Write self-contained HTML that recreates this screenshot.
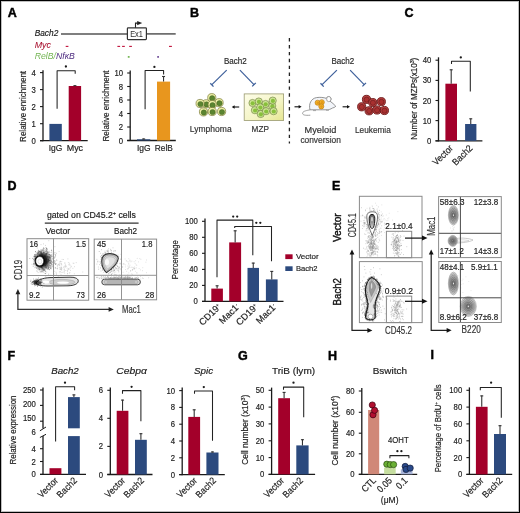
<!DOCTYPE html>
<html><head><meta charset="utf-8"><style>
html,body{margin:0;padding:0;background:#fff;width:520px;height:513px;overflow:hidden}
svg{display:block;will-change:transform}
text{font-family:"Liberation Sans",sans-serif}
</style></head><body><svg width="520" height="513" viewBox="0 0 520 513" font-family='"Liberation Sans", sans-serif' fill="#222"><rect x="0.5" y="0.5" width="519" height="512" fill="none" stroke="#000" stroke-width="1"/>
<rect x="1.5" y="1.5" width="517" height="510" fill="none" stroke="#000" stroke-width="1" opacity="0.25"/>
<text x="7.80" y="16.80" font-size="12.5" fill="#000" font-weight="bold" stroke="#000" stroke-width="0.45">A</text>
<text x="34.70" y="35.90" font-size="8.5" font-style="italic" textLength="23.60" lengthAdjust="spacingAndGlyphs" stroke="#222" stroke-width="0.18">Bach2</text>
<line x1="61.00" y1="33.90" x2="127.30" y2="33.90" stroke="#555" stroke-width="1.5"/>
<line x1="146.50" y1="33.90" x2="175.70" y2="33.90" stroke="#555" stroke-width="1.5"/>
<rect x="127.4" y="27.8" width="19" height="11.8" rx="0.8" fill="#fff" stroke="#333" stroke-width="1.2"/>
<text x="130.20" y="36.60" font-size="9.0" fill="#333" textLength="12.70" lengthAdjust="spacingAndGlyphs" stroke="#333" stroke-width="0.05">Ex1</text>
<path d="M135.5 27.8V23.1H138.2" stroke="#222" stroke-width="1.1" fill="none"/>
<path d="M137.2 20.9L142.2 23.1L137.2 25.3Z" fill="#222"/>
<text x="34.70" y="47.80" font-size="9.2" fill="#a8102e" font-style="italic" textLength="16.30" lengthAdjust="spacingAndGlyphs" stroke="#a8102e" stroke-width="0.05">Myc</text>
<line x1="65.70" y1="46.40" x2="68.40" y2="46.40" stroke="#c0103a" stroke-width="1.1"/>
<line x1="117.40" y1="46.40" x2="120.10" y2="46.40" stroke="#c0103a" stroke-width="1.1"/>
<line x1="122.10" y1="46.40" x2="124.80" y2="46.40" stroke="#c0103a" stroke-width="1.1"/>
<line x1="129.20" y1="46.40" x2="131.90" y2="46.40" stroke="#c0103a" stroke-width="1.1"/>
<line x1="169.00" y1="46.40" x2="171.90" y2="46.40" stroke="#c0103a" stroke-width="1.1"/>
<text x="34.7" y="58.6" font-size="9.2" font-style="italic" textLength="40.1" lengthAdjust="spacingAndGlyphs"><tspan fill="#74b554">RelB/</tspan><tspan fill="#4e2c80">Nf&#954;B</tspan></text>
<rect x="127.80" y="56.00" width="1.80" height="1.80" fill="#7ab85a"/>
<rect x="157.20" y="56.00" width="1.80" height="1.80" fill="#7a5aa0"/>
<line x1="43.00" y1="70.20" x2="43.00" y2="141.30" stroke="#1a1a1a" stroke-width="1.3"/>
<line x1="40.00" y1="140.70" x2="87.70" y2="140.70" stroke="#1a1a1a" stroke-width="1.3"/>
<line x1="40.00" y1="72.60" x2="43.00" y2="72.60" stroke="#1a1a1a" stroke-width="1.1"/>
<text x="35.80" y="75.60" font-size="8.4" text-anchor="end" textLength="4.30" lengthAdjust="spacingAndGlyphs" stroke="#222" stroke-width="0.18">4</text>
<line x1="40.00" y1="89.60" x2="43.00" y2="89.60" stroke="#1a1a1a" stroke-width="1.1"/>
<text x="35.80" y="92.60" font-size="8.4" text-anchor="end" textLength="4.30" lengthAdjust="spacingAndGlyphs" stroke="#222" stroke-width="0.18">3</text>
<line x1="40.00" y1="106.60" x2="43.00" y2="106.60" stroke="#1a1a1a" stroke-width="1.1"/>
<text x="35.80" y="109.60" font-size="8.4" text-anchor="end" textLength="4.30" lengthAdjust="spacingAndGlyphs" stroke="#222" stroke-width="0.18">2</text>
<line x1="40.00" y1="123.70" x2="43.00" y2="123.70" stroke="#1a1a1a" stroke-width="1.1"/>
<text x="35.80" y="126.70" font-size="8.4" text-anchor="end" textLength="4.30" lengthAdjust="spacingAndGlyphs" stroke="#222" stroke-width="0.18">1</text>
<line x1="40.00" y1="140.70" x2="43.00" y2="140.70" stroke="#1a1a1a" stroke-width="1.1"/>
<text x="35.80" y="143.70" font-size="8.4" text-anchor="end" textLength="4.30" lengthAdjust="spacingAndGlyphs" stroke="#222" stroke-width="0.18">0</text>
<rect x="49.40" y="123.90" width="12.40" height="16.80" fill="#2c4a7e"/>
<rect x="68.70" y="86.00" width="12.40" height="54.70" fill="#a3002a"/>
<line x1="74.90" y1="86.00" x2="74.90" y2="85.30" stroke="#333" stroke-width="1.1"/>
<line x1="73.40" y1="85.70" x2="76.40" y2="85.70" stroke="#333" stroke-width="1.1"/>
<path d="M57.10 108.70V70.80H75.20V73.80" stroke="#222" stroke-width="1.05" fill="none" stroke-linejoin="round"/>
<circle cx="65.90" cy="66.50" r="1.15" fill="#1a1a1a"/>
<text x="26.00" y="106.40" font-size="9" text-anchor="middle" textLength="71.00" lengthAdjust="spacingAndGlyphs" transform="rotate(-90 26.00 106.40)" stroke="#222" stroke-width="0.18">Relative enrichment</text>
<text x="48.70" y="151.20" font-size="8.9" textLength="13.60" lengthAdjust="spacingAndGlyphs" stroke="#222" stroke-width="0.18">IgG</text>
<text x="66.70" y="151.20" font-size="8.9" textLength="16.40" lengthAdjust="spacingAndGlyphs" stroke="#222" stroke-width="0.18">Myc</text>
<line x1="130.20" y1="70.40" x2="130.20" y2="141.10" stroke="#1a1a1a" stroke-width="1.3"/>
<line x1="127.20" y1="140.50" x2="175.80" y2="140.50" stroke="#1a1a1a" stroke-width="1.3"/>
<line x1="127.20" y1="73.00" x2="130.20" y2="73.00" stroke="#1a1a1a" stroke-width="1.1"/>
<text x="123.00" y="76.00" font-size="8.4" text-anchor="end" textLength="8.60" lengthAdjust="spacingAndGlyphs" stroke="#222" stroke-width="0.18">10</text>
<line x1="127.20" y1="86.50" x2="130.20" y2="86.50" stroke="#1a1a1a" stroke-width="1.1"/>
<text x="123.00" y="89.50" font-size="8.4" text-anchor="end" textLength="4.30" lengthAdjust="spacingAndGlyphs" stroke="#222" stroke-width="0.18">8</text>
<line x1="127.20" y1="100.00" x2="130.20" y2="100.00" stroke="#1a1a1a" stroke-width="1.1"/>
<text x="123.00" y="103.00" font-size="8.4" text-anchor="end" textLength="4.30" lengthAdjust="spacingAndGlyphs" stroke="#222" stroke-width="0.18">6</text>
<line x1="127.20" y1="113.50" x2="130.20" y2="113.50" stroke="#1a1a1a" stroke-width="1.1"/>
<text x="123.00" y="116.50" font-size="8.4" text-anchor="end" textLength="4.30" lengthAdjust="spacingAndGlyphs" stroke="#222" stroke-width="0.18">4</text>
<line x1="127.20" y1="127.00" x2="130.20" y2="127.00" stroke="#1a1a1a" stroke-width="1.1"/>
<text x="123.00" y="130.00" font-size="8.4" text-anchor="end" textLength="4.30" lengthAdjust="spacingAndGlyphs" stroke="#222" stroke-width="0.18">2</text>
<line x1="127.20" y1="140.50" x2="130.20" y2="140.50" stroke="#1a1a1a" stroke-width="1.1"/>
<text x="123.00" y="143.50" font-size="8.4" text-anchor="end" textLength="4.30" lengthAdjust="spacingAndGlyphs" stroke="#222" stroke-width="0.18">0</text>
<rect x="137.00" y="139.30" width="13.30" height="1.20" fill="#2c4a7e"/>
<line x1="143.65" y1="139.30" x2="143.65" y2="138.60" stroke="#333" stroke-width="1.1"/>
<line x1="142.15" y1="139.00" x2="145.15" y2="139.00" stroke="#333" stroke-width="1.1"/>
<rect x="157.00" y="81.60" width="13.10" height="58.90" fill="#e8961e"/>
<line x1="163.55" y1="81.60" x2="163.55" y2="76.10" stroke="#333" stroke-width="1.1"/>
<line x1="162.05" y1="76.50" x2="165.05" y2="76.50" stroke="#333" stroke-width="1.1"/>
<path d="M145.10 109.20V70.40H163.60V74.40" stroke="#222" stroke-width="1.05" fill="none" stroke-linejoin="round"/>
<circle cx="154.40" cy="66.90" r="1.15" fill="#1a1a1a"/>
<text x="109.10" y="106.00" font-size="9" text-anchor="middle" textLength="71.00" lengthAdjust="spacingAndGlyphs" transform="rotate(-90 109.10 106.00)" stroke="#222" stroke-width="0.18">Relative enrichment</text>
<text x="137.00" y="151.20" font-size="8.9" textLength="13.70" lengthAdjust="spacingAndGlyphs" stroke="#222" stroke-width="0.18">IgG</text>
<text x="154.80" y="151.20" font-size="8.9" textLength="18.00" lengthAdjust="spacingAndGlyphs" stroke="#222" stroke-width="0.18">RelB</text>
<text x="189.90" y="16.90" font-size="12.5" fill="#000" font-weight="bold" stroke="#000" stroke-width="0.45">B</text>
<text x="224.00" y="64.00" font-size="8.5" fill="#2a2a2a" textLength="22.80" lengthAdjust="spacingAndGlyphs" stroke="#2a2a2a" stroke-width="0.18">Bach2</text>
<text x="331.40" y="64.00" font-size="8.5" fill="#2a2a2a" textLength="22.80" lengthAdjust="spacingAndGlyphs" stroke="#2a2a2a" stroke-width="0.18">Bach2</text>
<line x1="226.70" y1="70.10" x2="211.90" y2="84.60" stroke="#3d5f9a" stroke-width="1.2"/>
<line x1="210.30" y1="83.30" x2="213.50" y2="86.60" stroke="#3d5f9a" stroke-width="1.3"/>
<line x1="239.90" y1="70.10" x2="254.20" y2="84.80" stroke="#3d5f9a" stroke-width="1.2"/>
<line x1="252.20" y1="86.40" x2="255.80" y2="82.90" stroke="#3d5f9a" stroke-width="1.3"/>
<line x1="336.90" y1="70.10" x2="322.10" y2="84.60" stroke="#3d5f9a" stroke-width="1.2"/>
<line x1="320.50" y1="83.30" x2="323.70" y2="86.60" stroke="#3d5f9a" stroke-width="1.3"/>
<line x1="350.10" y1="70.10" x2="364.40" y2="84.80" stroke="#3d5f9a" stroke-width="1.2"/>
<line x1="362.40" y1="86.40" x2="366.00" y2="82.90" stroke="#3d5f9a" stroke-width="1.3"/>
<line x1="289.40" y1="38.10" x2="289.40" y2="143.50" stroke="#222" stroke-width="1.3" stroke-dasharray="3.4 3.5"/>
<circle cx="206.20" cy="103.80" r="4.10" fill="#f0f2a8" stroke="#7a7a3a" stroke-width="0.7"/>
<circle cx="206.55" cy="104.40" r="2.70" fill="#5b8530" stroke="#3f5e20" stroke-width="0.4"/>
<circle cx="211.80" cy="97.70" r="4.10" fill="#f0f2a8" stroke="#7a7a3a" stroke-width="0.7"/>
<circle cx="212.15" cy="98.30" r="2.70" fill="#5b8530" stroke="#3f5e20" stroke-width="0.4"/>
<circle cx="200.10" cy="103.50" r="4.10" fill="#f0f2a8" stroke="#7a7a3a" stroke-width="0.7"/>
<circle cx="200.45" cy="104.10" r="2.70" fill="#5b8530" stroke="#3f5e20" stroke-width="0.4"/>
<circle cx="219.10" cy="102.70" r="4.10" fill="#f0f2a8" stroke="#7a7a3a" stroke-width="0.7"/>
<circle cx="219.45" cy="103.30" r="2.70" fill="#5b8530" stroke="#3f5e20" stroke-width="0.4"/>
<circle cx="212.20" cy="104.60" r="4.10" fill="#f0f2a8" stroke="#7a7a3a" stroke-width="0.7"/>
<circle cx="212.55" cy="105.20" r="2.70" fill="#5b8530" stroke="#3f5e20" stroke-width="0.4"/>
<circle cx="203.50" cy="111.90" r="4.10" fill="#f0f2a8" stroke="#7a7a3a" stroke-width="0.7"/>
<circle cx="203.85" cy="112.50" r="2.70" fill="#5b8530" stroke="#3f5e20" stroke-width="0.4"/>
<circle cx="212.20" cy="111.50" r="4.10" fill="#f0f2a8" stroke="#7a7a3a" stroke-width="0.7"/>
<circle cx="212.55" cy="112.10" r="2.70" fill="#5b8530" stroke="#3f5e20" stroke-width="0.4"/>
<circle cx="221.60" cy="111.50" r="4.10" fill="#f0f2a8" stroke="#7a7a3a" stroke-width="0.7"/>
<circle cx="221.95" cy="112.10" r="2.70" fill="#5b8530" stroke="#3f5e20" stroke-width="0.4"/>
<line x1="233.50" y1="107.00" x2="239.20" y2="107.00" stroke="#111" stroke-width="1.1"/>
<path d="M231.8 107L234.6 105.3L234.6 108.7Z" fill="#111"/>
<defs><linearGradient id="mzp" x1="0" y1="0" x2="1" y2="1"><stop offset="0" stop-color="#fdfde8"/><stop offset="0.6" stop-color="#f4f4c4"/><stop offset="1" stop-color="#e6e690"/></linearGradient></defs>
<rect x="244.2" y="93.9" width="39.4" height="26.6" fill="url(#mzp)" stroke="#9a9a70" stroke-width="0.8"/>
<circle cx="272.20" cy="105.90" r="3.60" fill="#cde595" stroke="#6a7a3a" stroke-width="0.6"/>
<circle cx="272.40" cy="106.20" r="2.10" fill="#88c03c"/>
<circle cx="252.50" cy="103.00" r="3.60" fill="#cde595" stroke="#6a7a3a" stroke-width="0.6"/>
<circle cx="252.70" cy="103.30" r="2.10" fill="#88c03c"/>
<circle cx="258.75" cy="101.50" r="3.60" fill="#cde595" stroke="#6a7a3a" stroke-width="0.6"/>
<circle cx="258.95" cy="101.80" r="2.10" fill="#88c03c"/>
<circle cx="265.50" cy="104.00" r="3.60" fill="#cde595" stroke="#6a7a3a" stroke-width="0.6"/>
<circle cx="265.70" cy="104.30" r="2.10" fill="#88c03c"/>
<circle cx="272.70" cy="100.60" r="3.60" fill="#cde595" stroke="#6a7a3a" stroke-width="0.6"/>
<circle cx="272.90" cy="100.90" r="2.10" fill="#88c03c"/>
<circle cx="254.90" cy="110.20" r="3.60" fill="#cde595" stroke="#6a7a3a" stroke-width="0.6"/>
<circle cx="255.10" cy="110.50" r="2.10" fill="#88c03c"/>
<circle cx="260.20" cy="107.30" r="3.60" fill="#cde595" stroke="#6a7a3a" stroke-width="0.6"/>
<circle cx="260.40" cy="107.60" r="2.10" fill="#88c03c"/>
<circle cx="260.70" cy="114.00" r="3.60" fill="#cde595" stroke="#6a7a3a" stroke-width="0.6"/>
<circle cx="260.90" cy="114.30" r="2.10" fill="#88c03c"/>
<circle cx="266.00" cy="111.20" r="3.60" fill="#cde595" stroke="#6a7a3a" stroke-width="0.6"/>
<circle cx="266.20" cy="111.50" r="2.10" fill="#88c03c"/>
<circle cx="273.60" cy="111.20" r="3.60" fill="#cde595" stroke="#6a7a3a" stroke-width="0.6"/>
<circle cx="273.80" cy="111.50" r="2.10" fill="#88c03c"/>
<line x1="294.50" y1="106.80" x2="299.20" y2="106.80" stroke="#111" stroke-width="1.1"/>
<path d="M301.6 106.8L298.6 105.1L298.6 108.5Z" fill="#111"/>
<line x1="342.60" y1="106.80" x2="347.50" y2="106.80" stroke="#111" stroke-width="1.1"/>
<path d="M350 106.8L347 105.1L347 108.5Z" fill="#111"/>
<path d="M310 109.8C308.5 104 311 98.5 316.5 97.6C320 97 324 97.5 326.2 98.3C327 96.3 330.5 96.3 331 98.6C331.2 99.8 330.5 100.6 329.8 101C332 102.5 334.2 104.5 335.8 106.3C335 107.3 333.5 107.8 332.5 108C330.5 109.3 328.5 109.8 327.5 109.8Z" stroke="#7a7a7a" stroke-width="0.8" fill="#f2f5fa"/>
<ellipse cx="328.8" cy="99.1" rx="2.2" ry="2.6" fill="#fff" stroke="#888" stroke-width="0.7"/>
<path d="M310 109.8C307 110.5 303 111 302.6 113C302.3 115 305 115.6 310.3 115.2" stroke="#888" stroke-width="0.8" fill="none"/>
<line x1="313.00" y1="110.60" x2="316.00" y2="110.60" stroke="#888" stroke-width="0.7"/>
<line x1="326.00" y1="110.20" x2="329.00" y2="110.20" stroke="#888" stroke-width="0.7"/>
<circle cx="317.60" cy="102.70" r="2.55" fill="#f3b32a" stroke="#b87410" stroke-width="0.6"/>
<circle cx="317.80" cy="102.90" r="1.30" fill="#e39a1a"/>
<circle cx="321.80" cy="102.20" r="2.55" fill="#f3b32a" stroke="#b87410" stroke-width="0.6"/>
<circle cx="322.00" cy="102.40" r="1.30" fill="#e39a1a"/>
<circle cx="321.30" cy="106.40" r="2.55" fill="#f3b32a" stroke="#b87410" stroke-width="0.6"/>
<circle cx="321.50" cy="106.60" r="1.30" fill="#e39a1a"/>
<circle cx="366.50" cy="99.40" r="4.10" fill="#bb4242" stroke="#6a1a1a" stroke-width="0.9"/>
<circle cx="366.60" cy="99.60" r="2.60" fill="#a83030" stroke="#701c1c" stroke-width="0.7"/>
<circle cx="372.80" cy="102.60" r="4.10" fill="#bb4242" stroke="#6a1a1a" stroke-width="0.9"/>
<circle cx="372.90" cy="102.80" r="2.60" fill="#a83030" stroke="#701c1c" stroke-width="0.7"/>
<circle cx="381.30" cy="101.70" r="4.10" fill="#bb4242" stroke="#6a1a1a" stroke-width="0.9"/>
<circle cx="381.40" cy="101.90" r="2.60" fill="#a83030" stroke="#701c1c" stroke-width="0.7"/>
<circle cx="361.70" cy="106.80" r="4.10" fill="#bb4242" stroke="#6a1a1a" stroke-width="0.9"/>
<circle cx="361.80" cy="107.00" r="2.60" fill="#a83030" stroke="#701c1c" stroke-width="0.7"/>
<circle cx="369.10" cy="110.80" r="4.10" fill="#bb4242" stroke="#6a1a1a" stroke-width="0.9"/>
<circle cx="369.20" cy="111.00" r="2.60" fill="#a83030" stroke="#701c1c" stroke-width="0.7"/>
<circle cx="377.00" cy="110.00" r="4.10" fill="#bb4242" stroke="#6a1a1a" stroke-width="0.9"/>
<circle cx="377.10" cy="110.20" r="2.60" fill="#a83030" stroke="#701c1c" stroke-width="0.7"/>
<circle cx="384.40" cy="110.50" r="4.10" fill="#bb4242" stroke="#6a1a1a" stroke-width="0.9"/>
<circle cx="384.50" cy="110.70" r="2.60" fill="#a83030" stroke="#701c1c" stroke-width="0.7"/>
<text x="189.80" y="131.50" font-size="9.1" fill="#333" textLength="41.90" lengthAdjust="spacingAndGlyphs" stroke="#333" stroke-width="0.18">Lymphoma</text>
<text x="251.60" y="131.50" font-size="9.1" fill="#333" textLength="17.30" lengthAdjust="spacingAndGlyphs" stroke="#333" stroke-width="0.18">MZP</text>
<text x="304.60" y="133.00" font-size="9.1" fill="#333" textLength="31.70" lengthAdjust="spacingAndGlyphs" stroke="#333" stroke-width="0.18">Myeloid</text>
<text x="300.40" y="142.60" font-size="9.1" fill="#333" textLength="40.40" lengthAdjust="spacingAndGlyphs" stroke="#333" stroke-width="0.18">conversion</text>
<text x="355.00" y="133.00" font-size="9.1" fill="#333" textLength="35.80" lengthAdjust="spacingAndGlyphs" stroke="#333" stroke-width="0.18">Leukemia</text>
<text x="404.40" y="16.90" font-size="12.5" fill="#000" font-weight="bold" stroke="#000" stroke-width="0.45">C</text>
<line x1="438.50" y1="57.30" x2="438.50" y2="141.40" stroke="#1a1a1a" stroke-width="1.3"/>
<line x1="435.50" y1="140.80" x2="482.40" y2="140.80" stroke="#1a1a1a" stroke-width="1.3"/>
<line x1="435.50" y1="60.20" x2="438.50" y2="60.20" stroke="#1a1a1a" stroke-width="1.1"/>
<text x="431.30" y="63.20" font-size="8.4" text-anchor="end" textLength="8.60" lengthAdjust="spacingAndGlyphs" stroke="#222" stroke-width="0.18">40</text>
<line x1="435.50" y1="80.40" x2="438.50" y2="80.40" stroke="#1a1a1a" stroke-width="1.1"/>
<text x="431.30" y="83.40" font-size="8.4" text-anchor="end" textLength="8.60" lengthAdjust="spacingAndGlyphs" stroke="#222" stroke-width="0.18">30</text>
<line x1="435.50" y1="100.50" x2="438.50" y2="100.50" stroke="#1a1a1a" stroke-width="1.1"/>
<text x="431.30" y="103.50" font-size="8.4" text-anchor="end" textLength="8.60" lengthAdjust="spacingAndGlyphs" stroke="#222" stroke-width="0.18">20</text>
<line x1="435.50" y1="120.60" x2="438.50" y2="120.60" stroke="#1a1a1a" stroke-width="1.1"/>
<text x="431.30" y="123.60" font-size="8.4" text-anchor="end" textLength="8.60" lengthAdjust="spacingAndGlyphs" stroke="#222" stroke-width="0.18">10</text>
<line x1="435.50" y1="140.80" x2="438.50" y2="140.80" stroke="#1a1a1a" stroke-width="1.1"/>
<text x="431.30" y="143.80" font-size="8.4" text-anchor="end" textLength="4.30" lengthAdjust="spacingAndGlyphs" stroke="#222" stroke-width="0.18">0</text>
<rect x="445.40" y="83.70" width="11.60" height="57.10" fill="#a3002a"/>
<line x1="451.20" y1="83.70" x2="451.20" y2="69.40" stroke="#333" stroke-width="1.1"/>
<line x1="449.70" y1="69.80" x2="452.70" y2="69.80" stroke="#333" stroke-width="1.1"/>
<rect x="465.10" y="124.00" width="11.30" height="16.80" fill="#2c4a7e"/>
<line x1="470.75" y1="124.00" x2="470.75" y2="118.40" stroke="#333" stroke-width="1.1"/>
<line x1="469.25" y1="118.80" x2="472.25" y2="118.80" stroke="#333" stroke-width="1.1"/>
<path d="M451.50 64.00V61.20H470.30V91.50" stroke="#222" stroke-width="1.05" fill="none" stroke-linejoin="round"/>
<circle cx="460.80" cy="57.40" r="1.15" fill="#1a1a1a"/>
<text x="417.00" y="98.70" font-size="8.5" text-anchor="middle" textLength="82.00" lengthAdjust="spacingAndGlyphs" transform="rotate(-90 417.00 98.70)" stroke="#222" stroke-width="0.18">Number of MZPs(x10<tspan font-size="5.5" dy="-3">3</tspan><tspan dy="3">)</tspan></text>
<text x="453.60" y="148.80" font-size="9.5" text-anchor="end" textLength="24.40" lengthAdjust="spacingAndGlyphs" transform="rotate(-45 453.60 148.80)" stroke="#222" stroke-width="0.18">Vector</text>
<text x="473.20" y="148.80" font-size="9.5" text-anchor="end" textLength="24.40" lengthAdjust="spacingAndGlyphs" transform="rotate(-45 473.20 148.80)" stroke="#222" stroke-width="0.18">Bach2</text>
<text x="7.50" y="189.80" font-size="12.5" fill="#000" font-weight="bold" stroke="#000" stroke-width="0.45">D</text>
<text x="46.90" y="217.80" font-size="8.5" textLength="89.00" lengthAdjust="spacingAndGlyphs" stroke="#222" stroke-width="0.18">gated on CD45.2<tspan font-size="5.5" dy="-3.2">+</tspan><tspan dy="3.2"> cells</tspan></text>
<line x1="44.80" y1="223.20" x2="138.60" y2="223.20" stroke="#333" stroke-width="1.2"/>
<text x="45.50" y="233.70" font-size="8.8" textLength="24.70" lengthAdjust="spacingAndGlyphs" stroke="#222" stroke-width="0.18">Vector</text>
<text x="114.00" y="233.70" font-size="8.8" textLength="23.10" lengthAdjust="spacingAndGlyphs" stroke="#222" stroke-width="0.18">Bach2</text>
<rect x="27.00" y="238.70" width="61.70" height="61.50" fill="#fff"/>
<defs><radialGradient id="cl1"><stop offset="0" stop-color="#000" stop-opacity="0.95"/><stop offset="0.45" stop-color="#111" stop-opacity="0.8"/><stop offset="0.8" stop-color="#444" stop-opacity="0.3"/><stop offset="1" stop-color="#888" stop-opacity="0"/></radialGradient></defs>
<ellipse cx="42.3" cy="260.6" rx="10" ry="11" fill="url(#cl1)"/>
<path d="M41.5 262.1h.01M40.5 256.9h.01M39.9 256.4h.01M41.7 266.7h.01M39.7 258.1h.01M43.3 262.4h.01M41.9 256.7h.01M41.4 263.9h.01M36.7 258.8h.01M34.7 255.1h.01M34.9 259.8h.01M36.9 262.0h.01M42.1 260.0h.01M32.4 258.4h.01M41.3 261.3h.01M36.0 258.7h.01M38.0 257.2h.01M45.3 257.2h.01M41.4 264.7h.01M39.4 260.3h.01M41.9 261.1h.01M37.1 261.1h.01M46.4 254.0h.01M44.6 261.3h.01M39.2 269.6h.01M44.2 255.5h.01M41.8 263.3h.01M40.8 263.8h.01M41.3 263.7h.01M46.7 257.8h.01M42.2 258.8h.01M42.0 255.6h.01M39.4 259.9h.01M44.7 265.8h.01M36.7 257.3h.01M43.8 252.0h.01M39.8 260.4h.01M46.0 263.8h.01M40.3 259.2h.01M40.6 267.5h.01M40.0 259.5h.01M42.8 260.3h.01M40.8 255.9h.01M41.5 258.8h.01M45.7 263.7h.01M41.4 263.7h.01M40.3 265.4h.01M41.5 263.4h.01M36.9 262.3h.01M35.4 251.8h.01M40.4 256.8h.01M42.1 270.7h.01M38.5 258.1h.01M42.2 263.0h.01M40.9 259.9h.01M44.0 263.1h.01M37.8 260.5h.01M41.6 256.2h.01M42.4 257.0h.01M45.0 261.6h.01M41.8 258.2h.01M41.1 252.0h.01M37.4 262.4h.01M33.8 264.5h.01M35.2 264.1h.01M38.5 264.2h.01M42.0 254.0h.01M46.0 267.1h.01M41.3 259.6h.01M40.9 256.5h.01M45.5 258.4h.01M41.3 257.3h.01M39.2 255.2h.01M46.0 260.1h.01M45.0 260.9h.01M39.0 259.4h.01M39.5 260.8h.01M40.1 259.5h.01M36.5 257.2h.01M47.5 257.8h.01M37.7 262.3h.01M46.6 254.4h.01M40.7 258.0h.01M35.2 264.0h.01M41.4 261.1h.01M38.8 262.8h.01M39.6 260.2h.01M37.5 255.4h.01M46.3 258.6h.01M42.6 260.7h.01M39.9 258.6h.01M43.8 259.5h.01M41.0 260.9h.01M45.7 263.8h.01M42.9 258.3h.01M36.5 265.0h.01M45.0 260.2h.01M43.5 264.2h.01M44.5 264.9h.01M39.9 267.5h.01M37.0 264.6h.01M43.3 264.6h.01M48.3 267.3h.01M37.4 253.4h.01M44.4 256.3h.01M41.5 264.5h.01M35.6 251.5h.01M42.4 261.0h.01M40.6 261.0h.01M38.4 254.1h.01M40.9 256.5h.01M35.6 263.0h.01M41.3 262.6h.01M37.9 257.9h.01M37.9 256.9h.01M42.2 257.4h.01M42.8 262.3h.01M48.8 254.7h.01M44.7 260.4h.01M41.4 254.4h.01M39.8 264.1h.01M41.2 261.2h.01M40.5 265.9h.01M41.4 251.1h.01M39.0 252.1h.01M29.8 258.5h.01M46.3 261.0h.01M37.3 256.7h.01M45.6 261.5h.01M41.7 260.6h.01M41.6 264.3h.01M43.5 261.7h.01M37.7 263.0h.01M39.0 265.6h.01M36.9 260.2h.01M41.5 255.0h.01M47.7 267.2h.01M39.8 264.2h.01M42.9 249.3h.01M42.4 260.5h.01M41.8 256.1h.01M40.5 260.0h.01M45.8 262.3h.01M41.5 267.5h.01M39.5 259.1h.01M35.0 267.7h.01M45.0 264.8h.01M43.9 261.3h.01M42.3 259.7h.01M40.8 261.0h.01M46.9 263.2h.01M41.3 258.3h.01M39.2 267.9h.01M43.3 261.1h.01M40.3 255.9h.01M41.3 264.6h.01M40.1 259.8h.01M40.7 261.3h.01M35.8 259.8h.01M38.4 264.7h.01M38.7 263.3h.01M47.0 259.4h.01M39.3 261.6h.01M41.5 256.4h.01M43.2 269.7h.01M40.6 259.9h.01M37.7 262.2h.01M37.0 255.9h.01M46.1 256.8h.01M45.4 267.5h.01M42.4 263.2h.01M48.5 259.9h.01M39.4 254.8h.01M41.7 267.3h.01M45.0 256.7h.01M38.4 258.6h.01M42.6 259.9h.01M42.3 262.1h.01M40.4 260.6h.01M42.2 260.4h.01M43.3 269.0h.01M43.6 261.0h.01M35.4 262.5h.01M34.5 254.6h.01M44.6 263.9h.01M41.0 253.3h.01M40.2 257.8h.01M43.8 270.7h.01M42.3 257.4h.01M37.3 260.6h.01M40.9 255.7h.01M41.9 255.7h.01M45.5 265.5h.01M45.4 258.7h.01M43.4 260.2h.01M40.1 259.3h.01M36.8 254.4h.01M44.4 260.0h.01M42.3 265.2h.01M35.3 257.3h.01M42.1 262.5h.01M40.1 265.3h.01M42.3 255.5h.01M38.1 264.3h.01M43.2 252.4h.01M46.4 263.4h.01M46.3 259.1h.01M40.4 255.8h.01M50.6 260.0h.01M47.2 258.0h.01M42.1 253.4h.01M40.1 265.1h.01M37.0 265.5h.01M42.7 256.2h.01M39.7 258.8h.01M41.3 258.4h.01M38.5 259.5h.01M37.8 255.1h.01M41.3 264.7h.01M36.0 260.8h.01M39.2 256.5h.01M44.6 258.5h.01M46.9 257.4h.01M42.9 259.8h.01M38.8 263.4h.01M40.9 263.5h.01M41.3 256.0h.01M41.1 261.0h.01M45.0 256.8h.01M41.4 253.2h.01M43.8 256.0h.01M35.0 260.5h.01M45.5 254.1h.01M37.6 257.5h.01M37.4 262.5h.01M38.6 257.6h.01M43.6 257.5h.01M43.1 256.5h.01M37.1 252.7h.01M48.2 259.4h.01M42.4 260.7h.01M42.1 261.0h.01M48.4 256.2h.01M35.9 256.3h.01M36.7 264.1h.01M44.5 256.6h.01M36.5 259.2h.01M46.5 248.4h.01M43.4 256.1h.01M45.2 256.1h.01M40.5 254.2h.01M38.0 266.9h.01M44.5 259.0h.01M38.4 252.5h.01M40.1 260.7h.01M41.2 260.4h.01M37.5 260.5h.01M41.4 266.5h.01M48.2 260.2h.01M38.7 260.5h.01M39.3 257.5h.01M41.3 256.2h.01M43.7 260.3h.01M42.4 260.0h.01M38.9 256.6h.01M40.6 258.4h.01M42.3 260.8h.01M36.6 261.1h.01M36.7 258.1h.01M40.4 251.7h.01M41.8 261.5h.01M40.9 258.9h.01M40.2 256.5h.01M40.5 258.4h.01M41.8 255.5h.01M42.3 261.4h.01M41.0 258.9h.01M43.5 253.5h.01M43.2 261.9h.01M42.5 262.5h.01M39.1 259.7h.01M43.8 262.7h.01M42.2 254.1h.01M43.4 265.9h.01M45.1 261.8h.01M35.9 264.9h.01M41.0 249.7h.01M42.9 254.2h.01M36.8 258.0h.01M46.1 259.2h.01M42.5 268.5h.01M47.2 260.3h.01M40.6 255.3h.01M39.0 262.7h.01M42.9 261.3h.01M45.1 257.4h.01M41.3 264.0h.01M43.6 265.5h.01M42.9 259.4h.01M42.8 256.4h.01M35.6 263.4h.01M41.3 262.2h.01M35.4 259.2h.01M39.3 257.0h.01M33.4 259.3h.01M44.7 262.5h.01M39.3 260.7h.01M44.2 248.7h.01M41.1 263.2h.01M44.0 268.3h.01M45.6 262.2h.01M42.6 264.3h.01M39.6 260.6h.01M44.8 269.4h.01M40.9 260.6h.01M42.2 266.7h.01M41.4 267.3h.01M38.0 260.0h.01M40.8 264.3h.01M45.3 254.2h.01M38.2 262.3h.01M39.1 254.1h.01M45.2 263.0h.01M43.3 258.7h.01M45.2 259.7h.01M45.4 256.8h.01M38.4 261.7h.01M39.0 263.8h.01M42.4 256.7h.01M41.8 259.3h.01M44.8 258.0h.01M39.9 266.1h.01M49.6 269.6h.01M41.7 261.8h.01M47.0 260.3h.01M38.0 261.3h.01M43.1 257.2h.01M35.6 254.5h.01M43.9 257.5h.01M41.0 261.7h.01M43.7 259.3h.01M43.3 256.9h.01M40.2 256.3h.01M45.6 260.7h.01M38.8 259.2h.01M40.7 263.9h.01M35.8 256.2h.01M40.1 271.9h.01M44.9 260.3h.01M44.1 269.9h.01M40.7 259.2h.01M45.9 263.0h.01M43.9 258.6h.01M48.4 268.3h.01M43.5 263.8h.01M34.2 263.6h.01M40.8 262.7h.01M44.0 259.3h.01M35.4 262.4h.01M38.8 259.3h.01M39.3 259.3h.01M33.2 266.2h.01M42.4 265.7h.01M48.6 260.9h.01M35.0 256.9h.01M37.2 258.6h.01M41.8 252.0h.01M42.7 254.2h.01M42.6 260.3h.01M40.4 260.5h.01M39.6 258.1h.01M35.4 260.7h.01M48.1 269.5h.01M46.3 263.9h.01M39.1 267.1h.01M41.3 260.5h.01M40.5 261.2h.01M39.9 260.4h.01M37.6 259.2h.01M49.7 260.5h.01M40.6 263.1h.01M44.0 255.9h.01M40.8 264.8h.01M42.5 261.3h.01M47.1 257.8h.01M41.8 258.5h.01M46.9 252.2h.01M39.1 258.5h.01M43.9 263.5h.01M46.5 253.9h.01M44.2 259.5h.01M39.1 263.2h.01M38.2 251.7h.01M40.2 254.2h.01M39.2 262.4h.01M42.6 267.8h.01M40.8 254.1h.01M38.8 256.8h.01M37.1 262.7h.01M39.2 252.1h.01M44.0 260.3h.01M42.8 261.3h.01M43.8 261.0h.01M46.0 262.7h.01M42.9 262.6h.01M36.3 260.1h.01M40.6 261.7h.01M36.6 268.0h.01M41.9 255.5h.01M35.3 259.6h.01M41.2 257.6h.01M41.8 258.0h.01M43.5 257.6h.01M41.4 265.1h.01M50.8 256.4h.01M39.8 257.1h.01M44.3 255.7h.01M39.8 260.7h.01M38.0 256.6h.01M39.8 251.6h.01M36.3 259.0h.01M42.0 260.0h.01M35.1 258.8h.01M44.4 263.2h.01M41.2 256.9h.01M43.8 258.3h.01M37.3 257.3h.01M46.7 261.8h.01M45.7 258.7h.01M44.9 258.2h.01M40.9 271.7h.01M44.3 258.6h.01M41.2 262.2h.01M45.9 258.6h.01M35.2 259.6h.01M41.6 261.3h.01M46.2 262.2h.01M44.4 256.0h.01M44.6 270.0h.01M44.3 261.9h.01M42.1 268.7h.01M38.2 260.3h.01M43.2 264.1h.01M39.9 262.2h.01M40.5 261.3h.01M41.0 255.8h.01M41.4 264.7h.01M38.0 259.7h.01M43.9 256.1h.01M42.2 256.1h.01M45.6 271.0h.01M48.8 259.8h.01M44.2 261.3h.01M41.9 267.6h.01M36.8 265.4h.01M41.3 267.0h.01M42.2 257.8h.01M42.5 264.0h.01M41.6 262.9h.01M39.6 251.4h.01M44.7 263.9h.01M42.0 261.1h.01M45.2 258.8h.01M39.0 260.0h.01M45.8 254.7h.01M45.8 258.0h.01M37.5 266.3h.01M41.2 255.1h.01M40.2 264.9h.01M45.8 258.9h.01M43.0 263.9h.01M39.2 262.4h.01M41.4 258.4h.01M39.7 261.1h.01M41.6 258.3h.01M40.0 265.7h.01M42.3 264.7h.01M45.8 263.4h.01M49.7 257.2h.01M44.4 259.4h.01M48.2 268.3h.01M34.5 256.5h.01M43.9 264.3h.01M44.2 260.5h.01M43.1 263.7h.01M41.2 265.3h.01M33.4 263.6h.01M37.8 265.0h.01M40.7 256.9h.01M42.8 256.8h.01M38.2 253.9h.01M41.4 263.0h.01M45.2 260.2h.01M45.3 260.9h.01M41.2 263.3h.01M45.3 259.3h.01M40.6 260.1h.01M41.8 256.8h.01M45.2 259.0h.01M43.2 257.2h.01M42.8 262.5h.01M40.0 269.7h.01M42.8 268.6h.01M45.0 257.9h.01M40.1 262.7h.01M41.7 261.0h.01M40.5 252.8h.01M40.7 251.0h.01M42.8 257.6h.01M38.9 259.8h.01M42.5 254.5h.01M35.2 256.1h.01M34.1 256.5h.01M47.2 256.2h.01M43.8 254.8h.01M42.6 259.4h.01M41.3 263.3h.01M47.8 261.7h.01M41.9 256.5h.01M43.6 259.7h.01M44.5 260.6h.01M47.8 252.1h.01M40.4 264.7h.01M40.2 257.3h.01M40.5 254.7h.01M41.9 271.5h.01M45.6 255.9h.01M38.4 259.0h.01M45.1 257.2h.01M39.0 264.7h.01M44.6 259.2h.01M37.5 254.0h.01M39.0 251.0h.01M44.2 258.0h.01M43.2 269.0h.01M45.7 255.7h.01M44.6 265.9h.01M38.8 256.6h.01M41.1 253.8h.01M46.8 250.2h.01M37.5 259.6h.01M40.7 261.5h.01M42.5 259.9h.01M45.6 251.4h.01M41.5 257.7h.01M42.0 261.8h.01M38.2 258.0h.01M44.4 262.3h.01M39.1 269.8h.01M49.8 254.4h.01M42.6 271.8h.01M44.3 261.8h.01M40.8 258.4h.01M40.7 258.4h.01M44.2 259.0h.01M39.9 255.5h.01M41.3 256.9h.01M40.8 265.4h.01M42.8 263.0h.01M42.8 261.1h.01M41.0 259.4h.01M44.2 256.0h.01M46.3 260.9h.01M38.8 258.6h.01M39.1 261.5h.01M38.9 265.8h.01M38.7 250.8h.01M38.9 252.0h.01M41.4 265.5h.01M43.8 254.9h.01M38.8 268.6h.01M42.6 260.8h.01M45.3 271.6h.01M46.2 261.4h.01M42.8 263.5h.01M39.3 256.1h.01M41.7 256.6h.01M41.3 261.2h.01M49.9 257.1h.01M41.1 260.1h.01M43.1 265.4h.01M39.7 257.2h.01M35.6 256.7h.01M43.4 261.0h.01M37.8 259.2h.01M41.6 263.0h.01M39.4 259.7h.01M35.0 255.7h.01M47.3 251.2h.01M40.3 261.8h.01M40.2 257.2h.01M41.3 260.8h.01M41.2 252.5h.01M41.0 257.0h.01M39.5 261.8h.01M43.8 264.7h.01M39.7 264.9h.01M45.7 265.8h.01M46.5 260.2h.01M40.9 264.4h.01" stroke="#111" stroke-width="0.6" stroke-linecap="round" opacity="0.6"/>
<path d="M41.1 261.5h.01M44.1 258.8h.01M39.7 256.4h.01M45.9 264.6h.01M49.6 260.1h.01M45.3 256.7h.01M47.4 259.4h.01M48.2 268.6h.01M45.9 253.6h.01M42.9 253.8h.01M41.7 266.5h.01M46.8 253.5h.01M48.4 266.3h.01M44.7 257.4h.01M44.8 261.8h.01M48.3 265.9h.01M50.4 266.0h.01M50.9 263.5h.01M40.5 259.9h.01M47.1 258.7h.01M49.3 258.8h.01M42.7 267.1h.01M48.4 261.5h.01M49.3 265.4h.01M47.2 249.2h.01M43.6 258.4h.01M42.5 261.4h.01M50.3 258.3h.01M41.9 269.8h.01M44.4 254.8h.01M46.9 262.5h.01M43.5 264.1h.01M44.2 256.3h.01M46.6 264.0h.01M43.7 262.0h.01M45.7 273.5h.01M43.4 266.9h.01M45.8 259.9h.01M48.6 264.6h.01M50.6 262.0h.01M43.8 258.0h.01M47.8 263.2h.01M51.0 262.4h.01M49.8 267.5h.01M46.6 253.7h.01M41.8 253.9h.01M51.7 256.6h.01M50.4 263.2h.01M52.2 265.1h.01M45.6 259.6h.01M46.3 261.3h.01M44.1 260.3h.01M51.8 252.7h.01M46.9 256.3h.01M46.7 264.4h.01M45.8 264.1h.01M40.3 265.6h.01M43.8 263.4h.01M46.7 248.6h.01M43.3 261.5h.01M51.6 261.8h.01M46.9 254.0h.01M51.2 268.8h.01M46.1 259.5h.01M40.2 264.6h.01M55.7 263.8h.01M50.5 263.0h.01M42.5 266.6h.01M41.6 259.5h.01M47.0 264.6h.01M47.5 262.3h.01M43.3 254.6h.01M46.2 257.2h.01M41.3 254.7h.01M44.2 252.0h.01M41.1 253.0h.01M46.7 262.4h.01M53.2 253.6h.01M43.6 264.7h.01M45.2 259.0h.01M52.2 258.9h.01M41.8 254.4h.01M47.2 261.9h.01M41.1 256.0h.01M47.9 263.2h.01M43.7 263.4h.01M48.1 252.3h.01M44.9 262.4h.01M43.9 250.7h.01M45.0 264.0h.01M51.7 250.4h.01M55.4 255.3h.01M49.4 266.2h.01M49.5 261.2h.01M41.8 263.4h.01M43.4 248.9h.01M56.2 263.8h.01M52.5 256.3h.01M51.3 267.8h.01M51.6 260.4h.01M41.7 259.7h.01M38.1 252.7h.01M46.3 255.9h.01M45.4 260.0h.01M53.0 266.5h.01M45.8 266.1h.01M43.2 259.0h.01M49.3 254.8h.01M45.0 254.4h.01M46.4 268.0h.01M43.3 261.5h.01M42.8 255.2h.01M41.6 267.2h.01M54.5 262.7h.01M43.4 263.7h.01M44.8 264.2h.01M47.0 261.8h.01M48.2 257.8h.01M44.5 252.6h.01M44.4 254.0h.01M45.5 256.1h.01M46.4 262.6h.01M40.9 256.8h.01M42.6 263.9h.01M52.1 264.4h.01M44.7 267.2h.01M40.5 267.4h.01M43.6 247.7h.01M55.5 267.8h.01M42.3 261.3h.01M45.2 261.0h.01M40.7 257.4h.01M47.7 261.5h.01M50.3 260.9h.01M54.5 257.2h.01M46.9 251.7h.01M41.5 266.6h.01M42.6 262.9h.01M45.8 255.7h.01M44.7 258.1h.01M44.2 264.0h.01M48.3 257.8h.01M42.7 261.8h.01M45.6 265.2h.01M55.6 264.4h.01M45.9 259.7h.01M42.9 256.3h.01M42.4 258.7h.01M44.5 263.9h.01M44.6 259.6h.01M41.6 268.1h.01M47.8 268.7h.01M48.9 267.4h.01M45.1 263.8h.01M55.7 254.9h.01M50.2 268.3h.01M47.5 264.0h.01M50.6 257.4h.01M47.5 256.4h.01M43.5 257.6h.01M45.5 261.2h.01M47.7 253.8h.01M53.3 265.9h.01M48.7 258.8h.01M45.7 263.1h.01M47.5 252.6h.01M48.7 274.2h.01M39.2 265.2h.01M47.4 260.0h.01M51.1 254.9h.01M46.6 267.4h.01M45.3 258.5h.01M46.4 258.4h.01M51.7 256.2h.01M49.2 254.6h.01M48.5 260.0h.01M36.4 260.5h.01M42.1 258.4h.01M51.7 255.2h.01M42.1 267.3h.01M46.4 267.8h.01M47.2 256.3h.01M45.8 266.3h.01M49.5 260.5h.01M46.2 260.0h.01M43.9 269.6h.01M46.0 255.2h.01M44.2 263.9h.01M48.4 259.9h.01M43.5 260.6h.01M39.8 254.3h.01M49.0 258.2h.01M47.4 266.3h.01M48.4 260.6h.01M53.9 263.7h.01M44.7 264.0h.01M47.5 256.5h.01M46.3 259.7h.01M38.7 259.7h.01M45.0 258.4h.01M39.9 258.8h.01M45.9 261.0h.01M41.8 263.5h.01M41.5 259.4h.01M50.8 257.2h.01M44.1 265.6h.01M44.6 259.1h.01M46.8 265.5h.01M37.8 256.6h.01M42.3 255.4h.01M42.8 256.5h.01M47.1 256.3h.01M46.5 262.4h.01M43.3 261.1h.01M52.0 262.0h.01M43.6 260.2h.01M42.6 261.8h.01M49.2 256.6h.01M45.2 265.7h.01M44.2 261.4h.01M42.2 256.7h.01M44.1 270.5h.01M44.5 258.1h.01M44.0 259.7h.01M48.4 261.4h.01M53.4 261.5h.01M51.2 261.8h.01M48.2 253.9h.01M45.5 260.2h.01M45.1 250.6h.01M49.2 258.7h.01M44.4 259.3h.01M45.2 262.4h.01M41.4 256.2h.01M47.0 261.2h.01M44.6 257.9h.01M43.0 260.2h.01M50.3 255.6h.01M51.5 264.4h.01M44.4 264.1h.01M40.7 252.5h.01M41.4 258.6h.01M44.8 258.1h.01M46.4 250.7h.01M47.8 254.0h.01M43.6 258.6h.01M41.8 254.2h.01M42.4 260.4h.01M48.1 263.1h.01M42.4 256.9h.01M42.7 262.6h.01M38.7 266.2h.01M44.3 256.9h.01M47.2 265.3h.01M47.2 265.3h.01M46.5 266.2h.01M50.5 260.0h.01M51.2 261.3h.01M46.3 256.3h.01M45.0 264.1h.01M41.3 263.5h.01M47.3 261.8h.01M38.1 260.0h.01M48.3 257.0h.01M46.3 249.6h.01M48.4 257.5h.01M49.1 252.0h.01M48.5 259.4h.01M48.9 256.2h.01M43.8 270.8h.01M43.0 257.3h.01M45.0 255.8h.01M50.3 268.4h.01M43.5 252.6h.01M50.2 265.6h.01M49.0 265.8h.01M42.9 259.7h.01M41.0 254.0h.01M49.5 257.4h.01M54.2 260.8h.01M43.7 264.2h.01M52.5 262.7h.01M41.6 262.2h.01M51.0 258.2h.01M43.2 265.2h.01M46.5 255.4h.01M44.6 257.0h.01M47.1 261.0h.01M50.1 263.8h.01M40.4 262.4h.01M49.2 262.6h.01M49.7 258.0h.01M42.6 264.8h.01M42.2 250.6h.01M49.7 257.2h.01M44.9 254.1h.01M41.2 255.2h.01M44.7 262.2h.01M37.7 264.0h.01M41.7 255.6h.01" stroke="#111" stroke-width="0.55" stroke-linecap="round" opacity="0.55"/>
<path d="M48.7 258.5h.01M36.5 271.0h.01M40.3 260.6h.01M46.1 268.2h.01M42.5 265.6h.01M40.9 266.3h.01M40.8 256.6h.01M55.4 261.1h.01M45.6 273.6h.01M47.0 253.7h.01M49.0 251.3h.01M51.2 266.8h.01M41.8 254.9h.01M46.0 259.1h.01M39.6 262.7h.01M33.8 256.2h.01M42.8 257.2h.01M46.7 251.0h.01M48.2 257.8h.01M41.4 250.1h.01M38.5 261.3h.01M39.7 259.4h.01M50.8 265.7h.01M53.6 257.1h.01M39.0 265.6h.01M46.7 266.3h.01M45.1 266.8h.01M49.7 263.7h.01M47.8 261.6h.01M46.3 260.5h.01M50.4 255.7h.01M54.5 258.3h.01M50.4 258.4h.01M43.6 272.2h.01M43.3 250.7h.01M41.1 256.9h.01M56.9 260.3h.01M50.1 252.5h.01M46.9 263.4h.01M54.9 254.5h.01M48.3 261.0h.01M39.4 258.9h.01M43.6 243.9h.01M48.3 262.5h.01M42.6 250.3h.01M53.1 260.7h.01M50.6 268.2h.01M42.1 264.3h.01M43.7 258.6h.01M44.5 259.0h.01M51.1 259.8h.01M44.2 257.2h.01M46.9 253.2h.01M42.2 258.7h.01M41.9 258.2h.01M41.6 272.0h.01M52.3 261.9h.01M44.7 273.2h.01M46.8 258.4h.01M46.7 261.0h.01M52.8 258.9h.01M56.5 253.3h.01M48.8 252.5h.01M55.0 256.9h.01M44.7 265.0h.01M51.9 251.8h.01M43.1 249.9h.01M45.8 258.3h.01M43.1 254.6h.01M42.9 254.1h.01M47.9 268.9h.01M34.4 258.2h.01M42.7 262.2h.01M39.8 258.0h.01M39.3 263.5h.01M45.5 258.0h.01M47.0 257.4h.01M36.5 262.9h.01M46.6 258.0h.01M50.4 266.9h.01M39.0 253.9h.01M53.5 268.2h.01M40.9 251.3h.01M41.5 255.8h.01M36.3 259.2h.01M38.0 251.1h.01M50.0 254.6h.01M44.6 263.1h.01M49.5 256.8h.01M45.2 253.6h.01M54.6 263.2h.01M38.9 259.0h.01M48.9 262.1h.01M55.1 267.9h.01M42.0 258.4h.01M38.0 260.6h.01M45.8 276.6h.01M45.5 245.4h.01M41.3 259.7h.01M38.1 253.4h.01M43.0 261.2h.01M44.1 253.2h.01M49.3 255.5h.01M42.3 250.0h.01M40.7 263.2h.01M36.1 258.5h.01M48.9 256.5h.01M46.3 251.7h.01M52.2 266.2h.01M46.3 247.6h.01M39.2 265.3h.01M54.4 260.9h.01M51.9 255.0h.01M44.0 259.0h.01M47.3 249.1h.01M50.2 267.6h.01M38.7 250.2h.01M46.9 254.7h.01M32.0 264.3h.01M45.9 255.9h.01M56.6 259.9h.01M40.9 259.7h.01M39.3 254.0h.01M47.1 255.4h.01M42.5 269.8h.01M49.7 264.2h.01M47.9 262.1h.01M53.0 258.9h.01M55.2 252.8h.01M43.6 250.0h.01M43.1 262.4h.01M53.0 254.7h.01M45.0 256.7h.01M40.9 251.3h.01M45.3 247.7h.01M45.6 259.1h.01M41.4 252.4h.01M37.4 271.2h.01M37.6 269.1h.01M48.3 256.6h.01M38.6 265.8h.01M54.5 252.9h.01M43.4 265.8h.01M46.8 272.0h.01M41.9 262.5h.01M38.1 272.6h.01M41.0 244.6h.01M44.3 258.1h.01M55.5 256.8h.01M44.9 262.9h.01M53.7 258.6h.01M50.7 262.4h.01M43.4 259.5h.01M45.2 253.0h.01M51.7 250.0h.01M51.4 265.2h.01M44.5 254.0h.01M43.8 262.1h.01M49.1 260.9h.01M50.5 255.4h.01M46.3 248.8h.01M49.2 260.0h.01M42.7 266.6h.01M48.8 240.7h.01M45.2 249.5h.01M50.9 275.2h.01M42.1 259.5h.01M43.6 261.3h.01M48.5 267.4h.01M39.6 269.2h.01M39.9 260.8h.01M51.4 263.6h.01M39.8 254.4h.01M42.5 258.7h.01M51.3 250.6h.01M47.6 263.0h.01M48.1 262.0h.01M53.4 262.2h.01M49.7 262.7h.01M54.9 246.7h.01M52.1 257.3h.01M43.5 252.7h.01M34.7 256.5h.01M41.2 262.2h.01M36.9 268.3h.01M46.5 257.4h.01M41.1 253.9h.01M38.8 255.5h.01M45.0 257.8h.01M37.2 257.3h.01M40.1 260.0h.01M55.3 263.1h.01M43.3 248.4h.01M37.2 248.0h.01M49.0 254.0h.01M45.3 255.0h.01M45.5 268.1h.01M41.2 256.8h.01M40.6 264.7h.01M39.4 251.6h.01" stroke="#333" stroke-width="0.5" stroke-linecap="round" opacity="0.5"/>
<path d="M53.3 261.7h.01M66.3 279.6h.01M56.0 272.3h.01M64.8 263.0h.01M61.1 267.0h.01M58.2 276.7h.01M49.7 269.7h.01M65.3 265.4h.01M64.0 271.9h.01M64.1 269.9h.01M67.9 258.9h.01M73.3 278.3h.01M69.9 272.6h.01M53.1 267.5h.01M57.3 265.4h.01M69.8 264.4h.01M62.1 259.4h.01M61.9 268.4h.01M58.1 264.8h.01M76.2 262.6h.01M55.6 264.4h.01M71.4 277.5h.01M65.3 264.8h.01M60.0 272.8h.01M56.6 274.5h.01M72.9 268.3h.01M67.5 271.4h.01M73.9 263.3h.01M71.3 266.3h.01M57.6 268.5h.01M61.5 263.6h.01M51.8 263.8h.01M73.2 276.8h.01M67.6 273.3h.01M59.4 267.7h.01M65.0 263.1h.01M56.1 268.4h.01M60.8 263.2h.01M65.7 266.8h.01M70.1 268.0h.01M60.9 268.6h.01M61.8 265.0h.01M60.2 271.4h.01M67.5 273.8h.01M51.1 266.2h.01M60.1 268.8h.01M59.8 265.7h.01M68.5 268.8h.01M54.8 274.0h.01M70.0 265.4h.01M68.8 264.7h.01M70.9 267.0h.01M57.4 266.3h.01M57.6 268.9h.01M64.2 268.2h.01M59.1 251.5h.01M63.6 259.5h.01M64.7 273.1h.01M64.9 266.2h.01M61.7 267.4h.01M59.2 265.4h.01M56.5 273.3h.01M62.9 272.3h.01M61.2 268.3h.01M61.8 270.1h.01M68.8 269.1h.01M58.3 264.5h.01M74.6 266.7h.01M61.0 274.6h.01M70.6 270.4h.01M60.2 278.6h.01M65.8 270.5h.01M61.8 261.6h.01M53.7 269.8h.01M65.7 266.9h.01M54.8 261.5h.01M60.7 261.4h.01M69.3 273.2h.01M82.8 272.0h.01M58.9 264.1h.01M38.8 265.3h.01M61.8 272.4h.01M67.3 270.6h.01M64.5 271.0h.01M73.1 263.2h.01M59.8 261.8h.01M74.3 273.8h.01M68.3 262.6h.01M64.2 266.9h.01M63.6 267.2h.01M66.6 266.2h.01M69.0 269.1h.01M60.9 267.5h.01M59.9 271.7h.01M61.1 269.3h.01M60.3 261.3h.01M69.3 263.2h.01M67.8 269.9h.01M51.4 263.7h.01M59.4 264.3h.01M54.7 271.3h.01M61.3 269.7h.01M60.0 269.4h.01M57.7 267.9h.01M67.1 268.2h.01M59.8 263.1h.01M64.2 269.6h.01M61.2 264.5h.01M66.8 279.2h.01M60.9 269.5h.01" stroke="#444" stroke-width="0.5" stroke-linecap="round" opacity="0.45"/>
<ellipse cx="39.7" cy="261.1" rx="5.0" ry="5.7" fill="#000"/>
<ellipse cx="39.7" cy="261.1" rx="4.0" ry="4.6" fill="#fff" stroke="#222" stroke-width="0.6"/>
<ellipse cx="39.9" cy="261.4" rx="1.9" ry="2.3" fill="none" stroke="#ccc" stroke-width="0.5"/>
<path d="M40.7 278.6h.01M39.9 281.3h.01M44.1 282.0h.01M36.9 282.1h.01M40.0 281.6h.01M39.3 280.4h.01M38.8 283.6h.01M46.0 283.5h.01M40.4 284.2h.01M42.9 284.9h.01M43.1 282.2h.01M40.4 282.7h.01M40.5 282.7h.01M36.9 279.2h.01M37.3 279.4h.01M39.7 282.4h.01M34.0 283.4h.01M42.4 282.5h.01M45.0 285.2h.01M35.5 284.0h.01M41.0 283.0h.01M42.6 281.3h.01M37.5 281.2h.01M37.0 282.3h.01M34.7 280.8h.01M41.4 282.3h.01M40.8 279.6h.01M36.9 281.6h.01M39.6 281.5h.01M42.6 282.3h.01M39.6 282.4h.01M41.8 281.7h.01M43.2 283.1h.01M40.0 282.5h.01M41.2 283.9h.01M42.6 283.0h.01M42.4 282.6h.01M43.6 282.4h.01M32.7 284.4h.01M39.9 280.6h.01M38.8 281.1h.01M46.4 283.1h.01M34.3 283.2h.01M38.2 285.3h.01M36.0 279.0h.01M39.7 281.9h.01M38.1 279.2h.01M40.9 284.9h.01M33.2 284.2h.01M37.6 285.9h.01M40.9 282.1h.01M43.1 283.2h.01M37.5 283.5h.01M37.8 279.7h.01M46.2 281.9h.01M37.5 282.9h.01M34.4 280.4h.01M37.9 281.6h.01M39.7 284.1h.01M37.9 283.1h.01M41.5 280.8h.01M40.3 281.0h.01M43.0 283.1h.01M39.6 280.4h.01M39.9 281.2h.01M41.8 282.2h.01M36.8 283.8h.01M41.9 281.5h.01M43.3 282.0h.01M38.5 282.6h.01M37.0 281.7h.01M39.0 284.7h.01M44.4 282.0h.01M44.8 282.3h.01M40.8 283.7h.01M40.5 286.0h.01M40.3 280.6h.01M43.8 281.8h.01M38.5 277.9h.01M42.8 283.6h.01M42.1 283.9h.01M45.1 282.3h.01M42.6 281.3h.01M38.3 284.0h.01M40.8 280.4h.01M40.7 282.1h.01M36.8 283.1h.01M38.2 280.0h.01M35.8 285.1h.01M34.5 282.7h.01M41.5 283.4h.01M35.5 281.9h.01M40.0 283.6h.01M37.4 280.7h.01M42.8 284.1h.01M40.7 281.5h.01M40.8 282.6h.01M42.3 280.5h.01M39.9 282.2h.01M35.8 282.7h.01M39.6 281.8h.01M40.8 280.3h.01M39.3 283.0h.01M40.4 284.0h.01M35.5 280.1h.01M40.3 283.1h.01M46.5 283.3h.01M36.6 283.6h.01M36.7 280.2h.01M48.1 282.9h.01M41.9 283.2h.01M45.5 282.8h.01M43.5 280.9h.01M34.9 284.5h.01M44.4 283.2h.01M40.2 282.6h.01M37.2 284.7h.01M41.7 283.2h.01M40.7 284.0h.01M41.2 283.5h.01M35.6 283.2h.01M46.7 281.6h.01M39.1 283.7h.01M42.7 283.3h.01M34.2 283.2h.01M35.6 281.2h.01M41.3 282.0h.01M42.2 287.1h.01M42.1 283.5h.01M36.5 281.4h.01M36.0 281.6h.01M35.9 281.4h.01M38.8 280.9h.01M34.8 280.4h.01M41.0 282.5h.01M42.9 284.0h.01M38.4 283.4h.01M34.7 285.8h.01M43.4 282.1h.01M35.7 283.0h.01M33.3 281.2h.01M42.0 282.5h.01M37.9 283.8h.01M36.1 282.8h.01M37.9 281.1h.01M41.0 280.9h.01M45.8 281.5h.01M46.1 280.8h.01M41.5 280.6h.01M35.1 282.6h.01M41.7 280.5h.01M43.4 281.2h.01M39.9 283.0h.01M41.5 279.7h.01M44.8 283.2h.01M38.1 280.9h.01M33.9 280.4h.01M41.3 281.9h.01M35.8 281.6h.01M44.7 281.9h.01M37.6 284.4h.01M41.0 282.5h.01M37.5 280.1h.01M35.6 281.7h.01M38.8 282.9h.01M41.3 282.7h.01M40.2 280.9h.01M32.4 281.6h.01M36.4 281.4h.01M38.6 280.5h.01M35.8 282.2h.01M39.9 281.4h.01M41.1 282.1h.01M36.1 282.5h.01M45.7 281.4h.01M43.3 284.5h.01M44.4 281.2h.01M46.2 282.6h.01M38.7 282.1h.01M41.5 282.5h.01M38.9 284.3h.01M37.1 280.8h.01M42.1 283.5h.01M43.1 280.8h.01M43.1 283.1h.01M45.3 280.5h.01M40.2 282.0h.01M34.3 281.3h.01M43.2 281.7h.01M37.1 283.7h.01M42.8 283.9h.01M36.9 282.3h.01M42.9 281.4h.01M37.0 283.6h.01M44.7 280.7h.01M30.9 280.2h.01M36.2 282.2h.01M41.5 282.2h.01M37.2 282.6h.01M36.3 282.3h.01M37.4 286.4h.01M42.2 281.1h.01M36.2 281.7h.01M34.1 281.3h.01M37.1 283.7h.01M38.1 281.2h.01M35.1 280.6h.01M39.3 282.1h.01M43.2 281.5h.01M43.0 282.8h.01M39.5 279.4h.01M35.2 283.5h.01M44.1 282.7h.01M42.0 281.8h.01M38.3 281.4h.01M42.7 282.9h.01M38.7 281.9h.01M41.3 282.9h.01M36.8 285.0h.01M40.3 282.4h.01M44.4 283.9h.01M39.2 283.2h.01M36.0 281.4h.01M32.0 284.2h.01M33.2 283.4h.01M36.8 280.9h.01M38.9 282.8h.01M41.5 285.1h.01M40.7 283.7h.01M37.5 283.5h.01M40.0 281.7h.01M39.2 282.3h.01M40.1 283.0h.01M37.8 281.3h.01M42.0 279.9h.01M37.5 284.7h.01M30.6 281.4h.01M41.8 279.9h.01M48.1 278.5h.01M44.2 284.7h.01M42.5 282.1h.01M40.7 281.1h.01M42.2 280.7h.01M38.6 283.9h.01M35.8 281.9h.01M40.0 280.4h.01M43.3 282.9h.01M34.5 282.3h.01M36.9 281.4h.01M39.8 281.3h.01M42.7 281.3h.01M42.7 282.3h.01M42.3 281.6h.01M37.8 280.7h.01M41.4 283.8h.01M46.5 284.3h.01M40.3 282.1h.01M40.8 282.4h.01M44.3 283.8h.01M36.7 281.4h.01M44.0 282.9h.01M38.7 284.2h.01M38.2 282.0h.01M38.0 279.5h.01M42.4 280.6h.01M37.6 281.3h.01M41.9 282.3h.01M39.6 279.9h.01M39.2 280.2h.01M40.5 283.0h.01M39.4 285.5h.01M41.2 283.3h.01M40.0 282.1h.01M42.7 284.1h.01M35.2 284.0h.01M41.2 283.8h.01M41.0 280.5h.01M35.6 285.1h.01M40.3 280.3h.01M40.6 281.9h.01M33.4 279.0h.01M34.2 282.8h.01M39.3 282.0h.01M40.4 283.3h.01M32.6 281.9h.01M36.8 280.6h.01M37.7 282.2h.01M38.6 280.2h.01M37.9 285.4h.01M36.0 279.9h.01M40.4 283.3h.01M41.0 280.7h.01M42.8 281.2h.01M35.8 281.5h.01M39.1 283.5h.01M41.6 282.4h.01M42.6 282.5h.01M42.5 280.3h.01M34.3 283.6h.01M34.9 281.9h.01M39.2 281.7h.01M38.0 284.5h.01M31.2 283.7h.01M47.1 282.4h.01M39.4 283.5h.01M45.5 280.6h.01M39.8 282.1h.01M41.3 282.6h.01M41.7 281.8h.01M39.7 281.4h.01M37.3 282.2h.01M39.0 280.6h.01M44.7 282.2h.01M34.9 284.1h.01M37.0 283.2h.01M39.4 282.8h.01M40.1 281.5h.01M39.6 285.4h.01M32.1 282.5h.01M40.9 280.8h.01" stroke="#111" stroke-width="0.6" stroke-linecap="round" opacity="0.6"/>
<path d="M36 283.2C38 280,42 278,50 277.6L70 277.2C76 277.2,78.6 279,78.2 281.4C77.8 284,74 285.6,68 285.8L48 286C42 286,38 285.2,36 283.2Z" stroke="#222" stroke-width="0.9" fill="#e4e4e4"/>
<ellipse cx="62" cy="282.2" rx="13" ry="2.8" fill="#cfcfcf" stroke="#999" stroke-width="0.5"/>
<ellipse cx="63" cy="282.6" rx="6" ry="1.2" fill="#fff"/>
<ellipse cx="45.5" cy="282" rx="4" ry="1.5" fill="#fff"/>
<path d="M34.8 284.6h.01M36.8 284.5h.01M38.6 282.5h.01M38.5 283.0h.01M39.9 282.8h.01M37.8 282.6h.01M40.2 283.2h.01M35.5 281.8h.01M38.2 281.8h.01M36.7 281.4h.01M37.0 282.8h.01M39.5 282.4h.01M41.6 282.3h.01M43.9 283.4h.01M38.5 281.9h.01M31.9 282.2h.01M37.9 284.3h.01M34.7 284.3h.01M37.0 283.1h.01M32.4 282.5h.01M36.8 283.1h.01M37.7 281.3h.01M39.4 283.1h.01M38.7 283.4h.01M39.7 282.4h.01M34.8 281.0h.01M40.2 283.1h.01M37.7 282.0h.01M37.6 282.4h.01M36.8 281.7h.01M41.8 282.6h.01M36.3 281.1h.01M36.0 283.1h.01M39.0 282.2h.01M37.6 282.1h.01M35.3 283.7h.01M38.2 284.9h.01M36.0 282.3h.01M39.3 282.2h.01M34.7 281.5h.01M37.7 282.7h.01M37.3 283.4h.01M39.5 282.7h.01M37.6 282.1h.01M38.6 283.3h.01M37.6 282.8h.01M36.9 281.0h.01M35.5 283.2h.01M38.4 284.0h.01M37.6 283.3h.01M40.1 283.4h.01M36.3 282.2h.01M37.8 281.4h.01M38.4 283.4h.01M36.5 284.4h.01M36.9 282.2h.01M37.0 281.7h.01M38.3 282.4h.01M40.8 283.0h.01M38.6 282.2h.01M34.7 282.3h.01M35.8 283.4h.01M37.4 284.1h.01M39.0 283.2h.01M38.0 282.6h.01M38.8 283.3h.01M36.1 282.9h.01M42.7 282.3h.01M37.0 281.7h.01M34.6 283.6h.01M37.6 282.7h.01M41.2 284.9h.01M35.7 283.5h.01M38.7 282.8h.01M38.5 282.4h.01M40.7 283.0h.01M38.2 283.6h.01M39.3 282.9h.01M38.2 284.2h.01M38.5 282.3h.01M35.8 282.1h.01M35.4 282.5h.01M38.0 280.4h.01M37.5 283.1h.01M37.8 281.4h.01M40.0 281.7h.01M35.0 281.3h.01M37.5 283.4h.01M39.8 282.6h.01M35.1 281.7h.01M35.7 282.2h.01M34.0 282.5h.01M38.8 282.3h.01M38.4 281.5h.01M34.6 281.8h.01M39.8 283.4h.01M36.6 283.6h.01M36.9 283.9h.01M38.5 281.9h.01M39.1 281.6h.01M35.6 280.9h.01M38.0 282.3h.01M37.3 282.0h.01M40.4 282.0h.01M36.1 283.6h.01M40.3 282.7h.01M34.0 281.8h.01M38.7 282.4h.01M40.6 281.0h.01M38.9 281.8h.01M40.1 282.3h.01M39.6 281.8h.01M34.7 281.3h.01M36.3 281.4h.01M39.9 283.7h.01M38.0 281.4h.01M37.3 281.7h.01M40.4 282.7h.01M38.5 282.0h.01M33.5 281.6h.01M35.3 282.8h.01M37.7 281.6h.01M36.7 284.0h.01M35.6 281.5h.01M37.0 281.7h.01M36.6 282.9h.01M41.0 280.6h.01M37.5 282.4h.01M37.3 282.2h.01M36.8 283.4h.01M36.6 282.3h.01M37.5 282.5h.01M37.2 283.4h.01M37.5 282.6h.01M37.4 281.4h.01M35.8 281.3h.01M37.9 281.7h.01M35.4 282.6h.01M38.6 280.6h.01M40.9 282.4h.01M37.3 283.5h.01M37.6 281.8h.01M41.9 281.3h.01M37.3 283.2h.01M35.4 282.3h.01M38.3 284.8h.01M35.7 282.4h.01M38.8 282.5h.01M35.1 282.8h.01M37.7 282.8h.01M39.8 283.4h.01M38.3 282.7h.01M35.3 282.3h.01M37.9 282.0h.01M37.7 281.6h.01M40.6 284.6h.01M36.7 282.8h.01M37.0 283.7h.01M38.4 282.5h.01M37.1 282.5h.01M35.5 283.1h.01M36.1 282.9h.01M37.8 283.5h.01M37.5 283.4h.01M35.7 283.0h.01M37.1 282.6h.01M37.6 283.3h.01M33.5 282.7h.01M34.5 283.6h.01M33.6 281.4h.01M34.2 284.0h.01M34.9 282.5h.01M36.4 280.6h.01M36.8 283.1h.01M37.1 283.3h.01M36.8 282.4h.01M36.7 282.7h.01M41.3 282.8h.01M37.9 281.8h.01M36.0 283.9h.01M35.3 281.5h.01M37.3 282.0h.01M41.4 280.0h.01M38.2 283.1h.01M35.3 281.8h.01M38.4 284.0h.01M35.7 280.8h.01M39.4 283.9h.01M36.8 280.2h.01M40.4 282.2h.01M39.7 282.4h.01M36.7 281.9h.01M40.4 283.8h.01M33.2 281.5h.01M41.1 282.0h.01M34.8 282.4h.01M37.3 282.3h.01M36.5 282.1h.01M36.6 282.7h.01M35.9 282.1h.01" stroke="#000" stroke-width="0.6" stroke-linecap="round" opacity="0.7"/>
<line x1="53.50" y1="238.70" x2="53.50" y2="300.20" stroke="#888" stroke-width="0.9"/>
<line x1="27.00" y1="275.50" x2="88.70" y2="275.50" stroke="#888" stroke-width="0.9"/>
<rect x="27.00" y="238.70" width="61.70" height="61.50" fill="none" stroke="#8a8a8a" stroke-width="1"/>
<text x="29.50" y="246.90" font-size="8.8" textLength="8.60" lengthAdjust="spacingAndGlyphs" stroke="#222" stroke-width="0.18">16</text>
<text x="76.00" y="246.90" font-size="8.8" textLength="10.00" lengthAdjust="spacingAndGlyphs" stroke="#222" stroke-width="0.18">1.5</text>
<text x="28.90" y="297.80" font-size="8.8" textLength="11.20" lengthAdjust="spacingAndGlyphs" stroke="#222" stroke-width="0.18">9.2</text>
<text x="76.60" y="297.80" font-size="8.8" textLength="8.20" lengthAdjust="spacingAndGlyphs" stroke="#222" stroke-width="0.18">73</text>
<rect x="94.20" y="239.10" width="62.40" height="60.70" fill="#fff"/>
<path d="M109.3 270.3h.01M111.8 262.4h.01M112.6 265.3h.01M115.2 265.8h.01M118.6 270.5h.01M109.8 260.7h.01M114.2 265.9h.01M109.5 254.7h.01M101.2 265.0h.01M113.7 267.5h.01M103.8 268.8h.01M107.4 265.2h.01M112.0 258.5h.01M107.2 251.4h.01M105.6 252.9h.01M112.1 263.3h.01M114.4 265.0h.01M107.0 264.9h.01M108.1 266.4h.01M111.5 257.5h.01M110.0 263.3h.01M108.5 268.0h.01M118.2 260.9h.01M108.3 250.4h.01M109.4 260.6h.01M99.6 264.6h.01M112.8 258.9h.01M108.2 257.6h.01M113.7 254.5h.01M108.5 273.9h.01M110.2 265.6h.01M109.3 256.4h.01M109.8 265.3h.01M105.1 264.9h.01M116.0 269.0h.01M102.4 257.5h.01M102.3 269.0h.01M112.9 266.9h.01M105.8 256.5h.01M110.4 263.6h.01M105.9 263.8h.01M113.1 264.3h.01M105.0 251.2h.01M108.8 263.9h.01M108.8 260.6h.01M106.7 267.0h.01M109.7 263.7h.01M105.3 259.5h.01M110.8 257.4h.01M104.0 261.2h.01M115.8 264.1h.01M117.0 262.3h.01M108.5 255.2h.01M107.2 271.0h.01M111.6 267.1h.01M113.4 262.9h.01M109.0 263.7h.01M113.2 265.6h.01M112.4 263.9h.01M106.3 261.5h.01M105.5 268.6h.01M99.9 261.8h.01M121.5 261.1h.01M104.6 262.9h.01M116.2 262.1h.01M112.9 263.6h.01M108.2 280.6h.01M110.3 260.0h.01M107.6 265.1h.01M112.0 267.3h.01M110.7 255.0h.01M112.6 261.3h.01M108.6 254.7h.01M107.2 258.9h.01M109.8 254.9h.01M110.2 263.7h.01M104.6 259.5h.01M105.9 268.1h.01M97.9 261.1h.01M102.0 260.6h.01M114.1 259.5h.01M110.7 258.3h.01M119.3 268.1h.01M115.4 255.6h.01M104.7 269.0h.01M109.1 261.6h.01M111.6 256.0h.01M113.7 263.1h.01M112.3 259.2h.01M112.5 259.1h.01M114.6 269.3h.01M114.4 265.9h.01M113.0 247.8h.01M114.0 261.5h.01M110.5 261.4h.01M103.3 260.0h.01M113.2 270.9h.01M107.0 257.9h.01M117.0 258.1h.01M120.0 263.3h.01M105.8 268.5h.01M118.1 255.0h.01M117.5 261.4h.01M117.1 260.9h.01M102.4 265.8h.01M114.4 274.7h.01M118.3 266.9h.01M108.9 260.1h.01M108.6 258.3h.01M108.7 248.8h.01M110.9 262.8h.01M122.3 267.2h.01M107.7 266.2h.01M104.1 259.6h.01M101.0 271.0h.01M112.8 256.4h.01M109.7 268.3h.01M112.4 265.1h.01M105.9 259.4h.01M110.5 268.2h.01M106.0 256.7h.01M115.5 257.8h.01M115.2 264.4h.01M114.2 272.8h.01M113.3 267.3h.01M105.6 259.1h.01M113.1 271.6h.01M116.7 276.0h.01M111.5 264.1h.01M114.8 263.1h.01M109.7 257.1h.01M114.8 257.0h.01M112.5 255.1h.01M115.3 257.2h.01M114.0 254.1h.01M107.9 269.6h.01M106.1 263.4h.01M107.7 250.1h.01M111.5 265.4h.01M104.7 266.2h.01M106.2 257.4h.01M110.0 259.2h.01M121.0 254.3h.01M113.5 268.5h.01M100.5 253.3h.01M112.7 260.3h.01M111.8 269.4h.01M108.2 257.0h.01M96.9 264.1h.01M105.5 264.8h.01M111.1 255.2h.01M118.3 269.1h.01M114.1 256.4h.01M108.0 259.9h.01M108.0 256.7h.01M112.1 264.3h.01M111.8 260.2h.01M116.2 264.1h.01M96.9 259.4h.01M109.7 268.4h.01M108.6 261.6h.01M106.8 266.7h.01M107.9 259.6h.01M106.4 266.1h.01M107.4 253.6h.01M113.0 259.1h.01M111.7 265.1h.01M115.8 268.8h.01M107.2 262.1h.01M103.8 272.4h.01M112.1 270.8h.01M108.5 251.5h.01M117.4 263.5h.01M110.6 263.3h.01M113.1 266.0h.01M102.4 269.1h.01M107.5 260.4h.01M118.3 268.2h.01M108.4 252.6h.01M110.8 266.0h.01M109.6 256.0h.01M106.2 256.0h.01M111.0 267.6h.01M114.9 258.9h.01M111.1 266.1h.01M107.5 262.2h.01M120.2 264.1h.01M114.2 260.6h.01M110.2 253.4h.01M109.9 269.7h.01M120.1 269.7h.01M113.3 263.3h.01M107.1 262.1h.01M112.9 258.6h.01M114.5 257.5h.01M101.5 257.3h.01M102.0 255.3h.01M115.4 261.9h.01M111.0 269.5h.01M116.0 260.2h.01M116.4 265.2h.01M110.0 265.5h.01M103.2 258.6h.01M109.5 266.4h.01M108.2 262.3h.01M114.7 270.9h.01M113.7 270.1h.01M108.1 261.3h.01M111.5 261.3h.01M107.6 272.3h.01M109.0 257.6h.01M112.3 273.3h.01M110.4 269.9h.01M107.9 260.2h.01M106.7 262.2h.01M118.8 256.5h.01M117.9 257.4h.01M108.9 267.7h.01M113.0 264.6h.01M102.1 265.0h.01M105.1 277.4h.01M109.0 264.1h.01M104.5 260.3h.01M103.8 268.5h.01M108.7 266.2h.01M106.7 260.2h.01M116.2 257.6h.01M101.4 265.3h.01M104.5 260.5h.01M114.4 258.4h.01M114.2 259.2h.01M117.2 270.4h.01M107.7 261.8h.01M106.0 264.1h.01M115.5 254.9h.01M114.4 255.6h.01M105.9 253.0h.01M120.1 263.3h.01M111.2 259.2h.01M115.1 251.2h.01M110.1 275.4h.01M108.2 263.1h.01M113.2 258.5h.01M110.1 268.4h.01M110.9 265.1h.01M108.3 264.8h.01M110.3 271.1h.01M113.5 261.6h.01M98.3 267.0h.01M113.6 257.9h.01M100.4 256.6h.01M114.4 257.0h.01M107.8 264.2h.01M115.9 262.9h.01M109.5 259.9h.01M117.8 269.0h.01M109.5 255.2h.01M106.2 266.2h.01M106.5 268.0h.01M111.7 264.6h.01" stroke="#333" stroke-width="0.5" stroke-linecap="round" opacity="0.5"/>
<path d="M134.6 268.5h.01M124.0 264.4h.01M146.4 260.0h.01M126.7 271.3h.01M128.9 261.9h.01M120.7 268.7h.01M137.1 273.0h.01M130.4 271.2h.01M122.8 266.8h.01M125.3 266.9h.01M135.3 271.3h.01M123.1 272.3h.01M126.7 260.9h.01M128.8 258.7h.01M130.0 267.4h.01M128.6 268.7h.01M127.8 266.0h.01M119.9 266.2h.01M124.0 263.8h.01M129.3 267.0h.01M118.5 258.2h.01M127.9 268.4h.01M132.5 270.5h.01M139.1 268.5h.01M129.9 260.8h.01M123.4 263.7h.01M131.9 267.1h.01M130.0 265.2h.01M134.4 267.0h.01M132.1 267.5h.01M126.2 260.8h.01M133.4 268.1h.01M128.5 263.9h.01M145.9 262.2h.01M128.5 267.3h.01M121.9 266.6h.01M142.6 270.7h.01M134.4 269.0h.01M130.8 270.8h.01M128.9 263.9h.01M130.7 270.5h.01M132.3 269.4h.01M115.8 272.0h.01M146.4 272.7h.01M127.8 261.8h.01M131.9 261.1h.01M135.1 263.4h.01M136.7 272.8h.01M115.8 267.5h.01M125.1 259.0h.01M125.7 264.9h.01M137.2 258.4h.01M137.4 276.1h.01M134.2 268.7h.01M129.9 260.1h.01M133.7 267.9h.01M135.1 278.8h.01M135.1 268.1h.01M140.9 259.3h.01M122.0 264.1h.01M125.4 269.5h.01M127.8 274.7h.01M140.6 269.9h.01M127.3 269.1h.01M135.7 260.7h.01M132.4 269.5h.01M131.5 273.9h.01M138.5 261.9h.01M130.9 261.8h.01M134.1 261.7h.01M136.5 267.9h.01M136.8 265.3h.01M119.8 274.8h.01M128.8 272.9h.01M133.0 269.4h.01M142.8 267.7h.01M139.8 258.6h.01M136.1 264.8h.01M129.1 266.0h.01M132.4 274.3h.01" stroke="#555" stroke-width="0.5" stroke-linecap="round" opacity="0.4"/>
<path d="M100.4 263.3h.01M106.3 270.2h.01M107.8 265.8h.01M107.9 267.1h.01M115.3 260.5h.01M110.3 254.2h.01M111.6 268.3h.01M107.1 269.9h.01M99.2 251.5h.01M102.8 260.0h.01M110.1 262.5h.01M109.7 267.5h.01M107.5 255.2h.01M103.5 276.1h.01M97.8 261.9h.01M117.6 266.0h.01M105.7 263.0h.01M114.5 270.5h.01M105.3 267.7h.01M111.3 269.8h.01M117.2 260.9h.01M102.5 265.5h.01M119.2 267.3h.01M111.2 277.9h.01M104.6 268.6h.01M107.0 263.3h.01M110.5 272.4h.01M105.1 259.7h.01M101.7 266.0h.01M107.6 265.6h.01M104.4 260.8h.01M115.4 261.9h.01M113.3 266.3h.01M108.2 253.3h.01M115.1 264.1h.01M115.1 250.5h.01M101.4 249.7h.01M105.4 269.5h.01M112.9 262.8h.01M110.7 267.7h.01M108.4 265.5h.01M110.7 249.4h.01M108.0 271.4h.01M107.9 262.1h.01M106.8 260.0h.01M115.8 261.3h.01M104.7 243.7h.01M107.0 250.8h.01M100.5 267.9h.01M113.7 251.1h.01M114.4 265.8h.01M105.9 267.6h.01M101.5 255.5h.01M102.5 256.1h.01M114.6 254.7h.01M104.0 257.1h.01M111.0 260.9h.01M114.5 258.6h.01M103.3 259.9h.01M110.2 257.2h.01M111.4 274.2h.01M106.9 263.2h.01M117.0 258.9h.01M105.5 256.1h.01M112.0 266.1h.01M109.2 263.2h.01M116.5 268.3h.01M102.6 262.8h.01M110.4 267.3h.01M108.7 258.8h.01M107.5 251.8h.01M109.7 259.1h.01M112.3 256.5h.01M107.6 256.7h.01M104.3 267.1h.01M107.4 265.5h.01M104.0 263.4h.01M101.0 259.8h.01M107.2 266.4h.01M110.7 261.7h.01M114.1 263.9h.01M112.6 267.5h.01M109.4 260.9h.01M111.5 260.1h.01M111.8 269.6h.01M114.2 260.4h.01M103.1 262.4h.01M109.1 269.6h.01M107.8 261.4h.01M113.6 259.8h.01M108.9 273.3h.01M117.5 266.6h.01M111.1 256.7h.01M112.7 263.1h.01M110.9 259.5h.01M109.7 261.6h.01M111.4 271.5h.01M111.6 252.4h.01M104.7 252.9h.01M105.6 266.2h.01M111.8 259.0h.01M111.1 258.0h.01M102.4 254.0h.01M105.3 271.5h.01M102.8 270.4h.01M116.6 261.6h.01M109.5 258.9h.01M109.6 266.8h.01M109.8 268.9h.01M115.9 264.8h.01M111.4 262.3h.01M111.5 255.8h.01M111.8 264.0h.01M105.3 276.0h.01M104.7 257.3h.01M111.2 250.7h.01M105.6 253.2h.01M104.7 261.9h.01M111.4 269.5h.01M113.9 270.0h.01M112.8 259.8h.01M115.5 259.6h.01M106.5 272.1h.01M113.8 264.0h.01M113.6 268.1h.01M102.6 262.1h.01M103.6 263.4h.01M106.2 271.1h.01M112.4 257.6h.01M109.6 255.2h.01M109.9 266.0h.01M111.1 250.7h.01M108.0 265.8h.01M111.3 269.8h.01M103.0 265.9h.01M106.3 263.9h.01M111.8 266.9h.01M106.7 263.8h.01M103.6 253.9h.01M112.6 262.3h.01M101.3 257.4h.01M109.8 272.3h.01M115.1 267.6h.01M100.4 262.0h.01M112.2 265.1h.01M111.9 261.2h.01M118.8 271.8h.01M109.2 256.6h.01M120.4 259.2h.01M115.9 274.5h.01M104.8 264.4h.01M107.9 265.8h.01M111.4 274.7h.01M112.8 262.6h.01M115.5 261.0h.01M107.8 276.5h.01M105.4 259.6h.01M109.9 256.1h.01M98.7 269.2h.01M105.6 259.3h.01" stroke="#222" stroke-width="0.55" stroke-linecap="round" opacity="0.55"/>
<path d="M101.8 262C101.3 256,105 253.4,110 253.6C115 253.8,118.8 256,118.2 259C117.6 263,113 268,106.5 272.6C103.8 270,101.8 266,101.8 262Z" stroke="#333" stroke-width="1.1" fill="#cfcfcf"/>
<path d="M103.2 262C103 257,106 255,110 255.2C114.2 255.4,117.2 257.2,116.8 259.8C116.2 263.2,112.4 267.2,107 270.8C104.8 268.5,103.2 265.5,103.2 262Z" stroke="#777" stroke-width="0.45" fill="#d8d8d8"/>
<path d="M104.6 262C104.5 258.2,107 256.6,110 256.8C113.5 257,115.6 258.5,115.2 260.5C114.7 263.4,111.5 266.5,107.5 269C105.8 267.2,104.6 264.8,104.6 262Z" stroke="#999" stroke-width="0.4" fill="#e2e2e2"/>
<ellipse cx="107" cy="262.3" rx="2.1" ry="3" fill="#fafafa"/>
<path d="M116.9 277.3h.01M110.2 278.1h.01M143.2 278.5h.01M127.5 276.9h.01M120.2 277.1h.01M127.8 277.8h.01M120.8 277.9h.01M114.9 276.9h.01M125.9 277.0h.01M109.2 277.8h.01M113.7 278.1h.01M130.0 278.1h.01M122.3 278.0h.01M128.6 276.7h.01M123.9 277.3h.01M108.7 278.0h.01M116.8 278.4h.01M130.9 276.3h.01M119.8 279.3h.01M128.7 279.0h.01M121.4 277.0h.01M109.8 278.5h.01M129.5 277.4h.01M117.9 278.1h.01M103.8 277.7h.01M135.8 279.5h.01M119.4 279.2h.01M115.5 277.4h.01M99.2 278.6h.01M116.9 279.6h.01M123.6 278.1h.01M103.3 279.0h.01M117.0 277.8h.01M99.5 278.6h.01M129.8 277.5h.01M121.3 278.2h.01M129.6 278.0h.01M136.8 277.8h.01M114.7 277.6h.01M96.4 277.4h.01M130.0 278.1h.01M112.7 278.2h.01M101.3 277.8h.01M125.5 278.5h.01M113.1 278.6h.01M138.2 277.7h.01M127.5 276.9h.01M101.8 278.4h.01M120.9 278.1h.01M115.0 277.8h.01M128.2 279.2h.01M118.4 276.8h.01M132.6 278.4h.01M127.0 278.1h.01M142.6 278.0h.01M125.4 276.7h.01M115.0 277.5h.01M120.2 278.2h.01M113.4 279.2h.01M110.4 277.6h.01M122.8 277.1h.01M125.9 278.4h.01M117.7 279.3h.01M121.3 278.2h.01M111.4 276.8h.01M114.5 277.7h.01M116.2 278.5h.01M97.8 277.2h.01M103.2 278.9h.01M115.1 277.6h.01M110.0 278.6h.01M116.6 278.1h.01M101.2 278.8h.01M124.3 278.4h.01M132.3 277.8h.01M118.9 278.5h.01M124.6 277.8h.01M120.9 277.6h.01M127.3 278.6h.01M120.6 279.3h.01M105.9 277.8h.01M136.8 277.7h.01M105.3 278.9h.01M125.7 277.1h.01M127.9 277.2h.01M107.8 277.9h.01M116.0 277.2h.01M117.1 277.3h.01M121.1 278.0h.01M127.6 277.6h.01M107.9 277.0h.01M118.2 279.0h.01M128.6 277.5h.01M129.5 277.2h.01M130.2 277.7h.01M127.9 278.4h.01M117.9 278.2h.01M110.4 277.9h.01M130.9 280.8h.01M127.3 278.0h.01M110.9 278.7h.01M104.8 277.4h.01M124.0 277.1h.01M135.2 278.7h.01M115.1 277.6h.01M108.0 277.0h.01M124.8 278.4h.01M123.9 278.2h.01M115.2 278.2h.01M106.5 278.0h.01M134.6 278.9h.01M116.1 277.7h.01M133.7 279.2h.01M106.3 277.7h.01M122.8 278.8h.01M112.6 278.4h.01M117.7 279.6h.01M124.7 277.9h.01M117.4 278.7h.01M127.0 277.2h.01M122.6 277.0h.01M113.4 277.1h.01M107.9 277.5h.01M111.2 278.3h.01M128.2 277.8h.01M109.9 278.5h.01M101.3 276.6h.01M127.5 278.4h.01M129.9 277.8h.01M108.5 277.6h.01M126.0 277.4h.01M113.9 277.0h.01M109.5 278.6h.01M124.9 277.2h.01M110.3 277.6h.01M125.8 277.1h.01M119.0 276.5h.01M108.6 278.3h.01M129.1 277.2h.01M113.2 278.5h.01M116.9 277.6h.01M125.5 278.1h.01M131.2 278.5h.01M115.1 277.9h.01M120.0 277.0h.01M111.3 278.7h.01M105.4 278.7h.01M123.3 277.9h.01M125.7 278.3h.01M132.1 277.7h.01M118.4 277.8h.01M138.5 278.6h.01M111.8 277.7h.01M113.9 278.0h.01M122.6 279.6h.01M103.2 278.7h.01M124.8 277.5h.01M119.2 277.6h.01M121.1 278.7h.01M106.2 278.9h.01M117.1 279.0h.01M124.6 278.8h.01M126.0 278.7h.01M121.2 277.4h.01M127.1 278.5h.01M140.7 276.6h.01M118.8 278.7h.01M108.7 277.8h.01M140.8 279.0h.01M112.3 279.0h.01M132.0 278.5h.01M124.3 278.1h.01M112.4 277.6h.01M127.7 278.1h.01M138.3 277.7h.01M97.9 277.7h.01M123.4 278.2h.01M121.4 277.4h.01M134.9 277.5h.01M127.5 277.8h.01M109.3 279.0h.01M96.9 277.4h.01M124.9 277.7h.01M127.9 277.9h.01M116.5 279.5h.01M118.7 277.9h.01M110.5 277.5h.01M127.0 278.4h.01M120.8 277.5h.01M127.3 276.8h.01M117.6 277.8h.01M112.8 278.1h.01M114.5 277.4h.01M138.0 278.5h.01M132.2 278.0h.01M130.0 278.5h.01M132.4 279.6h.01M118.7 278.2h.01M120.4 275.5h.01M107.6 278.0h.01M126.9 277.6h.01M131.7 278.9h.01M117.0 279.0h.01M137.6 278.3h.01M111.6 279.0h.01M119.4 277.7h.01M122.1 277.6h.01M131.2 278.5h.01M132.6 278.4h.01M113.5 277.9h.01M129.3 277.7h.01M148.7 277.8h.01M115.4 278.8h.01M128.1 278.0h.01M118.8 278.3h.01M128.9 278.5h.01M118.1 278.3h.01M129.0 278.5h.01M113.6 277.8h.01M122.7 278.6h.01M126.9 277.9h.01M121.2 279.2h.01M115.2 278.2h.01M135.9 278.2h.01M101.6 278.3h.01M117.3 277.9h.01M131.0 278.3h.01M118.5 278.6h.01M125.1 278.1h.01M123.9 278.2h.01M117.8 277.7h.01M121.2 277.3h.01M109.0 278.9h.01M118.7 278.0h.01M119.7 278.0h.01M121.2 278.0h.01M113.4 278.7h.01M114.4 278.7h.01M102.8 277.3h.01M130.4 277.9h.01M114.6 278.3h.01M111.1 278.1h.01M100.0 277.7h.01M114.8 278.4h.01M129.3 277.4h.01M136.3 277.6h.01M101.5 276.3h.01M135.6 277.9h.01M114.9 277.5h.01M110.6 278.9h.01M120.2 279.3h.01M119.1 276.4h.01M129.0 277.7h.01M118.7 279.1h.01M118.5 278.8h.01M121.0 277.5h.01M125.8 277.6h.01M132.7 278.7h.01M121.6 278.4h.01" stroke="#444" stroke-width="0.45" stroke-linecap="round" opacity="0.5"/>
<rect x="101.8" y="279.2" width="38.6" height="5.6" rx="2.8" fill="#dcdcdc" stroke="#3a3a3a" stroke-width="0.9"/>
<rect x="104" y="280.3" width="34" height="3.4" rx="1.7" fill="#cacaca" stroke="#8a8a8a" stroke-width="0.45"/>
<rect x="107" y="281.3" width="28" height="1.4" rx="0.7" fill="#bbb" stroke="#999" stroke-width="0.3"/>
<line x1="121.50" y1="239.10" x2="121.50" y2="299.80" stroke="#888" stroke-width="0.9"/>
<line x1="94.20" y1="275.30" x2="156.60" y2="275.30" stroke="#888" stroke-width="0.9"/>
<rect x="94.20" y="239.10" width="62.40" height="60.70" fill="none" stroke="#8a8a8a" stroke-width="1"/>
<text x="97.00" y="246.90" font-size="8.8" textLength="9.10" lengthAdjust="spacingAndGlyphs" stroke="#222" stroke-width="0.18">45</text>
<text x="141.80" y="246.90" font-size="8.8" textLength="10.60" lengthAdjust="spacingAndGlyphs" stroke="#222" stroke-width="0.18">1.8</text>
<text x="97.00" y="297.80" font-size="8.8" textLength="9.10" lengthAdjust="spacingAndGlyphs" stroke="#222" stroke-width="0.18">26</text>
<text x="145.30" y="297.80" font-size="8.8" textLength="9.00" lengthAdjust="spacingAndGlyphs" stroke="#222" stroke-width="0.18">28</text>
<path d="M17.9 293.5V309.4H109.5" stroke="#333" stroke-width="1.3" fill="none"/>
<path d="M17.9 289L15.5 294.2L20.3 294.2Z" fill="#222"/>
<path d="M113.8 309.4L108.6 307L108.6 311.8Z" fill="#222"/>
<text x="21.60" y="270.00" font-size="10.5" text-anchor="middle" fill="#333" textLength="20.00" lengthAdjust="spacingAndGlyphs" transform="rotate(-90 21.60 270.00)" stroke="#333" stroke-width="0.18">CD19</text>
<text x="122.00" y="312.70" font-size="10" fill="#333" textLength="18.80" lengthAdjust="spacingAndGlyphs" stroke="#333" stroke-width="0.18">Mac1</text>
<line x1="205.00" y1="218.60" x2="205.00" y2="302.00" stroke="#1a1a1a" stroke-width="1.3"/>
<line x1="202.00" y1="301.40" x2="283.50" y2="301.40" stroke="#1a1a1a" stroke-width="1.3"/>
<line x1="202.00" y1="221.30" x2="205.00" y2="221.30" stroke="#1a1a1a" stroke-width="1.1"/>
<text x="197.80" y="224.30" font-size="8.4" text-anchor="end" textLength="12.90" lengthAdjust="spacingAndGlyphs" stroke="#222" stroke-width="0.18">100</text>
<line x1="202.00" y1="237.30" x2="205.00" y2="237.30" stroke="#1a1a1a" stroke-width="1.1"/>
<text x="197.80" y="240.30" font-size="8.4" text-anchor="end" textLength="8.60" lengthAdjust="spacingAndGlyphs" stroke="#222" stroke-width="0.18">80</text>
<line x1="202.00" y1="253.30" x2="205.00" y2="253.30" stroke="#1a1a1a" stroke-width="1.1"/>
<text x="197.80" y="256.30" font-size="8.4" text-anchor="end" textLength="8.60" lengthAdjust="spacingAndGlyphs" stroke="#222" stroke-width="0.18">60</text>
<line x1="202.00" y1="269.40" x2="205.00" y2="269.40" stroke="#1a1a1a" stroke-width="1.1"/>
<text x="197.80" y="272.40" font-size="8.4" text-anchor="end" textLength="8.60" lengthAdjust="spacingAndGlyphs" stroke="#222" stroke-width="0.18">40</text>
<line x1="202.00" y1="285.40" x2="205.00" y2="285.40" stroke="#1a1a1a" stroke-width="1.1"/>
<text x="197.80" y="288.40" font-size="8.4" text-anchor="end" textLength="8.60" lengthAdjust="spacingAndGlyphs" stroke="#222" stroke-width="0.18">20</text>
<line x1="202.00" y1="301.40" x2="205.00" y2="301.40" stroke="#1a1a1a" stroke-width="1.1"/>
<text x="197.80" y="304.40" font-size="8.4" text-anchor="end" textLength="4.30" lengthAdjust="spacingAndGlyphs" stroke="#222" stroke-width="0.18">0</text>
<rect x="211.30" y="288.60" width="11.60" height="12.80" fill="#a3002a"/>
<line x1="217.10" y1="288.60" x2="217.10" y2="285.40" stroke="#333" stroke-width="1.1"/>
<line x1="215.60" y1="285.80" x2="218.60" y2="285.80" stroke="#333" stroke-width="1.1"/>
<rect x="229.20" y="242.40" width="11.90" height="59.00" fill="#a3002a"/>
<line x1="235.15" y1="242.40" x2="235.15" y2="230.40" stroke="#333" stroke-width="1.1"/>
<line x1="233.65" y1="230.80" x2="236.65" y2="230.80" stroke="#333" stroke-width="1.1"/>
<rect x="247.50" y="267.90" width="11.50" height="33.50" fill="#2c4a7e"/>
<line x1="253.25" y1="267.90" x2="253.25" y2="262.70" stroke="#333" stroke-width="1.1"/>
<line x1="251.75" y1="263.10" x2="254.75" y2="263.10" stroke="#333" stroke-width="1.1"/>
<rect x="265.90" y="279.40" width="11.70" height="22.00" fill="#2c4a7e"/>
<line x1="271.75" y1="279.40" x2="271.75" y2="271.00" stroke="#333" stroke-width="1.1"/>
<line x1="270.25" y1="271.40" x2="273.25" y2="271.40" stroke="#333" stroke-width="1.1"/>
<path d="M217 277.3V220.1H252.8V255.2" stroke="#222" stroke-width="1.05" fill="none" stroke-linejoin="round"/>
<path d="M234.7 228V226.4H271.5V261.2" stroke="#222" stroke-width="1.05" fill="none" stroke-linejoin="round"/>
<circle cx="233.20" cy="216.60" r="1.15" fill="#1a1a1a"/>
<circle cx="237.20" cy="216.60" r="1.15" fill="#1a1a1a"/>
<circle cx="256.30" cy="222.80" r="1.15" fill="#1a1a1a"/>
<circle cx="260.30" cy="222.80" r="1.15" fill="#1a1a1a"/>
<text x="178.30" y="259.70" font-size="9" text-anchor="middle" textLength="39.00" lengthAdjust="spacingAndGlyphs" transform="rotate(-90 178.30 259.70)" stroke="#222" stroke-width="0.18">Percentage</text>
<rect x="285.30" y="254.30" width="7.30" height="4.80" fill="#a3002a"/>
<text x="295.90" y="259.10" font-size="8" textLength="22.80" lengthAdjust="spacingAndGlyphs" stroke="#222" stroke-width="0.18">Vector</text>
<rect x="285.30" y="266.30" width="7.30" height="4.70" fill="#2c4a7e"/>
<text x="295.90" y="271.00" font-size="8" textLength="21.60" lengthAdjust="spacingAndGlyphs" stroke="#222" stroke-width="0.18">Bach2</text>
<text x="221.50" y="307.40" font-size="9.3" text-anchor="end" transform="rotate(-45 221.50 307.40)" stroke="#222" stroke-width="0.18">CD19<tspan font-size="4.5" dy="-3">+</tspan></text>
<text x="240.00" y="307.40" font-size="9.3" text-anchor="end" transform="rotate(-45 240.00 307.40)" stroke="#222" stroke-width="0.18">Mac1<tspan font-size="4.5" dy="-3">-</tspan></text>
<text x="258.50" y="307.40" font-size="9.3" text-anchor="end" transform="rotate(-45 258.50 307.40)" stroke="#222" stroke-width="0.18">CD19<tspan font-size="4.5" dy="-3">+</tspan></text>
<text x="277.00" y="307.40" font-size="9.3" text-anchor="end" transform="rotate(-45 277.00 307.40)" stroke="#222" stroke-width="0.18">Mac1<tspan font-size="4.5" dy="-3">-</tspan></text>
<text x="332.00" y="189.80" font-size="12.5" fill="#000" font-weight="bold" stroke="#000" stroke-width="0.45">E</text>
<text x="341.50" y="227.70" font-size="10" text-anchor="middle" fill="#111" textLength="28.80" lengthAdjust="spacingAndGlyphs" transform="rotate(-90 341.50 227.70)" stroke="#111" stroke-width="0.38">Vector</text>
<text x="341.50" y="291.70" font-size="10" text-anchor="middle" fill="#111" textLength="27.40" lengthAdjust="spacingAndGlyphs" transform="rotate(-90 341.50 291.70)" stroke="#111" stroke-width="0.38">Bach2</text>
<text x="355.80" y="225.20" font-size="10.4" text-anchor="middle" fill="#333" textLength="24.00" lengthAdjust="spacingAndGlyphs" transform="rotate(-90 355.80 225.20)" stroke="#333" stroke-width="0.18">CD45.1</text>
<text x="435.00" y="226.10" font-size="10.4" text-anchor="middle" fill="#333" textLength="19.20" lengthAdjust="spacingAndGlyphs" transform="rotate(-90 435.00 226.10)" stroke="#333" stroke-width="0.18">Mac1</text>
<rect x="359.40" y="196.30" width="62.60" height="61.40" fill="#fff"/>
<rect x="359.40" y="261.60" width="62.80" height="61.00" fill="#fff"/>
<path d="M374.4 220.2h.01M375.8 220.5h.01M374.6 215.8h.01M372.4 224.7h.01M368.7 219.3h.01M369.8 226.7h.01M369.0 224.9h.01M378.4 224.3h.01M365.3 222.9h.01M376.4 220.2h.01M376.7 226.1h.01M373.8 220.3h.01M369.9 220.4h.01M372.3 225.5h.01M373.8 220.1h.01M372.3 224.6h.01M365.2 217.1h.01M368.7 220.8h.01M370.9 220.4h.01M368.4 226.5h.01M373.2 211.4h.01M372.1 214.8h.01M379.2 219.1h.01M370.4 222.6h.01M371.2 221.7h.01M378.6 223.6h.01M375.6 229.4h.01M368.0 233.1h.01M375.0 228.3h.01M368.4 227.4h.01M373.8 218.6h.01M381.7 225.8h.01M371.1 223.4h.01M375.9 229.5h.01M374.5 230.0h.01M378.3 214.1h.01M370.0 216.0h.01M372.5 231.5h.01M374.8 215.3h.01M370.9 228.8h.01M369.9 221.5h.01M373.4 210.3h.01M375.4 224.4h.01M374.5 215.8h.01M368.9 218.3h.01M373.1 222.6h.01M372.6 233.8h.01M377.6 217.5h.01M369.3 233.3h.01M370.8 231.1h.01M378.8 218.6h.01M371.0 222.7h.01M368.5 215.8h.01M370.4 227.7h.01M370.2 220.8h.01M370.1 213.3h.01M378.3 206.9h.01M369.3 225.8h.01M366.2 226.1h.01M377.3 216.5h.01M373.0 214.9h.01M374.2 222.7h.01M373.0 231.0h.01M374.1 230.9h.01M374.7 214.3h.01M373.2 225.3h.01M366.0 230.8h.01M372.4 224.5h.01M368.3 222.6h.01M373.3 220.0h.01M372.4 208.3h.01M377.8 214.9h.01M362.9 215.9h.01M368.6 225.7h.01M368.2 224.0h.01M368.0 236.5h.01M374.4 234.8h.01M367.8 226.4h.01M368.1 225.9h.01M374.9 211.7h.01M367.3 214.5h.01M365.8 217.4h.01M368.0 212.7h.01M372.5 225.6h.01M366.5 218.5h.01M372.1 220.6h.01M369.1 227.4h.01M375.6 226.5h.01M371.2 235.0h.01M379.4 219.5h.01M371.5 229.8h.01M368.7 224.7h.01M372.2 217.5h.01M371.1 211.9h.01M369.8 209.1h.01M381.6 231.8h.01M377.2 224.0h.01M376.2 230.3h.01M376.3 228.0h.01M368.2 224.8h.01M369.8 214.4h.01M367.2 224.8h.01M376.4 213.1h.01M379.4 231.6h.01M370.4 219.0h.01M371.7 228.4h.01M370.4 214.8h.01M373.5 208.6h.01M372.6 229.5h.01M373.3 227.1h.01M374.1 226.7h.01M372.6 216.6h.01M371.1 221.5h.01M377.3 232.6h.01M373.8 217.1h.01M368.9 220.8h.01M377.8 224.2h.01M371.8 217.0h.01M375.7 223.9h.01M371.8 222.7h.01M379.1 221.0h.01M379.1 230.1h.01M372.2 227.7h.01M371.5 216.6h.01M370.9 216.1h.01M374.1 222.1h.01M374.4 227.4h.01M364.4 223.1h.01M368.3 222.7h.01M377.7 210.9h.01M372.8 221.5h.01M364.1 226.2h.01M372.1 218.7h.01M369.0 242.9h.01M370.3 210.3h.01M368.1 219.6h.01M370.4 221.5h.01M367.6 225.5h.01M370.0 213.2h.01M368.6 219.5h.01M375.6 225.1h.01M370.6 222.1h.01M372.9 235.3h.01M369.4 225.0h.01M375.1 215.8h.01M372.8 223.1h.01M370.0 225.7h.01M376.3 229.3h.01M371.2 223.2h.01M381.9 214.8h.01M372.9 227.8h.01M372.6 226.3h.01M372.7 226.9h.01M377.4 220.6h.01M372.8 221.6h.01M370.3 221.9h.01M367.2 226.8h.01M379.2 233.1h.01M377.4 215.7h.01M378.4 217.3h.01M371.8 234.0h.01M367.5 227.5h.01M373.2 221.0h.01M368.3 224.7h.01M370.1 228.8h.01M377.1 213.0h.01M369.9 219.9h.01M367.0 214.7h.01M372.4 220.6h.01M365.1 218.5h.01M374.2 214.2h.01M368.1 232.3h.01M377.5 211.5h.01M366.3 224.5h.01M367.0 220.4h.01M370.1 225.6h.01M361.4 207.7h.01M366.8 228.6h.01M371.4 210.9h.01M374.1 226.6h.01M371.0 219.9h.01M373.8 229.9h.01M372.6 225.5h.01M371.8 219.5h.01M368.2 223.7h.01M370.7 220.4h.01M375.9 225.2h.01M375.7 211.8h.01M374.3 218.2h.01M368.6 216.5h.01M377.1 227.4h.01M369.0 214.6h.01M372.1 219.0h.01M379.0 212.5h.01M364.3 220.3h.01M372.0 222.9h.01M375.2 235.5h.01M370.6 218.5h.01M364.6 223.6h.01M375.6 220.3h.01M377.0 222.2h.01M378.4 224.2h.01M367.6 217.9h.01M365.6 210.7h.01M373.1 227.7h.01M380.2 221.6h.01M371.0 214.8h.01M376.1 224.5h.01M369.5 226.5h.01M374.4 209.8h.01M375.1 222.9h.01M370.4 219.3h.01M379.3 232.0h.01M379.7 214.5h.01M369.3 227.9h.01M366.9 217.3h.01M364.4 234.0h.01M376.5 225.0h.01M372.9 219.3h.01M370.3 226.0h.01M369.0 230.0h.01M369.9 216.3h.01M377.5 221.1h.01M374.3 219.3h.01M362.5 225.6h.01M366.3 229.0h.01M365.5 209.9h.01M373.3 224.8h.01M372.4 214.1h.01M375.7 212.5h.01M370.1 216.9h.01M370.4 227.5h.01M369.3 225.7h.01M374.9 210.9h.01M367.1 219.5h.01M369.5 224.0h.01M363.9 226.7h.01M375.1 220.9h.01M366.2 222.0h.01M369.7 225.7h.01M371.6 226.7h.01M370.2 231.4h.01M362.3 215.4h.01M374.1 212.2h.01M375.1 214.1h.01M372.4 216.1h.01M370.1 223.1h.01M371.6 219.5h.01M381.0 222.1h.01M367.9 228.0h.01M375.4 229.9h.01M379.5 215.9h.01M376.4 229.4h.01M372.0 223.6h.01M379.5 210.4h.01M369.8 223.9h.01M374.4 232.6h.01M364.6 222.3h.01M375.6 213.5h.01M371.8 234.3h.01M377.5 225.5h.01M361.0 221.2h.01M373.6 220.0h.01M371.7 242.0h.01M371.1 215.7h.01M373.0 219.9h.01M370.7 221.4h.01M375.3 223.5h.01M367.0 221.1h.01M374.0 219.0h.01M376.8 227.1h.01M367.8 224.1h.01M380.3 232.1h.01M371.8 227.8h.01M369.2 212.6h.01M374.3 223.6h.01M374.2 221.8h.01M373.4 218.7h.01M374.0 227.4h.01M371.8 227.3h.01M364.6 216.9h.01M378.1 233.5h.01M373.1 221.3h.01M366.7 224.4h.01M375.3 212.4h.01M374.3 225.2h.01M373.9 214.7h.01M374.3 212.3h.01M378.3 222.9h.01M367.1 230.7h.01M376.8 217.8h.01M381.3 215.5h.01M373.3 229.7h.01M362.5 228.5h.01M371.7 221.9h.01M367.5 224.2h.01M367.3 215.7h.01M370.1 214.0h.01M378.6 213.4h.01M368.8 219.9h.01M372.0 227.2h.01M375.4 220.0h.01M370.4 222.2h.01M375.5 226.5h.01M369.8 208.6h.01M381.0 228.2h.01M373.1 224.2h.01M369.8 215.5h.01M370.6 220.6h.01M369.4 212.5h.01M370.7 225.7h.01M369.9 222.1h.01M363.3 220.7h.01M371.5 214.0h.01M364.7 224.7h.01M368.6 225.2h.01M370.2 226.1h.01M370.6 212.2h.01M371.6 219.9h.01M374.8 219.1h.01M370.3 227.6h.01M376.9 226.9h.01M376.4 225.0h.01M375.2 227.7h.01M373.7 222.4h.01M372.6 237.6h.01M372.1 220.5h.01M370.5 221.8h.01M373.0 214.6h.01M363.7 223.9h.01M365.3 223.7h.01M372.6 229.5h.01M379.0 224.4h.01M369.7 214.4h.01M368.7 222.3h.01M363.3 222.5h.01M371.9 226.2h.01M370.6 222.7h.01M368.9 219.0h.01M364.6 222.8h.01M378.5 223.1h.01M373.5 215.6h.01M378.0 217.0h.01M375.4 222.7h.01M368.0 228.7h.01M372.1 223.2h.01M373.9 221.9h.01M370.4 225.0h.01M370.3 222.4h.01M369.2 212.3h.01M369.2 218.8h.01M372.1 229.7h.01M364.9 222.8h.01M362.7 215.2h.01M369.9 207.4h.01M364.2 223.0h.01M372.3 221.3h.01M368.6 236.0h.01M371.3 216.4h.01M379.0 226.0h.01M370.4 229.8h.01M372.7 226.2h.01M373.0 215.3h.01M376.1 223.0h.01M367.8 217.0h.01M376.0 219.6h.01M372.2 226.3h.01M372.5 212.1h.01M374.7 228.1h.01M375.6 232.5h.01M373.5 227.1h.01M378.7 220.1h.01M379.3 233.3h.01M375.3 234.0h.01M375.6 216.3h.01M376.8 224.1h.01M373.7 223.0h.01M377.7 225.6h.01" stroke="#333" stroke-width="0.5" stroke-linecap="round" opacity="0.5"/>
<path d="M370.1 248.9h.01M374.0 241.6h.01M370.8 243.7h.01M370.3 248.1h.01M375.3 252.1h.01M375.2 254.0h.01M370.9 250.2h.01M372.9 245.2h.01M370.7 243.0h.01M371.2 238.6h.01M373.5 245.9h.01M372.3 248.0h.01M374.0 242.4h.01M371.7 236.3h.01M365.8 234.4h.01M376.3 235.0h.01M373.3 254.9h.01M370.7 255.8h.01M377.2 251.7h.01M378.6 249.7h.01M370.0 249.1h.01M370.8 238.2h.01M370.5 245.9h.01M370.2 246.9h.01M371.4 243.6h.01M368.6 237.6h.01M369.9 247.8h.01M377.8 252.4h.01M377.1 249.0h.01M371.8 238.1h.01M372.1 233.2h.01M371.2 255.9h.01M373.0 252.9h.01M371.0 237.9h.01M370.7 243.7h.01M370.0 244.0h.01M371.7 244.0h.01M368.6 246.7h.01M373.1 248.5h.01M368.7 245.5h.01M367.2 251.6h.01M369.2 244.5h.01M370.8 242.7h.01M369.1 235.6h.01M376.9 247.7h.01M371.8 249.5h.01M372.1 253.3h.01M373.5 248.1h.01M371.4 247.9h.01M375.3 233.7h.01M371.7 243.7h.01M371.2 234.3h.01M374.1 241.1h.01M371.5 243.2h.01M367.4 243.5h.01M366.9 240.5h.01M371.2 246.2h.01M372.2 245.4h.01M378.1 248.8h.01M368.7 242.5h.01M370.3 245.1h.01M370.4 241.1h.01M376.7 246.5h.01M371.1 244.7h.01M371.5 254.6h.01M373.4 252.9h.01M363.4 248.2h.01M372.2 235.9h.01M373.7 242.6h.01M367.1 242.5h.01M375.1 253.4h.01M374.1 239.9h.01M379.1 239.2h.01M371.9 237.5h.01M375.8 248.9h.01M374.6 246.8h.01M371.9 247.3h.01M366.8 252.2h.01M374.7 243.9h.01M372.1 248.0h.01M376.5 248.8h.01M372.2 243.2h.01M367.9 242.7h.01M372.3 244.7h.01M372.3 250.7h.01M373.3 247.9h.01M374.0 247.4h.01M372.0 249.1h.01M367.3 253.8h.01M368.5 251.3h.01M372.2 252.9h.01M372.2 240.6h.01M375.1 247.4h.01M372.5 246.8h.01M374.9 251.2h.01M372.8 237.0h.01M371.0 246.9h.01M377.2 248.6h.01M371.9 253.5h.01M371.8 246.2h.01M372.6 237.3h.01M374.8 248.9h.01M371.4 239.5h.01M372.8 254.7h.01M370.4 240.0h.01M373.3 236.8h.01M365.9 243.7h.01M370.2 244.7h.01M370.6 248.3h.01M371.5 242.7h.01M370.9 250.1h.01M374.8 251.8h.01M374.1 226.6h.01M369.4 244.5h.01M372.7 236.6h.01M376.1 248.2h.01M370.4 247.3h.01M371.2 241.8h.01M373.6 243.6h.01M368.2 242.6h.01M371.8 239.9h.01M375.7 239.8h.01M377.1 251.7h.01M369.5 247.2h.01M375.5 245.2h.01M368.8 247.1h.01M377.8 237.4h.01M373.7 246.4h.01M371.9 244.1h.01M371.3 252.6h.01M373.9 240.4h.01M376.6 238.6h.01M374.0 247.5h.01M375.5 248.6h.01M375.2 246.3h.01M374.9 248.5h.01M378.2 242.3h.01M375.5 249.2h.01M372.7 243.0h.01M373.5 237.6h.01M368.4 250.7h.01M367.9 255.1h.01M371.4 247.9h.01M372.4 249.0h.01M371.4 244.2h.01M371.9 252.7h.01M375.4 254.1h.01M373.2 245.2h.01M367.5 250.3h.01M374.6 244.0h.01M374.5 254.2h.01M372.5 252.8h.01M373.1 236.0h.01M370.9 244.0h.01M373.7 241.3h.01M371.0 240.7h.01M372.1 246.9h.01M374.9 251.2h.01M372.7 247.9h.01M372.5 247.1h.01M376.5 231.5h.01M371.7 248.3h.01M375.4 239.9h.01M373.2 251.6h.01M371.0 235.0h.01M371.2 239.3h.01M374.0 241.4h.01M377.2 247.3h.01M370.0 243.4h.01M369.2 248.8h.01M376.4 245.2h.01M374.8 240.8h.01M368.3 253.9h.01M375.5 235.2h.01M368.2 240.6h.01M374.9 243.9h.01M371.7 250.7h.01M372.5 247.8h.01M371.3 253.2h.01M370.0 256.5h.01M371.3 241.7h.01M374.0 249.2h.01M366.7 247.8h.01M368.4 241.5h.01M374.4 241.3h.01M373.2 244.2h.01M377.6 245.9h.01M368.9 239.8h.01M369.7 247.2h.01M372.2 252.2h.01M372.7 247.2h.01M373.1 245.6h.01M373.0 251.1h.01M374.4 243.1h.01M367.2 241.5h.01M373.0 231.5h.01M370.8 249.1h.01M370.6 239.7h.01M377.1 254.7h.01M371.4 254.3h.01M375.8 239.6h.01M379.7 240.7h.01M371.4 239.8h.01M372.4 238.5h.01M372.1 252.8h.01M372.8 244.7h.01M376.5 241.0h.01M374.9 244.5h.01M372.8 246.5h.01M372.5 246.0h.01M370.0 242.9h.01M373.4 245.6h.01M368.9 242.1h.01M370.2 245.9h.01M372.6 246.8h.01M370.3 246.4h.01M368.3 229.0h.01M372.0 236.3h.01M369.5 239.0h.01M373.9 239.0h.01M372.9 243.3h.01M368.6 236.7h.01M373.4 248.5h.01M372.8 247.8h.01M371.7 246.8h.01M371.1 240.8h.01M377.6 234.9h.01M372.8 248.8h.01M372.5 240.3h.01M371.5 243.3h.01M369.0 245.8h.01M370.9 242.7h.01M373.9 239.7h.01M373.2 242.4h.01M373.2 246.4h.01M372.7 240.1h.01M369.8 240.9h.01M372.5 250.5h.01M375.0 243.0h.01M372.2 236.3h.01M365.8 240.8h.01M370.1 236.7h.01M367.0 249.1h.01M369.7 235.9h.01M378.5 247.0h.01M371.1 250.0h.01M369.8 255.4h.01M367.7 238.1h.01M371.6 241.3h.01M375.9 236.3h.01M369.9 247.3h.01M373.5 251.8h.01M370.6 246.9h.01M374.3 243.9h.01M371.1 243.0h.01M370.1 239.0h.01M370.4 236.5h.01M373.0 236.3h.01M377.7 255.9h.01M375.0 244.5h.01M370.2 253.1h.01M372.4 249.1h.01M369.9 252.1h.01M369.6 246.4h.01M367.0 241.8h.01M373.3 243.0h.01M370.6 250.4h.01M371.7 253.1h.01M365.1 249.1h.01M373.3 236.5h.01M368.2 250.9h.01M368.9 241.9h.01M373.5 243.7h.01M373.2 240.5h.01M372.7 252.2h.01M372.8 232.6h.01M373.7 246.0h.01M369.3 254.0h.01M367.0 256.9h.01M370.1 255.1h.01M371.7 237.7h.01M372.1 247.7h.01M373.4 252.0h.01M369.3 248.6h.01M373.9 244.1h.01M369.2 240.0h.01M373.9 250.4h.01M369.5 237.7h.01M375.3 236.4h.01M372.3 240.9h.01M367.0 246.4h.01M371.3 254.3h.01" stroke="#333" stroke-width="0.5" stroke-linecap="round" opacity="0.55"/>
<path d="M392.4 220.1h.01M383.8 229.9h.01M373.0 214.7h.01M387.8 218.6h.01M376.4 219.2h.01M375.7 216.7h.01M381.8 231.6h.01M374.0 210.6h.01M377.0 209.7h.01M372.2 231.3h.01M392.8 224.5h.01M369.2 227.8h.01M361.0 216.0h.01M387.2 227.5h.01M367.0 208.3h.01M382.6 221.2h.01M372.5 224.8h.01M372.6 206.3h.01M382.2 216.4h.01M369.6 210.9h.01M378.3 215.1h.01M381.0 219.4h.01M384.1 218.5h.01M372.1 205.9h.01M369.0 227.3h.01M397.9 211.6h.01M369.4 224.2h.01M379.9 216.2h.01M377.2 208.8h.01M374.5 228.7h.01M388.0 220.2h.01M374.8 225.2h.01M384.3 225.4h.01M371.4 224.4h.01M383.4 215.9h.01M367.3 225.6h.01M379.2 229.3h.01M377.2 216.4h.01M373.6 213.4h.01M370.0 217.1h.01M373.3 230.4h.01M368.1 221.2h.01M372.5 233.4h.01M378.5 218.6h.01M382.3 222.1h.01M373.3 233.8h.01M381.6 235.4h.01M384.7 227.8h.01M377.6 213.0h.01M381.6 222.2h.01M381.4 221.6h.01M371.9 213.6h.01M381.6 231.9h.01M374.7 225.3h.01M386.3 215.0h.01M374.3 212.8h.01M384.9 223.7h.01M373.5 208.5h.01M375.5 229.6h.01M374.7 218.3h.01M381.2 211.9h.01M377.1 226.4h.01M371.3 215.1h.01M378.4 220.9h.01M375.1 223.3h.01M378.3 214.3h.01M372.1 225.3h.01M384.5 232.5h.01M370.9 230.4h.01M382.0 221.5h.01M380.1 228.3h.01M389.2 213.3h.01M380.9 220.6h.01M375.3 230.8h.01M382.4 213.7h.01M374.8 223.5h.01M367.0 228.6h.01M376.3 223.0h.01M379.1 236.1h.01M377.0 218.9h.01M388.8 217.8h.01M373.1 210.8h.01M384.3 223.9h.01M380.1 223.1h.01M375.9 215.5h.01M371.4 225.2h.01M377.7 234.7h.01M371.5 217.9h.01M369.7 232.7h.01M368.3 227.9h.01M386.8 220.7h.01M381.8 204.9h.01M374.1 208.7h.01M378.0 221.9h.01M371.5 229.3h.01M379.3 217.6h.01M373.3 210.2h.01M375.5 238.6h.01M371.9 225.1h.01M373.0 228.1h.01M379.9 220.0h.01M364.5 217.7h.01M385.1 219.9h.01M381.2 218.0h.01M363.9 225.2h.01M379.0 217.2h.01M374.3 224.1h.01M372.7 224.5h.01M375.4 203.2h.01M375.8 217.1h.01M371.0 225.0h.01M373.5 226.1h.01M384.4 222.9h.01M366.1 216.0h.01M383.2 219.8h.01M371.3 221.1h.01M380.3 223.9h.01M381.3 215.3h.01M374.9 219.8h.01M376.7 205.3h.01" stroke="#555" stroke-width="0.45" stroke-linecap="round" opacity="0.4"/>
<path d="M396.3 235.7h.01M400.5 254.4h.01M401.3 249.6h.01M395.7 250.5h.01M396.4 248.3h.01M394.6 240.6h.01M398.1 255.8h.01M404.0 236.1h.01M396.9 238.3h.01M396.6 241.0h.01M396.8 250.6h.01M399.4 246.1h.01M397.0 245.2h.01M397.3 248.1h.01M397.0 247.6h.01M393.6 249.5h.01M401.5 245.6h.01M393.3 253.1h.01M396.1 225.2h.01M396.4 248.3h.01M398.0 252.4h.01M398.6 245.2h.01M391.9 237.2h.01M397.4 248.8h.01M394.3 240.5h.01M398.2 232.1h.01M392.0 242.9h.01M397.6 241.3h.01M391.1 244.6h.01M393.5 248.6h.01M396.7 246.1h.01M398.6 241.0h.01M399.1 252.4h.01M398.0 253.0h.01M395.4 250.3h.01M397.7 238.1h.01M396.8 241.0h.01M395.5 245.0h.01M399.7 242.4h.01M397.3 235.0h.01M397.2 251.8h.01M399.1 247.5h.01M395.6 238.2h.01M396.7 235.8h.01M393.8 250.5h.01M394.6 256.0h.01M393.3 247.2h.01M394.0 245.5h.01M394.3 244.7h.01M396.6 241.5h.01M398.3 254.1h.01M395.4 250.1h.01M397.2 244.2h.01M402.6 230.5h.01M395.2 232.8h.01M396.2 242.9h.01M406.8 246.7h.01M401.6 252.8h.01M395.8 247.5h.01M401.3 245.5h.01M397.5 247.7h.01M393.1 239.2h.01M397.8 247.9h.01M394.6 242.3h.01M396.7 243.4h.01M398.8 245.1h.01M397.4 235.3h.01M394.3 246.5h.01M392.9 246.1h.01M395.3 239.2h.01M398.6 240.0h.01M394.7 240.0h.01M391.5 244.3h.01M396.3 250.5h.01M396.0 228.4h.01M400.4 237.3h.01M396.8 235.5h.01M394.1 241.2h.01M399.2 249.8h.01M395.4 247.6h.01M396.0 245.1h.01M397.3 248.3h.01M395.3 243.5h.01M397.5 244.9h.01M394.9 255.4h.01M395.7 249.2h.01M397.5 252.2h.01M396.4 236.4h.01M398.2 236.4h.01M395.7 252.9h.01M393.3 243.1h.01M396.2 252.8h.01M395.2 239.1h.01M399.5 248.3h.01M392.5 248.4h.01M398.6 240.3h.01M397.5 246.0h.01M395.7 240.5h.01M395.2 242.5h.01M393.5 244.0h.01M393.1 244.8h.01M396.7 237.6h.01M399.1 256.8h.01M400.3 235.5h.01M400.2 245.7h.01M396.8 240.4h.01M396.9 253.2h.01M398.3 241.6h.01M395.2 241.6h.01M398.4 256.3h.01M394.2 244.3h.01M395.9 239.4h.01M397.9 247.8h.01M393.3 237.6h.01M400.0 246.3h.01M398.3 241.0h.01M395.9 247.2h.01M395.6 237.1h.01M396.9 250.1h.01M394.3 251.1h.01M398.7 238.7h.01M396.9 244.0h.01M398.5 248.6h.01M393.6 235.6h.01M399.6 245.0h.01M398.0 246.4h.01M400.9 236.5h.01M399.7 239.0h.01M398.8 252.9h.01M393.4 246.9h.01M396.2 242.4h.01M397.0 237.5h.01M394.4 248.5h.01M399.1 240.6h.01M399.7 246.6h.01M394.3 240.5h.01M397.5 238.1h.01M401.0 245.2h.01M397.9 237.7h.01M394.6 239.2h.01M397.6 242.6h.01M396.2 246.3h.01M397.5 253.8h.01M396.4 237.8h.01M396.9 253.7h.01M395.5 244.6h.01M396.0 246.9h.01M397.6 239.1h.01M396.3 250.3h.01M399.7 250.2h.01M399.1 242.2h.01M396.0 250.2h.01M393.9 243.9h.01M392.2 241.9h.01M395.1 236.6h.01M398.4 239.6h.01M396.0 242.6h.01M395.0 253.4h.01M395.7 245.5h.01M393.6 241.3h.01M396.1 242.3h.01M395.4 245.2h.01M400.9 243.4h.01M396.6 241.8h.01M403.4 254.6h.01M398.3 248.8h.01M395.1 243.3h.01M397.5 245.1h.01M394.7 239.3h.01M398.2 246.3h.01M391.5 244.9h.01M400.2 240.2h.01M397.5 235.0h.01M399.0 237.2h.01M393.7 242.3h.01M403.0 240.4h.01M393.7 247.2h.01M397.5 254.9h.01M393.7 234.1h.01M396.1 246.7h.01M397.8 251.2h.01M393.1 239.0h.01M396.6 249.7h.01M398.1 241.6h.01M394.3 249.9h.01M396.5 254.7h.01M393.8 240.8h.01M395.2 241.4h.01M394.7 240.8h.01M396.8 241.4h.01M398.6 243.8h.01M396.9 253.7h.01M397.7 245.3h.01M396.9 244.7h.01M398.4 239.2h.01M399.8 254.3h.01M399.9 241.2h.01M392.9 241.5h.01M397.3 249.6h.01M396.5 242.4h.01M400.8 240.0h.01M399.6 250.1h.01M393.5 246.1h.01M395.5 238.3h.01M392.2 234.3h.01M398.0 241.8h.01M397.6 237.5h.01M396.1 242.6h.01M393.0 233.7h.01M398.0 245.2h.01M394.5 243.7h.01M398.6 256.0h.01M394.7 248.2h.01" stroke="#333" stroke-width="0.45" stroke-linecap="round" opacity="0.6"/>
<defs><linearGradient id="td" x1="0" y1="0" x2="0" y2="1"><stop offset="0" stop-color="#555"/><stop offset="0.6" stop-color="#999"/><stop offset="1" stop-color="#ddd"/></linearGradient></defs>
<path d="M366.8 217C366.8 213.2,369 211.8,372.2 211.8C375.4 211.8,377.6 213.2,377.6 217C377.6 222,375 229,372.3 235.6C369.6 229,366.8 222,366.8 217Z" stroke="#555" stroke-width="0.8" fill="#fff"/>
<path d="M369.2 218.3C369.2 215.6,370.4 214.4,372 214.4C373.6 214.4,374.8 215.6,374.8 218.3C374.8 222,374.4 225.5,373.4 227.6C372.7 228.6,371.4 228.6,370.7 227.6C369.6 225.5,369.2 222,369.2 218.3Z" stroke="#1a1a1a" stroke-width="1.0" fill="url(#td)"/>
<ellipse cx="372" cy="219" rx="0.9" ry="2.5" fill="#eee" opacity="0.8"/>
<path d="M383.5 297.4h.01M379.9 268.8h.01M379.8 296.6h.01M361.5 305.1h.01M377.6 309.7h.01M378.4 296.4h.01M367.7 291.7h.01M371.6 301.1h.01M369.2 297.2h.01M376.7 300.2h.01M384.4 319.9h.01M365.5 290.6h.01M364.6 284.1h.01M374.8 286.0h.01M366.1 293.8h.01M376.2 292.8h.01M369.9 306.6h.01M374.4 301.6h.01M377.0 285.7h.01M373.0 289.8h.01M377.5 305.5h.01M366.1 311.1h.01M365.4 309.3h.01M373.0 287.3h.01M365.7 293.4h.01M371.7 289.0h.01M374.9 281.5h.01M371.8 296.7h.01M361.5 300.0h.01M364.9 269.6h.01M368.5 294.2h.01M376.8 291.4h.01M380.0 312.2h.01M377.9 311.0h.01M373.8 290.6h.01M375.4 307.2h.01M373.1 294.0h.01M363.2 304.0h.01M373.8 282.6h.01M372.4 304.5h.01M371.2 305.2h.01M376.0 280.7h.01M370.2 301.9h.01M376.9 312.0h.01M361.2 295.9h.01M375.8 310.0h.01M381.2 286.5h.01M369.8 285.2h.01M376.4 282.3h.01M378.4 306.8h.01M374.5 273.1h.01M368.1 304.8h.01M364.0 294.1h.01M371.3 306.3h.01M373.4 299.6h.01M369.4 296.7h.01M371.1 304.6h.01M370.8 307.9h.01M362.4 309.7h.01M370.9 308.9h.01M372.3 305.9h.01M380.1 290.6h.01M372.3 294.8h.01M373.0 279.1h.01M370.9 293.9h.01M367.5 294.5h.01M363.3 311.8h.01M374.3 317.1h.01M367.0 284.0h.01M373.4 278.5h.01M373.1 289.0h.01M370.0 299.4h.01M372.1 316.9h.01M375.3 282.6h.01M377.2 282.1h.01M372.3 283.1h.01M367.2 310.9h.01M368.7 289.6h.01M368.7 293.2h.01M379.8 283.8h.01M365.0 302.9h.01M363.0 292.6h.01M378.0 296.6h.01M369.1 288.9h.01M366.7 290.1h.01M372.5 310.1h.01M377.1 290.4h.01M367.7 304.1h.01M361.7 291.7h.01M370.0 284.4h.01M366.2 300.3h.01M362.6 286.5h.01M368.1 297.3h.01M364.1 308.2h.01M370.0 293.6h.01M369.7 289.1h.01M366.3 308.8h.01M372.8 295.2h.01M377.2 288.6h.01M375.1 296.6h.01M366.7 304.5h.01M363.4 303.3h.01M366.7 300.7h.01M379.2 302.4h.01M368.3 295.9h.01M369.6 283.5h.01M365.5 296.7h.01M374.5 277.1h.01M371.2 301.6h.01M372.2 285.3h.01M377.3 283.0h.01M375.1 313.4h.01M360.3 298.9h.01M373.3 298.5h.01M367.3 292.7h.01M363.8 297.5h.01M374.5 288.8h.01M366.4 290.9h.01M371.4 296.7h.01M370.9 296.7h.01M364.3 266.5h.01M374.9 311.3h.01M363.7 288.8h.01M373.1 306.3h.01M375.0 309.7h.01M371.2 300.4h.01M373.7 291.3h.01M378.1 302.7h.01M376.8 291.7h.01M377.1 284.6h.01M373.6 267.7h.01M365.9 303.9h.01M369.0 297.8h.01M362.6 312.6h.01M374.7 295.6h.01M373.7 299.4h.01M379.2 298.2h.01M363.4 293.2h.01M378.5 302.0h.01M369.1 302.5h.01M372.1 302.5h.01M362.7 286.2h.01M375.1 293.5h.01M373.4 317.0h.01M369.7 298.5h.01M368.4 289.2h.01M371.0 280.3h.01M370.9 308.0h.01M372.1 297.5h.01M375.1 303.6h.01M364.9 308.9h.01M366.1 298.1h.01M385.4 296.8h.01M380.6 292.2h.01M374.8 296.5h.01M373.7 286.7h.01M366.4 299.5h.01M362.9 286.8h.01M375.0 289.3h.01M366.6 284.0h.01M372.3 292.0h.01M372.3 293.9h.01M381.6 291.2h.01M360.7 297.2h.01M371.5 297.6h.01M362.7 308.1h.01M371.3 295.5h.01M362.8 301.0h.01M371.1 310.4h.01M369.2 282.7h.01M372.2 286.1h.01M373.7 284.3h.01M370.7 293.5h.01M371.3 290.4h.01M367.0 295.3h.01M368.3 297.6h.01M370.0 271.9h.01M371.1 310.8h.01M373.1 302.3h.01M373.9 290.9h.01M364.2 304.6h.01M377.2 302.0h.01M373.8 300.1h.01M371.3 298.8h.01M371.5 299.4h.01M366.3 289.2h.01M374.5 292.3h.01M375.3 303.1h.01M367.9 284.0h.01M370.3 296.2h.01M367.3 297.6h.01M375.2 302.3h.01M365.9 273.1h.01M371.5 289.0h.01M373.9 313.3h.01M380.3 299.0h.01M377.5 313.4h.01M371.7 298.9h.01M376.1 295.6h.01M368.8 288.1h.01M371.5 289.5h.01M375.8 292.6h.01M379.4 308.8h.01M364.9 307.5h.01M369.4 310.5h.01M374.3 295.6h.01M375.2 290.3h.01M373.3 300.2h.01M370.8 300.2h.01M366.2 302.0h.01M365.1 302.7h.01M374.1 303.6h.01M370.4 297.8h.01M367.6 311.3h.01M369.1 306.7h.01M366.6 299.6h.01M369.7 306.1h.01M370.1 287.3h.01M374.1 283.9h.01M366.6 304.4h.01M361.7 304.3h.01M369.6 286.9h.01M373.0 303.0h.01M368.6 294.6h.01M376.0 304.3h.01M371.5 288.5h.01M366.7 290.3h.01M375.4 302.5h.01M373.4 311.0h.01M370.2 292.6h.01M369.7 316.5h.01M360.9 299.6h.01M374.2 297.3h.01M384.2 308.8h.01M375.9 287.3h.01M374.5 292.8h.01M372.1 298.8h.01M369.3 303.3h.01M380.5 307.5h.01M373.0 276.7h.01M377.6 307.9h.01M370.9 291.8h.01M375.4 288.4h.01M376.1 285.6h.01M367.1 297.0h.01M364.2 296.9h.01M374.7 283.2h.01M376.8 291.1h.01M374.8 299.1h.01M369.5 291.5h.01M363.0 289.7h.01M367.9 313.9h.01M377.3 282.8h.01M376.2 299.2h.01M370.0 301.7h.01M376.1 291.0h.01M370.5 298.6h.01M366.8 298.8h.01M371.5 289.9h.01M367.6 300.1h.01M376.6 300.4h.01M367.5 304.7h.01M372.9 303.1h.01M378.1 287.7h.01M371.2 290.8h.01M367.4 317.6h.01M376.9 278.8h.01M374.2 291.2h.01M378.0 297.8h.01M371.1 298.4h.01M374.0 297.3h.01M370.8 295.6h.01M374.7 285.4h.01M372.0 295.8h.01M369.4 304.6h.01M365.2 293.2h.01M367.5 302.6h.01M369.5 297.5h.01M374.0 280.6h.01M374.4 289.3h.01M370.7 295.8h.01M376.2 304.6h.01M381.2 298.8h.01M369.5 291.8h.01M375.4 313.5h.01M373.8 291.1h.01M373.4 299.6h.01M372.2 289.4h.01M377.5 299.2h.01M360.4 297.1h.01M362.3 317.4h.01M373.0 284.6h.01M376.2 289.0h.01M374.9 297.2h.01M365.8 303.8h.01M365.0 310.8h.01M372.3 286.4h.01M362.5 313.6h.01M379.6 284.1h.01M380.6 298.7h.01M370.8 296.1h.01M370.6 311.7h.01M372.8 278.1h.01M382.9 306.1h.01M366.3 293.3h.01M367.3 297.5h.01M374.1 299.4h.01M368.9 288.8h.01M376.4 296.0h.01M383.8 288.7h.01M376.1 297.5h.01M368.0 311.0h.01M372.6 287.8h.01M370.3 307.5h.01M365.6 311.2h.01M375.6 294.1h.01M379.1 315.0h.01M375.1 298.8h.01M381.7 312.4h.01M367.1 294.9h.01M370.9 292.8h.01M364.2 306.3h.01M372.4 298.0h.01M379.4 291.2h.01M371.7 299.8h.01M369.7 295.9h.01M376.0 296.9h.01M379.0 289.3h.01M373.1 282.3h.01M371.4 289.7h.01M379.2 304.7h.01M374.7 316.1h.01M379.6 304.4h.01M368.4 282.0h.01M371.8 293.3h.01M368.6 294.0h.01M363.3 312.4h.01M366.0 290.0h.01M375.0 280.1h.01M376.9 306.7h.01M370.4 285.8h.01M369.5 277.8h.01M379.3 297.6h.01M368.1 287.6h.01M375.0 312.6h.01M365.3 291.0h.01M362.7 304.0h.01M372.8 320.5h.01M371.4 292.5h.01M368.2 305.9h.01M363.4 304.8h.01M373.3 291.7h.01M367.2 308.0h.01M381.9 292.4h.01M374.8 315.2h.01M368.7 294.4h.01M365.5 295.5h.01M371.6 292.6h.01M368.1 280.5h.01M364.9 286.8h.01M375.4 291.7h.01M367.5 303.9h.01M375.0 289.1h.01M368.7 303.9h.01M373.9 288.3h.01M373.3 296.7h.01M377.9 287.9h.01M376.7 301.5h.01M366.6 308.0h.01M376.8 283.2h.01M382.6 285.0h.01M367.1 293.6h.01M376.1 303.1h.01M371.5 311.3h.01M374.2 311.7h.01M387.1 299.0h.01M366.2 298.0h.01M372.5 284.1h.01M365.8 294.2h.01M370.9 269.5h.01M377.2 297.3h.01M371.9 300.1h.01M366.5 296.5h.01M377.6 308.4h.01M374.5 294.0h.01M367.6 311.0h.01M374.8 292.5h.01M360.2 287.7h.01M361.5 310.3h.01M373.0 289.0h.01M378.6 282.6h.01M371.3 283.8h.01M362.6 298.9h.01M385.2 313.8h.01M372.2 293.0h.01M373.1 308.1h.01M364.0 276.9h.01M382.3 300.0h.01M380.8 299.6h.01M380.1 290.4h.01M374.7 313.8h.01M377.6 292.0h.01M376.9 289.8h.01M364.1 302.7h.01M379.7 306.2h.01M365.0 306.4h.01M375.8 292.0h.01M376.9 302.4h.01M362.4 280.8h.01M377.6 305.8h.01M374.7 294.3h.01M374.2 291.1h.01M370.3 287.5h.01M373.4 292.4h.01M377.3 304.9h.01M367.5 317.1h.01M365.7 301.9h.01M378.0 311.0h.01M378.8 312.8h.01M371.4 292.1h.01M379.5 289.6h.01M378.9 303.2h.01M363.9 286.1h.01M369.4 298.1h.01M377.6 295.0h.01M377.1 279.7h.01M374.6 293.0h.01M366.3 301.6h.01M382.8 295.9h.01M367.9 287.7h.01M383.0 296.6h.01M375.4 310.4h.01M378.0 286.9h.01M377.4 306.3h.01M374.7 308.1h.01M368.9 296.2h.01M369.1 305.3h.01M368.3 301.3h.01M365.9 295.7h.01M370.0 295.7h.01M372.7 295.0h.01M370.8 274.2h.01M378.2 290.1h.01M370.6 287.9h.01M377.6 287.1h.01M374.8 310.0h.01M381.2 310.1h.01M375.5 283.8h.01M379.2 310.1h.01M376.7 305.8h.01M372.4 291.4h.01M378.1 311.0h.01M366.2 307.1h.01M373.4 306.8h.01M373.6 309.3h.01M377.8 306.8h.01M364.4 306.2h.01M372.3 284.8h.01M376.0 282.2h.01M377.1 315.7h.01M369.3 307.2h.01M374.6 304.3h.01M364.6 303.9h.01M372.9 305.3h.01M372.2 309.2h.01M373.6 304.7h.01M379.7 299.3h.01M377.7 299.8h.01M375.0 291.6h.01M376.5 310.7h.01M371.7 306.0h.01M374.5 285.3h.01M374.1 311.7h.01M369.5 278.0h.01M373.3 290.4h.01M382.7 296.9h.01M372.2 290.5h.01M373.6 291.3h.01M367.2 296.7h.01M367.7 311.6h.01M365.8 296.6h.01M368.4 282.5h.01M381.3 274.7h.01M380.2 282.1h.01M360.5 282.6h.01M379.4 299.3h.01M369.2 297.0h.01M366.9 298.7h.01M380.4 293.3h.01M373.0 310.4h.01M383.1 291.0h.01M373.8 291.3h.01M368.7 293.1h.01M368.7 278.7h.01M361.3 289.5h.01M372.9 310.5h.01M369.3 295.6h.01M375.8 305.4h.01M371.6 296.8h.01M382.5 293.8h.01M369.5 279.9h.01M374.6 294.5h.01M382.7 293.8h.01M376.7 307.4h.01M381.2 283.3h.01M380.8 297.5h.01M371.6 294.0h.01M370.0 293.7h.01" stroke="#222" stroke-width="0.5" stroke-linecap="round" opacity="0.55"/>
<path d="M371.2 277.4C367.5 280,365.4 286,365.4 291C365.4 296,368 300,368 304.7C368 309,365.4 313,365.4 317.5C366 319,368 319.8,370.4 319.8C373 319.8,375 319,375.2 317.5C375.2 312,374.8 306,375.4 301.6C376.5 297,380.1 292,380.1 286.8C379 282,374 278,371.2 277.4Z" stroke="#1a1a1a" stroke-width="1.0" fill="#e6e6e6"/>
<path d="M371.2 279.2C368.5 282,366.8 286,366.8 290.5C367.2 295,369.5 299,370.6 302.5C372.5 298,376.5 292.5,378.3 287C377 283,373.8 280.2,371.2 279.2Z" stroke="#999" stroke-width="0.45" fill="#c8c8c8"/>
<path d="M371.3 280.5C369.6 283,368.8 286.5,369.3 290C370 293,371 295,371.4 296.5C372.6 293.5,375 290,375.8 287C375 284,373.2 281.5,371.3 280.5Z" stroke="#777" stroke-width="0.45" fill="#9a9a9a"/>
<ellipse cx="371.6" cy="286" rx="0.7" ry="3" fill="#eee" opacity="0.8"/>
<circle cx="370.5" cy="316.6" r="2.4" fill="#fff" stroke="#777" stroke-width="0.5"/>
<path d="M377.4 297.2h.01M365.7 292.8h.01M373.3 306.7h.01M366.7 315.5h.01M379.3 284.4h.01M374.9 308.6h.01M378.5 291.6h.01M379.7 292.3h.01M366.7 297.3h.01M366.8 283.7h.01M376.9 296.6h.01M369.5 282.8h.01M376.2 280.4h.01M375.8 302.8h.01M366.8 316.8h.01M374.8 306.6h.01M364.2 288.8h.01M373.7 307.8h.01M377.6 281.5h.01M371.3 276.9h.01M376.3 279.7h.01M367.4 305.1h.01M366.4 313.6h.01M376.7 280.2h.01M378.9 294.1h.01M366.2 312.0h.01M373.4 276.1h.01M368.8 279.2h.01M373.8 306.1h.01M372.4 321.0h.01M378.8 286.0h.01M370.7 278.1h.01M366.9 308.0h.01M369.4 319.8h.01M366.4 282.0h.01M374.6 306.9h.01M379.0 288.2h.01M379.6 284.0h.01M365.4 289.8h.01M372.6 320.6h.01M372.8 277.6h.01M366.4 283.5h.01M377.2 301.2h.01M366.4 304.2h.01M378.2 282.8h.01M375.8 311.3h.01M377.9 282.5h.01M367.5 280.0h.01M375.2 310.6h.01M365.3 315.7h.01M365.5 285.8h.01M366.1 316.6h.01M376.7 297.7h.01M376.4 314.1h.01M375.4 313.1h.01M368.7 303.7h.01M373.0 320.2h.01M366.0 318.5h.01M378.2 282.6h.01M379.5 285.7h.01M366.0 318.0h.01M370.8 320.3h.01M368.3 303.7h.01M375.5 315.6h.01M365.7 287.1h.01M373.5 278.3h.01M366.7 315.6h.01M370.2 277.2h.01M367.6 305.0h.01M374.1 277.9h.01M368.1 306.0h.01M365.7 314.1h.01M374.2 276.8h.01M378.5 295.1h.01M366.1 310.7h.01M366.2 291.6h.01M365.2 313.4h.01M365.4 312.5h.01M377.7 284.7h.01M373.6 318.0h.01M376.3 281.2h.01M373.2 278.7h.01M380.8 286.2h.01M365.8 315.6h.01M366.5 313.6h.01M375.9 317.5h.01M375.8 304.5h.01M380.6 287.8h.01M379.6 290.5h.01M367.4 306.2h.01M377.2 297.9h.01M368.6 312.4h.01M379.2 295.9h.01M368.4 278.0h.01M381.1 286.6h.01M375.8 301.7h.01M365.1 290.1h.01M365.8 300.3h.01M367.2 305.6h.01M373.5 322.1h.01M378.7 283.4h.01M373.9 277.9h.01M375.2 312.8h.01M365.9 286.9h.01M373.0 279.9h.01M373.5 279.5h.01M366.3 284.4h.01M374.1 304.7h.01M374.7 305.5h.01M373.9 305.3h.01M376.6 300.5h.01M370.4 277.2h.01M367.2 307.6h.01M367.4 308.6h.01M375.5 308.8h.01M366.7 283.9h.01M367.5 302.4h.01M365.5 292.0h.01M367.4 279.7h.01M369.2 319.7h.01M365.2 294.4h.01M369.5 320.2h.01M366.6 295.8h.01M376.6 293.4h.01M365.2 286.3h.01M377.2 295.3h.01M374.3 308.2h.01M365.9 291.0h.01M366.2 312.6h.01M366.3 312.7h.01M367.1 320.2h.01M375.5 304.8h.01M371.0 278.5h.01M364.8 290.6h.01M374.8 302.2h.01M366.2 285.4h.01M379.7 288.2h.01M367.0 312.7h.01M368.0 279.9h.01M378.9 296.1h.01M367.0 298.2h.01M372.2 277.9h.01M377.6 281.2h.01M378.3 284.8h.01M379.2 285.7h.01M365.7 283.9h.01M369.1 279.9h.01M365.2 315.1h.01M366.4 316.9h.01M364.7 315.4h.01M375.4 311.4h.01M377.6 294.6h.01M378.1 294.5h.01M376.1 279.8h.01M374.4 305.5h.01M378.9 285.5h.01M366.1 283.8h.01M369.9 279.1h.01M367.2 318.2h.01M378.1 283.1h.01M366.0 313.2h.01M366.3 287.5h.01M365.5 287.8h.01M367.0 299.1h.01M379.5 287.2h.01M366.9 308.3h.01M380.6 286.7h.01M375.3 280.8h.01M378.2 295.1h.01M377.4 281.9h.01M366.9 301.2h.01M366.3 295.7h.01M367.8 299.9h.01M369.6 278.6h.01M376.5 283.0h.01M366.1 296.2h.01M375.8 308.1h.01M367.2 303.2h.01M374.1 317.0h.01M365.5 319.0h.01M376.5 300.2h.01M366.2 294.2h.01M368.3 304.2h.01M364.8 289.3h.01M367.2 307.1h.01M379.4 289.3h.01M373.8 279.2h.01M370.3 278.6h.01M380.0 288.4h.01M378.0 297.7h.01M367.1 283.6h.01M365.5 291.0h.01M379.9 285.8h.01M365.1 294.6h.01M377.2 283.3h.01M375.6 315.5h.01M371.5 278.1h.01M372.2 319.7h.01M365.9 289.0h.01M375.6 312.7h.01M366.5 319.5h.01M365.5 282.5h.01M379.1 292.3h.01M380.3 283.9h.01M373.5 278.8h.01M374.9 307.8h.01M375.8 314.4h.01M364.2 295.7h.01M374.1 278.5h.01M377.6 298.7h.01M373.9 304.3h.01M375.3 303.3h.01M381.1 288.9h.01M366.6 310.4h.01M365.4 287.5h.01M372.2 277.9h.01M368.6 279.6h.01M367.2 301.8h.01M370.7 319.3h.01M368.3 280.0h.01M367.5 305.9h.01M379.7 287.4h.01M374.9 309.1h.01M374.8 314.1h.01M369.6 278.4h.01M365.2 317.6h.01M366.0 287.8h.01M365.0 312.8h.01M364.3 314.2h.01M366.2 318.1h.01M367.7 307.4h.01M378.4 294.6h.01M366.9 319.0h.01M377.9 283.4h.01M368.1 309.0h.01M365.8 289.9h.01M366.2 309.2h.01M379.3 285.1h.01M366.4 310.7h.01M379.9 291.0h.01M375.6 302.2h.01M367.9 299.8h.01M366.0 294.7h.01M365.2 285.5h.01M367.2 318.7h.01M375.8 303.2h.01M367.9 304.4h.01M375.8 279.8h.01M369.4 278.4h.01M379.0 294.5h.01M365.8 292.2h.01M371.3 276.8h.01M364.9 286.0h.01M377.2 281.8h.01M364.8 315.0h.01M367.2 305.8h.01M367.3 279.3h.01M367.2 297.9h.01M364.7 313.3h.01M377.1 279.9h.01M374.6 278.3h.01M365.6 283.2h.01M374.8 314.9h.01M370.2 279.1h.01M365.3 286.3h.01M374.9 311.4h.01M373.8 319.2h.01M378.7 283.6h.01M378.3 283.1h.01M366.6 290.8h.01M374.5 308.5h.01M379.9 292.7h.01M378.8 294.6h.01M375.3 315.2h.01M372.7 319.7h.01M373.7 315.1h.01M365.7 315.1h.01M375.0 316.6h.01M378.7 284.7h.01M366.7 309.1h.01M365.6 318.2h.01M366.9 318.9h.01M379.5 287.2h.01M366.9 299.1h.01M366.4 317.8h.01M376.2 298.3h.01M364.8 314.4h.01M379.0 287.6h.01M374.5 317.8h.01M364.4 285.2h.01M366.5 310.9h.01M365.4 290.6h.01M365.6 318.6h.01M365.7 311.5h.01M367.5 310.6h.01M380.7 290.5h.01M379.7 283.0h.01M378.2 296.7h.01M377.4 296.8h.01M379.1 285.1h.01M376.9 282.1h.01M365.3 292.5h.01M377.4 284.4h.01M365.6 290.7h.01M366.6 301.7h.01M379.8 293.8h.01M365.3 290.0h.01M374.4 279.0h.01M377.4 281.2h.01M371.8 276.6h.01M374.9 308.2h.01M377.4 281.4h.01M374.4 317.7h.01M375.3 317.8h.01M374.2 313.8h.01M375.8 316.6h.01M375.2 313.3h.01M374.9 304.8h.01M375.6 279.5h.01M366.0 282.5h.01M367.0 298.9h.01M371.5 279.1h.01M367.1 282.9h.01M365.4 296.2h.01M379.2 284.3h.01M368.1 306.8h.01M376.0 311.5h.01M368.1 307.0h.01M371.8 277.1h.01M366.3 294.6h.01M366.4 314.7h.01M365.9 312.1h.01M367.2 296.4h.01M366.4 282.1h.01M366.6 315.3h.01M365.3 295.9h.01M370.0 278.5h.01M379.0 284.1h.01M366.4 309.4h.01M370.8 278.2h.01M375.5 310.6h.01M368.7 320.7h.01M376.0 302.7h.01M367.9 311.2h.01M365.6 290.7h.01M373.2 307.1h.01M366.4 314.5h.01M379.0 286.7h.01M367.7 306.8h.01M366.2 298.0h.01M367.2 292.5h.01M367.4 300.5h.01M365.7 298.9h.01M372.6 319.0h.01M367.5 312.4h.01M374.6 279.0h.01M366.5 296.3h.01M375.4 280.2h.01M367.7 308.0h.01M369.7 320.6h.01M375.9 278.8h.01M377.9 295.2h.01M375.9 279.6h.01M375.2 318.4h.01M367.6 308.8h.01M375.9 305.2h.01M375.9 305.7h.01M368.8 279.6h.01M366.1 286.2h.01M375.4 280.3h.01M376.2 300.2h.01M379.8 291.5h.01M364.9 294.7h.01M373.6 278.5h.01M366.3 306.3h.01M364.4 288.8h.01M367.1 310.4h.01M366.5 308.6h.01M367.0 281.7h.01M380.6 288.4h.01M380.0 286.6h.01M365.7 294.5h.01M376.6 316.4h.01M380.7 286.3h.01M367.3 312.2h.01M372.9 319.9h.01M366.9 299.8h.01M368.0 319.6h.01M367.4 306.8h.01M380.1 289.8h.01M365.2 291.2h.01M368.1 280.4h.01M378.9 284.1h.01M365.2 292.3h.01M375.9 316.2h.01M375.8 301.4h.01M367.0 307.7h.01M376.4 281.4h.01M366.3 307.9h.01M367.1 294.5h.01M365.5 282.8h.01M378.2 281.1h.01M366.5 297.5h.01M379.0 285.0h.01M367.3 320.0h.01M376.1 281.1h.01M367.1 284.4h.01M380.2 286.3h.01M372.9 277.3h.01M376.2 300.6h.01M365.9 288.1h.01M372.8 276.7h.01M379.4 294.7h.01M366.5 295.7h.01M374.4 279.2h.01M366.6 282.7h.01M365.8 286.9h.01M371.4 278.4h.01M374.7 313.3h.01M366.2 314.4h.01M367.2 283.8h.01M369.8 320.8h.01M380.5 286.1h.01M366.4 284.0h.01M375.6 309.5h.01M366.2 293.3h.01M372.2 320.4h.01M367.7 308.2h.01M366.5 302.2h.01M370.3 278.5h.01M375.0 314.2h.01M366.4 318.8h.01M375.6 303.4h.01M365.9 294.0h.01M372.4 278.6h.01M369.4 279.8h.01M366.1 295.1h.01M374.4 307.7h.01M365.7 288.8h.01M366.9 300.4h.01M371.9 319.9h.01M377.9 297.9h.01M379.9 285.4h.01M367.5 305.4h.01M374.0 307.1h.01M369.8 278.4h.01M378.6 284.3h.01M373.8 305.3h.01M378.4 284.6h.01M365.7 297.0h.01M370.9 320.5h.01M376.3 298.7h.01M369.0 278.5h.01M380.0 289.5h.01M375.8 302.5h.01M379.4 292.3h.01M365.3 290.2h.01M378.1 295.6h.01M374.2 314.6h.01M365.6 290.2h.01M366.8 288.8h.01M380.5 288.7h.01M365.6 314.7h.01M366.9 302.5h.01M367.2 312.7h.01M375.1 303.2h.01M365.1 288.1h.01M365.6 292.5h.01M373.2 305.7h.01M379.9 282.9h.01M375.2 304.1h.01M376.4 280.7h.01M367.9 304.0h.01M366.8 310.7h.01M367.7 312.9h.01M366.2 310.2h.01M367.3 301.9h.01M379.0 293.3h.01M368.3 303.5h.01M365.9 316.5h.01M369.4 318.9h.01M372.7 277.8h.01M367.6 308.4h.01M376.0 303.6h.01M367.5 307.7h.01M378.2 293.2h.01M366.0 313.4h.01M371.3 277.5h.01M373.9 320.1h.01M367.8 309.6h.01M366.6 301.0h.01M368.4 304.2h.01M372.3 277.7h.01M376.6 299.7h.01M375.1 317.4h.01M374.5 308.5h.01M374.8 315.4h.01M365.3 312.0h.01M367.9 319.8h.01M368.7 319.6h.01" stroke="#111" stroke-width="0.55" stroke-linecap="round" opacity="0.6"/>
<path d="M392.4 320.7h.01M394.4 312.3h.01M396.0 307.1h.01M399.4 314.9h.01M395.9 303.7h.01M402.5 318.7h.01M397.1 307.6h.01M397.6 310.1h.01M400.1 303.3h.01M396.8 304.5h.01M400.4 321.3h.01M396.5 313.1h.01M400.7 307.6h.01M394.1 316.3h.01M398.2 308.2h.01M400.8 311.1h.01M391.8 311.8h.01M396.7 308.3h.01M398.0 311.2h.01M392.8 310.4h.01M395.8 318.7h.01M403.5 302.3h.01M394.1 304.1h.01M394.9 305.1h.01M396.9 316.7h.01M393.1 299.6h.01M391.6 316.8h.01M400.5 299.6h.01M392.2 310.5h.01M399.8 316.2h.01M397.3 314.0h.01M397.7 306.0h.01M402.1 309.6h.01M393.6 306.6h.01M392.4 309.7h.01M399.8 301.4h.01M397.8 302.1h.01M394.4 307.4h.01M393.2 301.5h.01M396.0 308.4h.01M398.5 301.8h.01M402.0 316.5h.01M399.3 305.4h.01M401.6 307.4h.01M401.9 316.6h.01M394.3 306.7h.01M402.0 316.1h.01M396.3 310.9h.01M397.3 304.6h.01M396.2 305.3h.01M395.6 312.7h.01M394.1 314.3h.01M397.1 314.6h.01M399.3 317.7h.01M398.5 314.2h.01M396.3 313.3h.01M394.2 308.0h.01M398.9 309.3h.01M398.0 302.7h.01M400.6 305.9h.01M397.9 309.5h.01M399.4 307.1h.01M394.0 297.3h.01M395.9 301.8h.01M398.3 319.0h.01M390.5 301.2h.01M397.6 317.7h.01M397.6 311.7h.01M398.2 313.4h.01M401.4 313.6h.01M393.3 306.5h.01M397.4 304.3h.01M396.0 306.2h.01M394.8 314.1h.01M395.7 302.5h.01M394.8 309.9h.01M402.7 311.3h.01M400.9 312.8h.01M390.7 312.1h.01M394.4 300.8h.01M393.7 321.3h.01M392.3 305.6h.01M400.0 314.0h.01M391.9 308.9h.01M395.3 308.3h.01M398.9 305.8h.01M395.9 319.2h.01M391.6 307.2h.01M398.1 301.4h.01M395.0 301.0h.01M397.2 305.5h.01M399.0 316.3h.01M396.9 307.1h.01M397.5 310.0h.01M393.3 316.6h.01M397.4 314.8h.01M392.9 315.3h.01M402.7 313.6h.01M392.7 309.8h.01M396.6 311.0h.01M396.1 312.8h.01M395.4 311.1h.01M394.8 310.2h.01M399.6 306.4h.01M398.6 303.8h.01M395.7 308.0h.01M400.3 304.5h.01M400.2 300.0h.01M396.3 315.6h.01M398.7 302.9h.01M393.3 315.3h.01M393.2 313.4h.01M395.3 309.5h.01M403.3 319.7h.01M399.1 300.5h.01M397.6 309.9h.01M396.5 318.3h.01M391.9 311.6h.01M397.1 304.6h.01M401.6 301.2h.01M396.8 310.1h.01M390.5 300.1h.01M394.0 314.7h.01M399.4 313.4h.01M397.4 295.1h.01M397.3 306.1h.01M400.0 318.4h.01M403.1 314.2h.01M399.0 302.7h.01M396.9 301.4h.01M399.3 301.7h.01M396.1 304.1h.01M395.4 312.5h.01M395.1 311.0h.01M393.9 318.7h.01M394.9 316.2h.01M402.8 293.4h.01M393.9 308.1h.01M400.0 306.3h.01M397.8 304.7h.01M398.3 301.5h.01M399.1 289.7h.01M391.3 321.5h.01M397.2 303.6h.01M403.0 316.4h.01M399.9 306.7h.01M398.5 312.8h.01M392.0 313.4h.01M396.2 318.0h.01M400.4 305.2h.01M395.0 310.7h.01M398.6 306.7h.01M396.4 313.5h.01M397.9 317.2h.01M397.4 303.6h.01M391.7 314.8h.01M395.7 307.1h.01M395.9 299.0h.01M395.6 292.2h.01M395.5 303.5h.01M402.0 312.4h.01M396.1 310.5h.01M398.8 304.4h.01M396.0 307.1h.01M403.8 309.9h.01M391.0 314.7h.01M404.1 303.1h.01M406.7 309.0h.01M399.6 305.7h.01M395.9 301.2h.01M393.6 295.1h.01M400.0 301.8h.01M397.7 311.6h.01M394.8 309.7h.01M396.4 306.1h.01M396.8 309.7h.01M393.7 300.7h.01M394.2 310.2h.01M400.7 319.2h.01M397.6 315.7h.01M397.0 316.8h.01M397.0 312.0h.01M395.8 309.4h.01M402.1 301.4h.01M396.7 305.4h.01M399.4 321.6h.01M395.8 290.8h.01M398.4 313.5h.01M391.8 307.7h.01M396.5 293.8h.01M398.6 312.3h.01M397.3 302.2h.01M394.6 305.1h.01M398.0 302.7h.01M400.9 311.9h.01M390.3 320.7h.01M397.1 305.6h.01" stroke="#333" stroke-width="0.45" stroke-linecap="round" opacity="0.6"/>
<rect x="386.40" y="231.30" width="25.30" height="26.40" fill="none" stroke="#888" stroke-width="1"/>
<rect x="359.40" y="196.30" width="62.60" height="61.40" fill="none" stroke="#8a8a8a" stroke-width="1"/>
<rect x="386.40" y="296.10" width="25.30" height="26.50" fill="none" stroke="#888" stroke-width="1"/>
<rect x="359.40" y="261.60" width="62.80" height="61.00" fill="none" stroke="#8a8a8a" stroke-width="1"/>
<text x="385.30" y="228.60" font-size="8.8" textLength="27.30" lengthAdjust="spacingAndGlyphs" stroke="#222" stroke-width="0.18">2.1&#177;0.4</text>
<text x="384.80" y="293.60" font-size="8.8" textLength="28.20" lengthAdjust="spacingAndGlyphs" stroke="#222" stroke-width="0.18">0.9&#177;0.2</text>
<line x1="405.00" y1="238.10" x2="423.00" y2="238.10" stroke="#111" stroke-width="1.2"/>
<path d="M427.5 238.1L422 235.6L422 240.6Z" fill="#111"/>
<line x1="405.00" y1="301.30" x2="423.00" y2="301.30" stroke="#111" stroke-width="1.2"/>
<path d="M427.5 301.3L422 298.8L422 303.8Z" fill="#111"/>
<path d="M352 253.5V330.4H368" stroke="#222" stroke-width="1.2" fill="none"/>
<path d="M352 249.4L349.6 254.4L354.4 254.4Z" fill="#111"/><path d="M372.4 330.4L367.4 328L367.4 332.8Z" fill="#111"/>
<path d="M431.2 253.5V330.3H447.5" stroke="#222" stroke-width="1.2" fill="none"/>
<path d="M431.2 249.4L428.8 254.4L433.6 254.4Z" fill="#111"/><path d="M451.6 330.3L446.6 327.9L446.6 332.7Z" fill="#111"/>
<text x="385.00" y="333.50" font-size="10.4" fill="#333" textLength="26.90" lengthAdjust="spacingAndGlyphs" stroke="#333" stroke-width="0.18">CD45.2</text>
<text x="461.60" y="333.40" font-size="10.4" fill="#333" textLength="19.20" lengthAdjust="spacingAndGlyphs" stroke="#333" stroke-width="0.18">B220</text>
<defs><radialGradient id="pop"><stop offset="0" stop-color="#fff"/><stop offset="0.12" stop-color="#5a5a5a"/><stop offset="0.5" stop-color="#959595"/><stop offset="0.85" stop-color="#ccc"/><stop offset="1" stop-color="#eee"/></radialGradient></defs>
<rect x="438.60" y="196.60" width="62.70" height="61.00" fill="#fff"/>
<rect x="438.80" y="261.50" width="62.50" height="61.00" fill="#fff"/>
<ellipse cx="453.4" cy="215.2" rx="5" ry="9.8" fill="url(#pop)" opacity="0.85"/>
<ellipse cx="453.4" cy="215.2" rx="1.19" ry="2.34" fill="none" stroke="#333" stroke-width="0.4" opacity="0.75"/>
<ellipse cx="453.4" cy="215.2" rx="2.08" ry="4.07" fill="none" stroke="#333" stroke-width="0.4" opacity="0.75"/>
<ellipse cx="453.4" cy="215.2" rx="2.87" ry="5.63" fill="none" stroke="#333" stroke-width="0.4" opacity="0.75"/>
<ellipse cx="453.4" cy="215.2" rx="3.61" ry="7.09" fill="none" stroke="#333" stroke-width="0.4" opacity="0.75"/>
<ellipse cx="453.4" cy="215.2" rx="4.32" ry="8.47" fill="none" stroke="#333" stroke-width="0.4" opacity="0.75"/>
<ellipse cx="453.4" cy="215.2" rx="5.00" ry="9.80" fill="none" stroke="#333" stroke-width="0.4" opacity="0.75"/>
<path d="M453.2 223.4h.01M453.2 221.8h.01M452.0 231.6h.01M454.4 227.2h.01M452.0 230.5h.01M453.0 228.7h.01M453.7 225.3h.01M453.9 222.6h.01M454.6 224.0h.01M452.4 226.4h.01M453.8 230.1h.01M453.4 229.5h.01M453.5 227.9h.01M451.1 222.1h.01M450.6 228.0h.01" stroke="#888" stroke-width="0.45" stroke-linecap="round" opacity="0.5"/>
<ellipse cx="452.8" cy="240.9" rx="4.7" ry="5.5" fill="url(#pop)" opacity="0.85"/>
<ellipse cx="452.8" cy="240.9" rx="1.12" ry="1.31" fill="none" stroke="#333" stroke-width="0.4" opacity="0.75"/>
<ellipse cx="452.8" cy="240.9" rx="1.95" ry="2.28" fill="none" stroke="#333" stroke-width="0.4" opacity="0.75"/>
<ellipse cx="452.8" cy="240.9" rx="2.70" ry="3.16" fill="none" stroke="#333" stroke-width="0.4" opacity="0.75"/>
<ellipse cx="452.8" cy="240.9" rx="3.40" ry="3.98" fill="none" stroke="#333" stroke-width="0.4" opacity="0.75"/>
<ellipse cx="452.8" cy="240.9" rx="4.06" ry="4.75" fill="none" stroke="#333" stroke-width="0.4" opacity="0.75"/>
<ellipse cx="452.8" cy="240.9" rx="4.70" ry="5.50" fill="none" stroke="#333" stroke-width="0.4" opacity="0.75"/>
<path d="M456 238.5C462 237.5,470 238.5,473 240C470 242,462 243,456 243" stroke="#999" stroke-width="0.5" fill="none"/>
<path d="M457 240C462 239.5,467 240,469 240.7C466 241.5,462 242,457 241.8" stroke="#bbb" stroke-width="0.5" fill="none"/>
<ellipse cx="453.4" cy="283.5" rx="5" ry="11.4" fill="url(#pop)" opacity="0.85"/>
<ellipse cx="453.4" cy="283.5" rx="1.19" ry="2.72" fill="none" stroke="#333" stroke-width="0.4" opacity="0.75"/>
<ellipse cx="453.4" cy="283.5" rx="2.08" ry="4.73" fill="none" stroke="#333" stroke-width="0.4" opacity="0.75"/>
<ellipse cx="453.4" cy="283.5" rx="2.87" ry="6.55" fill="none" stroke="#333" stroke-width="0.4" opacity="0.75"/>
<ellipse cx="453.4" cy="283.5" rx="3.61" ry="8.24" fill="none" stroke="#333" stroke-width="0.4" opacity="0.75"/>
<ellipse cx="453.4" cy="283.5" rx="4.32" ry="9.85" fill="none" stroke="#333" stroke-width="0.4" opacity="0.75"/>
<ellipse cx="453.4" cy="283.5" rx="5.00" ry="11.40" fill="none" stroke="#333" stroke-width="0.4" opacity="0.75"/>
<ellipse cx="468.3" cy="306.4" rx="8" ry="10" fill="url(#pop)" opacity="0.85"/>
<ellipse cx="468.3" cy="306.4" rx="1.91" ry="2.38" fill="none" stroke="#333" stroke-width="0.4" opacity="0.75"/>
<ellipse cx="468.3" cy="306.4" rx="3.32" ry="4.15" fill="none" stroke="#333" stroke-width="0.4" opacity="0.75"/>
<ellipse cx="468.3" cy="306.4" rx="4.59" ry="5.74" fill="none" stroke="#333" stroke-width="0.4" opacity="0.75"/>
<ellipse cx="468.3" cy="306.4" rx="5.78" ry="7.23" fill="none" stroke="#333" stroke-width="0.4" opacity="0.75"/>
<ellipse cx="468.3" cy="306.4" rx="6.91" ry="8.64" fill="none" stroke="#333" stroke-width="0.4" opacity="0.75"/>
<ellipse cx="468.3" cy="306.4" rx="8.00" ry="10.00" fill="none" stroke="#333" stroke-width="0.4" opacity="0.75"/>
<path d="M461.2 284.4h.01M463.1 283.8h.01M458.0 275.8h.01M454.2 292.8h.01M465.9 276.8h.01M461.0 288.0h.01M468.8 281.5h.01M462.9 292.5h.01M454.9 280.6h.01M462.0 280.7h.01M471.0 290.6h.01M463.0 279.2h.01" stroke="#888" stroke-width="0.45" stroke-linecap="round" opacity="0.5"/>
<line x1="460.40" y1="196.60" x2="460.40" y2="257.60" stroke="#333" stroke-width="0.9"/>
<line x1="438.60" y1="233.30" x2="501.30" y2="233.30" stroke="#333" stroke-width="0.9"/>
<rect x="438.60" y="196.60" width="62.70" height="61.00" fill="none" stroke="#8a8a8a" stroke-width="1"/>
<line x1="460.40" y1="261.50" x2="460.40" y2="322.50" stroke="#333" stroke-width="0.9"/>
<line x1="438.80" y1="297.80" x2="501.30" y2="297.80" stroke="#333" stroke-width="0.9"/>
<rect x="438.80" y="261.50" width="62.50" height="61.00" fill="none" stroke="#8a8a8a" stroke-width="1"/>
<text x="439.80" y="205.20" font-size="8.8" textLength="24.70" lengthAdjust="spacingAndGlyphs" stroke="#222" stroke-width="0.18">58&#177;6.3</text>
<text x="473.70" y="205.20" font-size="8.8" textLength="24.60" lengthAdjust="spacingAndGlyphs" stroke="#222" stroke-width="0.18">12&#177;3.8</text>
<text x="439.80" y="253.80" font-size="8.8" textLength="24.00" lengthAdjust="spacingAndGlyphs" stroke="#222" stroke-width="0.18">17&#177;1.2</text>
<text x="473.70" y="253.80" font-size="8.8" textLength="24.60" lengthAdjust="spacingAndGlyphs" stroke="#222" stroke-width="0.18">14&#177;3.8</text>
<text x="439.80" y="270.20" font-size="8.8" textLength="24.30" lengthAdjust="spacingAndGlyphs" stroke="#222" stroke-width="0.18">48&#177;4.1</text>
<text x="471.00" y="270.20" font-size="8.8" textLength="26.70" lengthAdjust="spacingAndGlyphs" stroke="#222" stroke-width="0.18">5.9&#177;1.1</text>
<text x="439.80" y="319.50" font-size="8.8" textLength="27.10" lengthAdjust="spacingAndGlyphs" stroke="#222" stroke-width="0.18">8.9&#177;6.2</text>
<text x="473.70" y="319.50" font-size="8.8" textLength="24.60" lengthAdjust="spacingAndGlyphs" stroke="#222" stroke-width="0.18">37&#177;6.8</text>
<text x="7.40" y="359.80" font-size="12.5" fill="#000" font-weight="bold" stroke="#000" stroke-width="0.45">F</text>
<text x="51.20" y="374.30" font-size="9.8" font-style="italic" textLength="27.60" lengthAdjust="spacingAndGlyphs" stroke="#222" stroke-width="0.18">Bach2</text>
<line x1="43.00" y1="387.40" x2="43.00" y2="428.40" stroke="#1a1a1a" stroke-width="1.3"/>
<line x1="43.00" y1="435.90" x2="43.00" y2="475.00" stroke="#1a1a1a" stroke-width="1.3"/>
<line x1="40.00" y1="474.40" x2="86.00" y2="474.40" stroke="#1a1a1a" stroke-width="1.3"/>
<line x1="40.00" y1="390.00" x2="43.00" y2="390.00" stroke="#1a1a1a" stroke-width="1.1"/>
<text x="35.80" y="392.90" font-size="8.4" text-anchor="end" textLength="12.90" lengthAdjust="spacingAndGlyphs" stroke="#222" stroke-width="0.18">250</text>
<line x1="40.00" y1="405.40" x2="43.00" y2="405.40" stroke="#1a1a1a" stroke-width="1.1"/>
<text x="35.80" y="407.30" font-size="8.4" text-anchor="end" textLength="12.90" lengthAdjust="spacingAndGlyphs" stroke="#222" stroke-width="0.18">200</text>
<line x1="40.00" y1="421.20" x2="43.00" y2="421.20" stroke="#1a1a1a" stroke-width="1.1"/>
<text x="35.80" y="421.40" font-size="8.4" text-anchor="end" textLength="12.90" lengthAdjust="spacingAndGlyphs" stroke="#222" stroke-width="0.18">150</text>
<line x1="40.00" y1="448.70" x2="43.00" y2="448.70" stroke="#1a1a1a" stroke-width="1.1"/>
<text x="35.80" y="451.70" font-size="8.4" text-anchor="end" textLength="4.30" lengthAdjust="spacingAndGlyphs" stroke="#222" stroke-width="0.18">4</text>
<line x1="40.00" y1="461.50" x2="43.00" y2="461.50" stroke="#1a1a1a" stroke-width="1.1"/>
<text x="35.80" y="464.50" font-size="8.4" text-anchor="end" textLength="4.30" lengthAdjust="spacingAndGlyphs" stroke="#222" stroke-width="0.18">2</text>
<line x1="40.00" y1="474.40" x2="43.00" y2="474.40" stroke="#1a1a1a" stroke-width="1.1"/>
<text x="35.80" y="477.40" font-size="8.4" text-anchor="end" textLength="4.30" lengthAdjust="spacingAndGlyphs" stroke="#222" stroke-width="0.18">0</text>
<text x="35.80" y="435.30" font-size="8.4" text-anchor="end" textLength="4.30" lengthAdjust="spacingAndGlyphs" stroke="#222" stroke-width="0.18">6</text>
<line x1="39.90" y1="430.80" x2="46.00" y2="427.00" stroke="#1a1a1a" stroke-width="1.0"/>
<line x1="39.90" y1="437.50" x2="46.00" y2="434.30" stroke="#1a1a1a" stroke-width="1.0"/>
<rect x="49.50" y="468.20" width="11.90" height="6.20" fill="#a3002a"/>
<rect x="68.00" y="397.10" width="11.80" height="31.20" fill="#2c4a7e"/>
<rect x="68.00" y="436.10" width="11.80" height="38.30" fill="#2c4a7e"/>
<line x1="73.90" y1="397.10" x2="73.90" y2="394.60" stroke="#333" stroke-width="1.1"/>
<line x1="72.40" y1="394.90" x2="75.40" y2="394.90" stroke="#333" stroke-width="1.1"/>
<path d="M55.6 441.6V386.8H74.6V390.3" stroke="#222" stroke-width="1.05" fill="none" stroke-linejoin="round"/>
<circle cx="65.00" cy="382.70" r="1.15" fill="#1a1a1a"/>
<text x="16.20" y="430.00" font-size="9" text-anchor="middle" textLength="69.00" lengthAdjust="spacingAndGlyphs" transform="rotate(-90 16.20 430.00)" stroke="#222" stroke-width="0.18">Relative expression</text>
<text x="116.30" y="374.30" font-size="9.8" font-style="italic" textLength="30.70" lengthAdjust="spacingAndGlyphs" stroke="#222" stroke-width="0.18">Cebp&#945;</text>
<line x1="110.30" y1="387.60" x2="110.30" y2="475.10" stroke="#1a1a1a" stroke-width="1.3"/>
<line x1="107.30" y1="474.50" x2="152.50" y2="474.50" stroke="#1a1a1a" stroke-width="1.3"/>
<line x1="107.30" y1="390.30" x2="110.30" y2="390.30" stroke="#1a1a1a" stroke-width="1.1"/>
<text x="103.10" y="393.30" font-size="8.4" text-anchor="end" textLength="4.30" lengthAdjust="spacingAndGlyphs" stroke="#222" stroke-width="0.18">6</text>
<line x1="107.30" y1="418.30" x2="110.30" y2="418.30" stroke="#1a1a1a" stroke-width="1.1"/>
<text x="103.10" y="421.30" font-size="8.4" text-anchor="end" textLength="4.30" lengthAdjust="spacingAndGlyphs" stroke="#222" stroke-width="0.18">4</text>
<line x1="107.30" y1="446.40" x2="110.30" y2="446.40" stroke="#1a1a1a" stroke-width="1.1"/>
<text x="103.10" y="449.40" font-size="8.4" text-anchor="end" textLength="4.30" lengthAdjust="spacingAndGlyphs" stroke="#222" stroke-width="0.18">2</text>
<line x1="107.30" y1="474.50" x2="110.30" y2="474.50" stroke="#1a1a1a" stroke-width="1.1"/>
<text x="103.10" y="477.50" font-size="8.4" text-anchor="end" textLength="4.30" lengthAdjust="spacingAndGlyphs" stroke="#222" stroke-width="0.18">0</text>
<rect x="116.70" y="410.80" width="11.70" height="63.70" fill="#a3002a"/>
<line x1="122.55" y1="410.80" x2="122.55" y2="399.70" stroke="#333" stroke-width="1.1"/>
<line x1="121.05" y1="400.10" x2="124.05" y2="400.10" stroke="#333" stroke-width="1.1"/>
<rect x="135.00" y="439.80" width="11.80" height="34.70" fill="#2c4a7e"/>
<line x1="140.90" y1="439.80" x2="140.90" y2="433.30" stroke="#333" stroke-width="1.1"/>
<line x1="139.40" y1="433.70" x2="142.40" y2="433.70" stroke="#333" stroke-width="1.1"/>
<path d="M122.50 393.80V390.60H140.90V421.30" stroke="#222" stroke-width="1.05" fill="none" stroke-linejoin="round"/>
<circle cx="131.60" cy="386.80" r="1.15" fill="#1a1a1a"/>
<text x="194.00" y="374.30" font-size="9.8" font-style="italic" textLength="19.20" lengthAdjust="spacingAndGlyphs" stroke="#222" stroke-width="0.18">Spic</text>
<line x1="182.20" y1="387.60" x2="182.20" y2="475.20" stroke="#1a1a1a" stroke-width="1.3"/>
<line x1="179.20" y1="474.60" x2="224.80" y2="474.60" stroke="#1a1a1a" stroke-width="1.3"/>
<line x1="179.20" y1="390.60" x2="182.20" y2="390.60" stroke="#1a1a1a" stroke-width="1.1"/>
<text x="175.00" y="393.60" font-size="8.4" text-anchor="end" textLength="8.60" lengthAdjust="spacingAndGlyphs" stroke="#222" stroke-width="0.18">10</text>
<line x1="179.20" y1="407.40" x2="182.20" y2="407.40" stroke="#1a1a1a" stroke-width="1.1"/>
<text x="175.00" y="410.40" font-size="8.4" text-anchor="end" textLength="4.30" lengthAdjust="spacingAndGlyphs" stroke="#222" stroke-width="0.18">8</text>
<line x1="179.20" y1="424.20" x2="182.20" y2="424.20" stroke="#1a1a1a" stroke-width="1.1"/>
<text x="175.00" y="427.20" font-size="8.4" text-anchor="end" textLength="4.30" lengthAdjust="spacingAndGlyphs" stroke="#222" stroke-width="0.18">6</text>
<line x1="179.20" y1="441.00" x2="182.20" y2="441.00" stroke="#1a1a1a" stroke-width="1.1"/>
<text x="175.00" y="444.00" font-size="8.4" text-anchor="end" textLength="4.30" lengthAdjust="spacingAndGlyphs" stroke="#222" stroke-width="0.18">4</text>
<line x1="179.20" y1="457.80" x2="182.20" y2="457.80" stroke="#1a1a1a" stroke-width="1.1"/>
<text x="175.00" y="460.80" font-size="8.4" text-anchor="end" textLength="4.30" lengthAdjust="spacingAndGlyphs" stroke="#222" stroke-width="0.18">2</text>
<line x1="179.20" y1="474.60" x2="182.20" y2="474.60" stroke="#1a1a1a" stroke-width="1.1"/>
<text x="175.00" y="477.60" font-size="8.4" text-anchor="end" textLength="4.30" lengthAdjust="spacingAndGlyphs" stroke="#222" stroke-width="0.18">0</text>
<rect x="188.30" y="416.90" width="11.80" height="57.70" fill="#a3002a"/>
<line x1="194.20" y1="416.90" x2="194.20" y2="409.40" stroke="#333" stroke-width="1.1"/>
<line x1="192.70" y1="409.80" x2="195.70" y2="409.80" stroke="#333" stroke-width="1.1"/>
<rect x="206.40" y="452.50" width="12.10" height="22.10" fill="#2c4a7e"/>
<line x1="212.45" y1="452.50" x2="212.45" y2="451.60" stroke="#333" stroke-width="1.1"/>
<line x1="210.95" y1="452.00" x2="213.95" y2="452.00" stroke="#333" stroke-width="1.1"/>
<path d="M194.50 393.80V391.00H212.50V440.70" stroke="#222" stroke-width="1.05" fill="none" stroke-linejoin="round"/>
<circle cx="203.80" cy="387.10" r="1.15" fill="#1a1a1a"/>
<text x="58.70" y="481.20" font-size="9.5" text-anchor="end" textLength="24.38" lengthAdjust="spacingAndGlyphs" transform="rotate(-45 58.70 481.20)" stroke="#222" stroke-width="0.18">Vector</text>
<text x="77.70" y="481.20" font-size="9.5" text-anchor="end" textLength="24.38" lengthAdjust="spacingAndGlyphs" transform="rotate(-45 77.70 481.20)" stroke="#222" stroke-width="0.18">Bach2</text>
<text x="125.70" y="481.20" font-size="9.5" text-anchor="end" textLength="24.38" lengthAdjust="spacingAndGlyphs" transform="rotate(-45 125.70 481.20)" stroke="#222" stroke-width="0.18">Vector</text>
<text x="144.70" y="481.20" font-size="9.5" text-anchor="end" textLength="24.38" lengthAdjust="spacingAndGlyphs" transform="rotate(-45 144.70 481.20)" stroke="#222" stroke-width="0.18">Bach2</text>
<text x="197.70" y="481.20" font-size="9.5" text-anchor="end" textLength="24.38" lengthAdjust="spacingAndGlyphs" transform="rotate(-45 197.70 481.20)" stroke="#222" stroke-width="0.18">Vector</text>
<text x="216.70" y="481.20" font-size="9.5" text-anchor="end" textLength="24.38" lengthAdjust="spacingAndGlyphs" transform="rotate(-45 216.70 481.20)" stroke="#222" stroke-width="0.18">Bach2</text>
<text x="237.90" y="359.60" font-size="12.5" fill="#000" font-weight="bold" stroke="#000" stroke-width="0.45">G</text>
<text x="272.00" y="374.10" font-size="9.6" textLength="43.10" lengthAdjust="spacingAndGlyphs" stroke="#222" stroke-width="0.18">TriB (lym)</text>
<line x1="271.60" y1="387.60" x2="271.60" y2="475.00" stroke="#1a1a1a" stroke-width="1.3"/>
<line x1="268.60" y1="474.40" x2="315.10" y2="474.40" stroke="#1a1a1a" stroke-width="1.3"/>
<line x1="268.60" y1="390.30" x2="271.60" y2="390.30" stroke="#1a1a1a" stroke-width="1.1"/>
<text x="264.40" y="393.30" font-size="8.4" text-anchor="end" textLength="8.60" lengthAdjust="spacingAndGlyphs" stroke="#222" stroke-width="0.18">50</text>
<line x1="268.60" y1="407.10" x2="271.60" y2="407.10" stroke="#1a1a1a" stroke-width="1.1"/>
<text x="264.40" y="410.10" font-size="8.4" text-anchor="end" textLength="8.60" lengthAdjust="spacingAndGlyphs" stroke="#222" stroke-width="0.18">40</text>
<line x1="268.60" y1="423.90" x2="271.60" y2="423.90" stroke="#1a1a1a" stroke-width="1.1"/>
<text x="264.40" y="426.90" font-size="8.4" text-anchor="end" textLength="8.60" lengthAdjust="spacingAndGlyphs" stroke="#222" stroke-width="0.18">30</text>
<line x1="268.60" y1="440.80" x2="271.60" y2="440.80" stroke="#1a1a1a" stroke-width="1.1"/>
<text x="264.40" y="443.80" font-size="8.4" text-anchor="end" textLength="8.60" lengthAdjust="spacingAndGlyphs" stroke="#222" stroke-width="0.18">20</text>
<line x1="268.60" y1="457.60" x2="271.60" y2="457.60" stroke="#1a1a1a" stroke-width="1.1"/>
<text x="264.40" y="460.60" font-size="8.4" text-anchor="end" textLength="8.60" lengthAdjust="spacingAndGlyphs" stroke="#222" stroke-width="0.18">10</text>
<line x1="268.60" y1="474.40" x2="271.60" y2="474.40" stroke="#1a1a1a" stroke-width="1.1"/>
<text x="264.40" y="477.40" font-size="8.4" text-anchor="end" textLength="4.30" lengthAdjust="spacingAndGlyphs" stroke="#222" stroke-width="0.18">0</text>
<rect x="278.20" y="398.20" width="11.80" height="76.20" fill="#a3002a"/>
<line x1="284.10" y1="398.20" x2="284.10" y2="392.00" stroke="#333" stroke-width="1.1"/>
<line x1="282.60" y1="392.40" x2="285.60" y2="392.40" stroke="#333" stroke-width="1.1"/>
<rect x="296.30" y="445.40" width="12.30" height="29.00" fill="#2c4a7e"/>
<line x1="302.45" y1="445.40" x2="302.45" y2="439.30" stroke="#333" stroke-width="1.1"/>
<line x1="300.95" y1="439.70" x2="303.95" y2="439.70" stroke="#333" stroke-width="1.1"/>
<path d="M283.50 389.70V387.10H303.70V417.30" stroke="#222" stroke-width="1.05" fill="none" stroke-linejoin="round"/>
<circle cx="293.50" cy="382.70" r="1.15" fill="#1a1a1a"/>
<text x="247.70" y="429.80" font-size="9" text-anchor="middle" textLength="70.00" lengthAdjust="spacingAndGlyphs" transform="rotate(-90 247.70 429.80)" stroke="#222" stroke-width="0.18">Cell number (x10<tspan font-size="5.5" dy="-3">3</tspan><tspan dy="3">)</tspan></text>
<text x="284.70" y="481.20" font-size="9.5" text-anchor="end" textLength="24.38" lengthAdjust="spacingAndGlyphs" transform="rotate(-45 284.70 481.20)" stroke="#222" stroke-width="0.18">Vector</text>
<text x="303.70" y="481.20" font-size="9.5" text-anchor="end" textLength="24.38" lengthAdjust="spacingAndGlyphs" transform="rotate(-45 303.70 481.20)" stroke="#222" stroke-width="0.18">Bach2</text>
<text x="328.00" y="359.60" font-size="12.5" fill="#000" font-weight="bold" stroke="#000" stroke-width="0.45">H</text>
<text x="372.70" y="374.00" font-size="9.4" textLength="34.30" lengthAdjust="spacingAndGlyphs" stroke="#222" stroke-width="0.18">Bswitch</text>
<line x1="361.80" y1="388.00" x2="361.80" y2="474.90" stroke="#1a1a1a" stroke-width="1.3"/>
<line x1="358.80" y1="474.30" x2="417.20" y2="474.30" stroke="#1a1a1a" stroke-width="1.3"/>
<line x1="358.80" y1="391.00" x2="361.80" y2="391.00" stroke="#1a1a1a" stroke-width="1.1"/>
<text x="354.60" y="394.00" font-size="8.4" text-anchor="end" textLength="8.60" lengthAdjust="spacingAndGlyphs" stroke="#222" stroke-width="0.18">80</text>
<line x1="358.80" y1="412.30" x2="361.80" y2="412.30" stroke="#1a1a1a" stroke-width="1.1"/>
<text x="354.60" y="415.30" font-size="8.4" text-anchor="end" textLength="8.60" lengthAdjust="spacingAndGlyphs" stroke="#222" stroke-width="0.18">60</text>
<line x1="358.80" y1="433.20" x2="361.80" y2="433.20" stroke="#1a1a1a" stroke-width="1.1"/>
<text x="354.60" y="436.20" font-size="8.4" text-anchor="end" textLength="8.60" lengthAdjust="spacingAndGlyphs" stroke="#222" stroke-width="0.18">40</text>
<line x1="358.80" y1="453.80" x2="361.80" y2="453.80" stroke="#1a1a1a" stroke-width="1.1"/>
<text x="354.60" y="456.80" font-size="8.4" text-anchor="end" textLength="8.60" lengthAdjust="spacingAndGlyphs" stroke="#222" stroke-width="0.18">20</text>
<line x1="358.80" y1="474.30" x2="361.80" y2="474.30" stroke="#1a1a1a" stroke-width="1.1"/>
<text x="354.60" y="477.30" font-size="8.4" text-anchor="end" textLength="4.30" lengthAdjust="spacingAndGlyphs" stroke="#222" stroke-width="0.18">0</text>
<rect x="368.10" y="410.00" width="11.10" height="64.30" fill="#d08878"/>
<rect x="384.10" y="467.60" width="11.60" height="6.70" fill="#c6dea0"/>
<rect x="400.80" y="469.30" width="11.70" height="5.00" fill="#a8b4d8"/>
<circle cx="372.30" cy="405.00" r="3.10" fill="#b01030" stroke="#3a0010" stroke-width="0.7"/>
<circle cx="373.00" cy="414.80" r="3.10" fill="#b01030" stroke="#3a0010" stroke-width="0.7"/>
<circle cx="374.60" cy="410.30" r="3.10" fill="#b01030" stroke="#3a0010" stroke-width="0.7"/>
<circle cx="386.80" cy="464.20" r="3.10" fill="#6ab034" stroke="#2a4a10" stroke-width="0.7"/>
<circle cx="390.20" cy="464.60" r="3.10" fill="#6ab034" stroke="#2a4a10" stroke-width="0.7"/>
<circle cx="393.60" cy="464.60" r="3.10" fill="#6ab034" stroke="#2a4a10" stroke-width="0.7"/>
<circle cx="405.20" cy="466.40" r="3.10" fill="#2a4a8a" stroke="#101a3a" stroke-width="0.7"/>
<circle cx="406.00" cy="469.40" r="3.10" fill="#2a4a8a" stroke="#101a3a" stroke-width="0.7"/>
<circle cx="410.20" cy="468.10" r="3.10" fill="#2a4a8a" stroke="#101a3a" stroke-width="0.7"/>
<text x="388.00" y="443.40" font-size="8.5" textLength="20.60" lengthAdjust="spacingAndGlyphs" stroke="#222" stroke-width="0.18">4OHT</text>
<path d="M389.9 458.2V455.6H408.9V458.2" stroke="#222" stroke-width="1.05" fill="none" stroke-linejoin="round"/>
<circle cx="397.40" cy="451.20" r="1.15" fill="#1a1a1a"/>
<circle cx="401.40" cy="451.20" r="1.15" fill="#1a1a1a"/>
<text x="380.80" y="503.00" font-size="8.5" textLength="17.70" lengthAdjust="spacingAndGlyphs" stroke="#222" stroke-width="0.18">(&#956;M)</text>
<text x="338.20" y="430.60" font-size="9" text-anchor="middle" textLength="70.00" lengthAdjust="spacingAndGlyphs" transform="rotate(-90 338.20 430.60)" stroke="#222" stroke-width="0.18">Cell number (x10<tspan font-size="5.5" dy="-3">4</tspan><tspan dy="3">)</tspan></text>
<text x="376.70" y="481.20" font-size="9.5" text-anchor="end" textLength="16.25" lengthAdjust="spacingAndGlyphs" transform="rotate(-45 376.70 481.20)" stroke="#222" stroke-width="0.18">CTL</text>
<text x="392.70" y="481.20" font-size="9.5" text-anchor="end" textLength="16.74" lengthAdjust="spacingAndGlyphs" transform="rotate(-45 392.70 481.20)" stroke="#222" stroke-width="0.18">0.05</text>
<text x="408.20" y="481.20" font-size="9.5" text-anchor="end" textLength="11.95" lengthAdjust="spacingAndGlyphs" transform="rotate(-45 408.20 481.20)" stroke="#222" stroke-width="0.18">0.1</text>
<text x="430.40" y="359.40" font-size="12.5" fill="#000" font-weight="bold" stroke="#000" stroke-width="0.45">I</text>
<line x1="469.40" y1="387.40" x2="469.40" y2="475.00" stroke="#1a1a1a" stroke-width="1.3"/>
<line x1="466.40" y1="474.40" x2="512.20" y2="474.40" stroke="#1a1a1a" stroke-width="1.3"/>
<line x1="466.40" y1="390.30" x2="469.40" y2="390.30" stroke="#1a1a1a" stroke-width="1.1"/>
<text x="462.20" y="393.30" font-size="8.4" text-anchor="end" textLength="12.90" lengthAdjust="spacingAndGlyphs" stroke="#222" stroke-width="0.18">100</text>
<line x1="466.40" y1="407.10" x2="469.40" y2="407.10" stroke="#1a1a1a" stroke-width="1.1"/>
<text x="462.20" y="410.10" font-size="8.4" text-anchor="end" textLength="8.60" lengthAdjust="spacingAndGlyphs" stroke="#222" stroke-width="0.18">80</text>
<line x1="466.40" y1="423.90" x2="469.40" y2="423.90" stroke="#1a1a1a" stroke-width="1.1"/>
<text x="462.20" y="426.90" font-size="8.4" text-anchor="end" textLength="8.60" lengthAdjust="spacingAndGlyphs" stroke="#222" stroke-width="0.18">60</text>
<line x1="466.40" y1="440.80" x2="469.40" y2="440.80" stroke="#1a1a1a" stroke-width="1.1"/>
<text x="462.20" y="443.80" font-size="8.4" text-anchor="end" textLength="8.60" lengthAdjust="spacingAndGlyphs" stroke="#222" stroke-width="0.18">40</text>
<line x1="466.40" y1="457.60" x2="469.40" y2="457.60" stroke="#1a1a1a" stroke-width="1.1"/>
<text x="462.20" y="460.60" font-size="8.4" text-anchor="end" textLength="8.60" lengthAdjust="spacingAndGlyphs" stroke="#222" stroke-width="0.18">20</text>
<line x1="466.40" y1="474.40" x2="469.40" y2="474.40" stroke="#1a1a1a" stroke-width="1.1"/>
<text x="462.20" y="477.40" font-size="8.4" text-anchor="end" textLength="4.30" lengthAdjust="spacingAndGlyphs" stroke="#222" stroke-width="0.18">0</text>
<rect x="475.90" y="406.80" width="11.70" height="67.60" fill="#a3002a"/>
<line x1="481.75" y1="406.80" x2="481.75" y2="395.50" stroke="#333" stroke-width="1.1"/>
<line x1="480.25" y1="395.90" x2="483.25" y2="395.90" stroke="#333" stroke-width="1.1"/>
<rect x="494.00" y="434.00" width="12.00" height="40.40" fill="#2c4a7e"/>
<line x1="500.00" y1="434.00" x2="500.00" y2="425.30" stroke="#333" stroke-width="1.1"/>
<line x1="498.50" y1="425.70" x2="501.50" y2="425.70" stroke="#333" stroke-width="1.1"/>
<path d="M480.30 390.30V387.50H501.30V417.80" stroke="#222" stroke-width="1.05" fill="none" stroke-linejoin="round"/>
<circle cx="491.10" cy="382.70" r="1.15" fill="#1a1a1a"/>
<text x="441.50" y="428.30" font-size="9" text-anchor="middle" textLength="88.00" lengthAdjust="spacingAndGlyphs" transform="rotate(-90 441.50 428.30)" stroke="#222" stroke-width="0.18">Percentage of BrdU<tspan font-size="5.5" dy="-3">+</tspan><tspan dy="3"> cells</tspan></text>
<text x="484.20" y="481.20" font-size="9.5" text-anchor="end" textLength="24.38" lengthAdjust="spacingAndGlyphs" transform="rotate(-45 484.20 481.20)" stroke="#222" stroke-width="0.18">Vector</text>
<text x="503.20" y="481.20" font-size="9.5" text-anchor="end" textLength="24.38" lengthAdjust="spacingAndGlyphs" transform="rotate(-45 503.20 481.20)" stroke="#222" stroke-width="0.18">Bach2</text></svg></body></html>
